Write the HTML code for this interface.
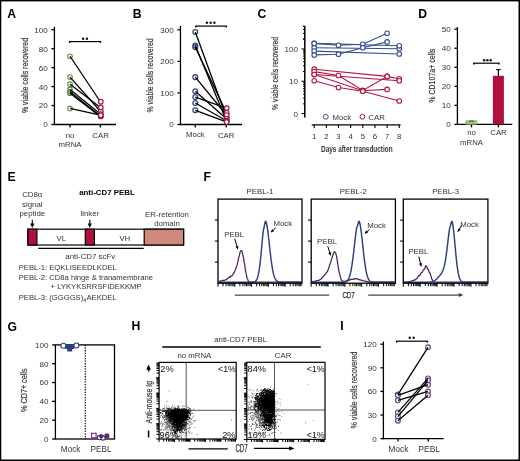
<!DOCTYPE html><html><head><meta charset="utf-8"><style>html,body{margin:0;padding:0;background:#fff}svg{display:block;will-change:transform}</style></head><body>
<svg width="520" height="461" viewBox="0 0 520 461" font-family='"Liberation Sans", sans-serif'>
<rect x="0" y="0" width="520" height="461" fill="#fff"/>
<text x="7.3" y="17.6" font-size="12.2" font-weight="bold" fill="#000">A</text>
<line x1="54.40" y1="26.70" x2="54.40" y2="125.15" stroke="#000" stroke-width="1.3" />
<line x1="51.40" y1="124.50" x2="54.40" y2="124.50" stroke="#000" stroke-width="1.3" />
<text x="47.8" y="127.42" font-size="8.1" text-anchor="end" fill="#333" font-weight="normal" >0</text>
<line x1="51.40" y1="105.54" x2="54.40" y2="105.54" stroke="#000" stroke-width="1.3" />
<text x="47.8" y="108.46" font-size="8.1" text-anchor="end" fill="#333" font-weight="normal" >20</text>
<line x1="51.40" y1="86.58" x2="54.40" y2="86.58" stroke="#000" stroke-width="1.3" />
<text x="47.8" y="89.5" font-size="8.1" text-anchor="end" fill="#333" font-weight="normal" >40</text>
<line x1="51.40" y1="67.62" x2="54.40" y2="67.62" stroke="#000" stroke-width="1.3" />
<text x="47.8" y="70.54" font-size="8.1" text-anchor="end" fill="#333" font-weight="normal" >60</text>
<line x1="51.40" y1="48.66" x2="54.40" y2="48.66" stroke="#000" stroke-width="1.3" />
<text x="47.8" y="51.58" font-size="8.1" text-anchor="end" fill="#333" font-weight="normal" >80</text>
<line x1="51.40" y1="29.70" x2="54.40" y2="29.70" stroke="#000" stroke-width="1.3" />
<text x="47.8" y="32.62" font-size="8.1" text-anchor="end" fill="#333" font-weight="normal" >100</text>
<line x1="53.75" y1="124.50" x2="116.00" y2="124.50" stroke="#000" stroke-width="1.3" />
<line x1="70.00" y1="124.50" x2="70.00" y2="127.50" stroke="#000" stroke-width="1.3" />
<line x1="100.40" y1="124.50" x2="100.40" y2="127.50" stroke="#000" stroke-width="1.3" />
<text x="70" y="137.71" font-size="7.8" text-anchor="middle" fill="#333" font-weight="normal" >no</text>
<text x="70" y="146.71" font-size="7.8" text-anchor="middle" fill="#333" font-weight="normal" >mRNA</text>
<text x="100.6" y="138.01" font-size="7.8" text-anchor="middle" fill="#333" font-weight="normal" >CAR</text>
<text transform="translate(27.6,75.5) rotate(-90)" x="0" y="0" font-size="9.4" text-anchor="middle" fill="#333" stroke="#333" stroke-width="0.2" textLength="75" lengthAdjust="spacingAndGlyphs">% viable cells recovered</text>
<line x1="69.20" y1="41.60" x2="100.80" y2="41.60" stroke="#000" stroke-width="1.2" />
<circle cx="69.60000000000001" cy="42.1" r="0.9" fill="#000"/><circle cx="100.39999999999999" cy="42.1" r="0.9" fill="#000"/>
<circle cx="83.1" cy="38.8" r="1.2" fill="#111"/>
<circle cx="86.9" cy="38.8" r="1.2" fill="#111"/>
<circle cx="70.00" cy="56.24" r="2.3" fill="none" stroke="#5f8f45" stroke-width="1.1"/>
<circle cx="70.00" cy="77.10" r="2.3" fill="none" stroke="#5f8f45" stroke-width="1.1"/>
<circle cx="70.00" cy="84.21" r="2.3" fill="none" stroke="#5f8f45" stroke-width="1.1"/>
<circle cx="70.00" cy="89.42" r="2.3" fill="none" stroke="#5f8f45" stroke-width="1.1"/>
<circle cx="70.00" cy="91.79" r="2.3" fill="none" stroke="#5f8f45" stroke-width="1.1"/>
<circle cx="70.00" cy="93.22" r="2.3" fill="none" stroke="#5f8f45" stroke-width="1.1"/>
<circle cx="70.00" cy="108.38" r="2.3" fill="none" stroke="#5f8f45" stroke-width="1.1"/>
<line x1="70.00" y1="56.24" x2="100.40" y2="101.75" stroke="#000" stroke-width="1.3" />
<line x1="70.00" y1="77.10" x2="100.40" y2="111.23" stroke="#000" stroke-width="1.3" />
<line x1="70.00" y1="84.21" x2="100.40" y2="107.44" stroke="#000" stroke-width="1.3" />
<line x1="70.00" y1="89.42" x2="100.40" y2="114.07" stroke="#000" stroke-width="1.3" />
<line x1="70.00" y1="91.79" x2="100.40" y2="115.97" stroke="#000" stroke-width="1.3" />
<line x1="70.00" y1="93.22" x2="100.40" y2="116.44" stroke="#000" stroke-width="1.3" />
<line x1="70.00" y1="108.38" x2="100.40" y2="115.21" stroke="#000" stroke-width="1.3" />
<circle cx="100.80" cy="101.75" r="2.3" fill="#fff" stroke="#9c1840" stroke-width="1.2"/>
<circle cx="100.80" cy="111.23" r="2.3" fill="#fff" stroke="#9c1840" stroke-width="1.2"/>
<circle cx="100.80" cy="107.44" r="2.3" fill="#fff" stroke="#9c1840" stroke-width="1.2"/>
<circle cx="100.80" cy="114.07" r="2.3" fill="#fff" stroke="#9c1840" stroke-width="1.2"/>
<circle cx="100.80" cy="115.97" r="2.3" fill="#fff" stroke="#9c1840" stroke-width="1.2"/>
<circle cx="100.80" cy="116.44" r="2.3" fill="#fff" stroke="#9c1840" stroke-width="1.2"/>
<circle cx="100.80" cy="115.21" r="2.3" fill="#fff" stroke="#9c1840" stroke-width="1.2"/>
<text x="132.7" y="17.6" font-size="12.2" font-weight="bold" fill="#000">B</text>
<line x1="180.45" y1="26.00" x2="180.45" y2="125.15" stroke="#000" stroke-width="1.3" />
<line x1="177.45" y1="124.50" x2="180.45" y2="124.50" stroke="#000" stroke-width="1.3" />
<text x="173.85" y="127.42" font-size="8.1" text-anchor="end" fill="#333" font-weight="normal" >0</text>
<line x1="177.45" y1="92.93" x2="180.45" y2="92.93" stroke="#000" stroke-width="1.3" />
<text x="173.85" y="95.85" font-size="8.1" text-anchor="end" fill="#333" font-weight="normal" >100</text>
<line x1="177.45" y1="61.37" x2="180.45" y2="61.37" stroke="#000" stroke-width="1.3" />
<text x="173.85" y="64.28" font-size="8.1" text-anchor="end" fill="#333" font-weight="normal" >200</text>
<line x1="177.45" y1="29.80" x2="180.45" y2="29.80" stroke="#000" stroke-width="1.3" />
<text x="173.85" y="32.72" font-size="8.1" text-anchor="end" fill="#333" font-weight="normal" >300</text>
<line x1="179.80" y1="124.50" x2="242.00" y2="124.50" stroke="#000" stroke-width="1.3" />
<line x1="195.30" y1="124.50" x2="195.30" y2="127.50" stroke="#000" stroke-width="1.3" />
<line x1="226.20" y1="124.50" x2="226.20" y2="127.50" stroke="#000" stroke-width="1.3" />
<text x="195.4" y="136.61" font-size="7.8" text-anchor="middle" fill="#333" font-weight="normal" >Mock</text>
<text x="226.2" y="137.81" font-size="7.8" text-anchor="middle" fill="#333" font-weight="normal" >CAR</text>
<text transform="translate(153.2,75.4) rotate(-90)" x="0" y="0" font-size="9.4" text-anchor="middle" fill="#333" stroke="#333" stroke-width="0.2" textLength="74" lengthAdjust="spacingAndGlyphs">% viable cells recovered</text>
<line x1="195.40" y1="26.10" x2="226.70" y2="26.10" stroke="#000" stroke-width="1.2" />
<circle cx="195.8" cy="26.6" r="0.9" fill="#000"/><circle cx="226.29999999999998" cy="26.6" r="0.9" fill="#000"/>
<circle cx="206.9" cy="22.7" r="1.2" fill="#111"/>
<circle cx="210.65" cy="22.7" r="1.2" fill="#111"/>
<circle cx="214.4" cy="22.7" r="1.2" fill="#111"/>
<circle cx="195.30" cy="32.01" r="2.4" fill="none" stroke="#3a4a72" stroke-width="1.3"/>
<circle cx="195.30" cy="45.58" r="2.4" fill="none" stroke="#3a4a72" stroke-width="1.3"/>
<circle cx="195.30" cy="47.16" r="2.4" fill="none" stroke="#3a4a72" stroke-width="1.3"/>
<circle cx="195.30" cy="77.15" r="2.4" fill="none" stroke="#3a4a72" stroke-width="1.3"/>
<circle cx="195.30" cy="91.36" r="2.4" fill="none" stroke="#3a4a72" stroke-width="1.3"/>
<circle cx="195.30" cy="97.04" r="2.4" fill="none" stroke="#3a4a72" stroke-width="1.3"/>
<circle cx="195.30" cy="103.03" r="2.4" fill="none" stroke="#3a4a72" stroke-width="1.3"/>
<circle cx="195.30" cy="110.30" r="2.4" fill="none" stroke="#3a4a72" stroke-width="1.3"/>
<line x1="195.30" y1="32.01" x2="226.40" y2="117.24" stroke="#000" stroke-width="1.3" />
<line x1="195.30" y1="45.58" x2="226.40" y2="120.71" stroke="#000" stroke-width="1.3" />
<line x1="195.30" y1="47.16" x2="226.40" y2="112.82" stroke="#000" stroke-width="1.3" />
<line x1="195.30" y1="77.15" x2="226.40" y2="115.03" stroke="#000" stroke-width="1.3" />
<line x1="195.30" y1="91.36" x2="226.40" y2="118.82" stroke="#000" stroke-width="1.3" />
<line x1="195.30" y1="97.04" x2="226.40" y2="108.09" stroke="#000" stroke-width="1.3" />
<line x1="195.30" y1="103.03" x2="226.40" y2="120.71" stroke="#000" stroke-width="1.3" />
<line x1="195.30" y1="110.30" x2="226.40" y2="121.97" stroke="#000" stroke-width="1.3" />
<circle cx="226.70" cy="117.24" r="2.3" fill="#fff" stroke="#9c1840" stroke-width="1.2"/>
<circle cx="226.70" cy="120.71" r="2.3" fill="#fff" stroke="#9c1840" stroke-width="1.2"/>
<circle cx="226.70" cy="112.82" r="2.3" fill="#fff" stroke="#9c1840" stroke-width="1.2"/>
<circle cx="226.70" cy="115.03" r="2.3" fill="#fff" stroke="#9c1840" stroke-width="1.2"/>
<circle cx="226.70" cy="118.82" r="2.3" fill="#fff" stroke="#9c1840" stroke-width="1.2"/>
<circle cx="226.70" cy="108.09" r="2.3" fill="#fff" stroke="#9c1840" stroke-width="1.2"/>
<circle cx="226.70" cy="120.71" r="2.3" fill="#fff" stroke="#9c1840" stroke-width="1.2"/>
<circle cx="226.70" cy="121.97" r="2.3" fill="#fff" stroke="#9c1840" stroke-width="1.2"/>
<text x="257.6" y="17.6" font-size="12.2" font-weight="bold" fill="#000">C</text>
<line x1="304.80" y1="25.90" x2="304.80" y2="117.40" stroke="#000" stroke-width="1.5" />
<line x1="301.40" y1="113.60" x2="304.80" y2="113.60" stroke="#000" stroke-width="1" />
<line x1="303.00" y1="103.86" x2="304.80" y2="103.86" stroke="#000" stroke-width="1" />
<line x1="303.00" y1="98.17" x2="304.80" y2="98.17" stroke="#000" stroke-width="1" />
<line x1="303.00" y1="94.12" x2="304.80" y2="94.12" stroke="#000" stroke-width="1" />
<line x1="303.00" y1="90.99" x2="304.80" y2="90.99" stroke="#000" stroke-width="1" />
<line x1="303.00" y1="88.43" x2="304.80" y2="88.43" stroke="#000" stroke-width="1" />
<line x1="303.00" y1="86.26" x2="304.80" y2="86.26" stroke="#000" stroke-width="1" />
<line x1="303.00" y1="84.39" x2="304.80" y2="84.39" stroke="#000" stroke-width="1" />
<line x1="303.00" y1="82.73" x2="304.80" y2="82.73" stroke="#000" stroke-width="1" />
<line x1="301.40" y1="81.25" x2="304.80" y2="81.25" stroke="#000" stroke-width="1" />
<line x1="303.00" y1="71.51" x2="304.80" y2="71.51" stroke="#000" stroke-width="1" />
<line x1="303.00" y1="65.82" x2="304.80" y2="65.82" stroke="#000" stroke-width="1" />
<line x1="303.00" y1="61.77" x2="304.80" y2="61.77" stroke="#000" stroke-width="1" />
<line x1="303.00" y1="58.64" x2="304.80" y2="58.64" stroke="#000" stroke-width="1" />
<line x1="303.00" y1="56.08" x2="304.80" y2="56.08" stroke="#000" stroke-width="1" />
<line x1="303.00" y1="53.91" x2="304.80" y2="53.91" stroke="#000" stroke-width="1" />
<line x1="303.00" y1="52.04" x2="304.80" y2="52.04" stroke="#000" stroke-width="1" />
<line x1="303.00" y1="50.38" x2="304.80" y2="50.38" stroke="#000" stroke-width="1" />
<line x1="301.40" y1="48.90" x2="304.80" y2="48.90" stroke="#000" stroke-width="1" />
<line x1="303.00" y1="39.16" x2="304.80" y2="39.16" stroke="#000" stroke-width="1" />
<line x1="303.00" y1="33.47" x2="304.80" y2="33.47" stroke="#000" stroke-width="1" />
<line x1="303.00" y1="29.42" x2="304.80" y2="29.42" stroke="#000" stroke-width="1" />
<line x1="303.00" y1="26.29" x2="304.80" y2="26.29" stroke="#000" stroke-width="1" />
<line x1="303.00" y1="39.16" x2="304.80" y2="39.16" stroke="#000" stroke-width="1" />
<line x1="303.00" y1="33.47" x2="304.80" y2="33.47" stroke="#000" stroke-width="1" />
<line x1="303.00" y1="29.42" x2="304.80" y2="29.42" stroke="#000" stroke-width="1" />
<line x1="303.00" y1="26.29" x2="304.80" y2="26.29" stroke="#000" stroke-width="1" />
<text x="297.90000000000003" y="51.82" font-size="8.1" text-anchor="end" fill="#333" font-weight="normal" >100</text>
<text x="297.90000000000003" y="84.17" font-size="8.1" text-anchor="end" fill="#333" font-weight="normal" >10</text>
<text x="297.90000000000003" y="117.32" font-size="8.1" text-anchor="end" fill="#333" font-weight="normal" >0</text>
<text transform="translate(277.9,73.4) rotate(-90)" x="0" y="0" font-size="9.4" text-anchor="middle" fill="#333" stroke="#333" stroke-width="0.2" textLength="73" lengthAdjust="spacingAndGlyphs">% viable cells recovered</text>
<line x1="311.70" y1="124.90" x2="400.60" y2="124.90" stroke="#000" stroke-width="1.4" />
<line x1="314.20" y1="124.90" x2="314.20" y2="128.00" stroke="#000" stroke-width="1.1" />
<text x="314.2" y="138.71" font-size="7.8" text-anchor="middle" fill="#333" font-weight="normal" >1</text>
<line x1="326.35" y1="124.90" x2="326.35" y2="128.00" stroke="#000" stroke-width="1.1" />
<text x="326.34999999999997" y="138.71" font-size="7.8" text-anchor="middle" fill="#333" font-weight="normal" >2</text>
<line x1="338.50" y1="124.90" x2="338.50" y2="128.00" stroke="#000" stroke-width="1.1" />
<text x="338.5" y="138.71" font-size="7.8" text-anchor="middle" fill="#333" font-weight="normal" >3</text>
<line x1="350.65" y1="124.90" x2="350.65" y2="128.00" stroke="#000" stroke-width="1.1" />
<text x="350.65" y="138.71" font-size="7.8" text-anchor="middle" fill="#333" font-weight="normal" >4</text>
<line x1="362.80" y1="124.90" x2="362.80" y2="128.00" stroke="#000" stroke-width="1.1" />
<text x="362.8" y="138.71" font-size="7.8" text-anchor="middle" fill="#333" font-weight="normal" >5</text>
<line x1="374.95" y1="124.90" x2="374.95" y2="128.00" stroke="#000" stroke-width="1.1" />
<text x="374.95" y="138.71" font-size="7.8" text-anchor="middle" fill="#333" font-weight="normal" >6</text>
<line x1="387.10" y1="124.90" x2="387.10" y2="128.00" stroke="#000" stroke-width="1.1" />
<text x="387.1" y="138.71" font-size="7.8" text-anchor="middle" fill="#333" font-weight="normal" >7</text>
<line x1="399.25" y1="124.90" x2="399.25" y2="128.00" stroke="#000" stroke-width="1.1" />
<text x="399.25" y="138.71" font-size="7.8" text-anchor="middle" fill="#333" font-weight="normal" >8</text>
<text x="356.8" y="152.2" font-size="9.4" text-anchor="middle" fill="#333" font-weight="bold" textLength="71.5" lengthAdjust="spacingAndGlyphs" style="font-weight:600">Days after transduction</text>
<circle cx="325.80" cy="116.80" r="2.4" fill="#fff" stroke="#34508e" stroke-width="1"/>
<text x="332.5" y="119.61" font-size="7.8" text-anchor="start" fill="#333" font-weight="normal" >Mock</text>
<circle cx="362.40" cy="116.80" r="2.4" fill="#fff" stroke="#b0103a" stroke-width="1"/>
<text x="368.3" y="119.61" font-size="7.8" text-anchor="start" fill="#333" font-weight="normal" >CAR</text>
<polyline points="314.20,43.40 338.50,45.30 362.80,44.30 387.10,33.30" fill="none" stroke="#33508c" stroke-width="1.1"/>
<polyline points="314.20,47.70 399.25,48.70" fill="none" stroke="#33508c" stroke-width="1.1"/>
<polyline points="314.20,51.10 399.25,54.00" fill="none" stroke="#33508c" stroke-width="1.1"/>
<polyline points="314.20,54.90 338.50,54.20 362.80,47.70 387.10,41.90" fill="none" stroke="#33508c" stroke-width="1.1"/>
<polyline points="314.20,43.40 399.25,45.80" fill="none" stroke="#33508c" stroke-width="1.1"/>
<circle cx="314.20" cy="43.40" r="2.3" fill="#fff" stroke="#33508c" stroke-width="1.1"/>
<circle cx="338.50" cy="45.30" r="2.3" fill="#fff" stroke="#33508c" stroke-width="1.1"/>
<circle cx="362.80" cy="44.30" r="2.3" fill="#fff" stroke="#33508c" stroke-width="1.1"/>
<circle cx="387.10" cy="33.30" r="2.3" fill="#fff" stroke="#33508c" stroke-width="1.1"/>
<circle cx="314.20" cy="47.70" r="2.3" fill="#fff" stroke="#33508c" stroke-width="1.1"/>
<circle cx="399.25" cy="48.70" r="2.3" fill="#fff" stroke="#33508c" stroke-width="1.1"/>
<circle cx="314.20" cy="51.10" r="2.3" fill="#fff" stroke="#33508c" stroke-width="1.1"/>
<circle cx="399.25" cy="54.00" r="2.3" fill="#fff" stroke="#33508c" stroke-width="1.1"/>
<circle cx="314.20" cy="54.90" r="2.3" fill="#fff" stroke="#33508c" stroke-width="1.1"/>
<circle cx="338.50" cy="54.20" r="2.3" fill="#fff" stroke="#33508c" stroke-width="1.1"/>
<circle cx="362.80" cy="47.70" r="2.3" fill="#fff" stroke="#33508c" stroke-width="1.1"/>
<circle cx="387.10" cy="41.90" r="2.3" fill="#fff" stroke="#33508c" stroke-width="1.1"/>
<circle cx="314.20" cy="43.40" r="2.3" fill="#fff" stroke="#33508c" stroke-width="1.1"/>
<circle cx="399.25" cy="45.80" r="2.3" fill="#fff" stroke="#33508c" stroke-width="1.1"/>
<polyline points="314.20,69.20 387.10,76.40 399.25,78.80" fill="none" stroke="#b01840" stroke-width="1.1"/>
<polyline points="314.20,71.60 338.50,75.50 362.80,90.40 387.10,76.40" fill="none" stroke="#b01840" stroke-width="1.1"/>
<polyline points="314.20,74.50 399.25,80.75" fill="none" stroke="#b01840" stroke-width="1.1"/>
<polyline points="314.20,74.50 362.80,90.80 387.10,89.40" fill="none" stroke="#b01840" stroke-width="1.1"/>
<polyline points="314.20,80.75 338.50,87.50 362.80,91.20 399.25,101.00" fill="none" stroke="#b01840" stroke-width="1.1"/>
<circle cx="314.20" cy="69.20" r="2.3" fill="#fff" stroke="#b01840" stroke-width="1.1"/>
<circle cx="387.10" cy="76.40" r="2.3" fill="#fff" stroke="#b01840" stroke-width="1.1"/>
<circle cx="399.25" cy="78.80" r="2.3" fill="#fff" stroke="#b01840" stroke-width="1.1"/>
<circle cx="314.20" cy="71.60" r="2.3" fill="#fff" stroke="#b01840" stroke-width="1.1"/>
<circle cx="338.50" cy="75.50" r="2.3" fill="#fff" stroke="#b01840" stroke-width="1.1"/>
<circle cx="362.80" cy="90.40" r="2.3" fill="#fff" stroke="#b01840" stroke-width="1.1"/>
<circle cx="387.10" cy="76.40" r="2.3" fill="#fff" stroke="#b01840" stroke-width="1.1"/>
<circle cx="314.20" cy="74.50" r="2.3" fill="#fff" stroke="#b01840" stroke-width="1.1"/>
<circle cx="399.25" cy="80.75" r="2.3" fill="#fff" stroke="#b01840" stroke-width="1.1"/>
<circle cx="314.20" cy="74.50" r="2.3" fill="#fff" stroke="#b01840" stroke-width="1.1"/>
<circle cx="362.80" cy="90.80" r="2.3" fill="#fff" stroke="#b01840" stroke-width="1.1"/>
<circle cx="387.10" cy="89.40" r="2.3" fill="#fff" stroke="#b01840" stroke-width="1.1"/>
<circle cx="314.20" cy="80.75" r="2.3" fill="#fff" stroke="#b01840" stroke-width="1.1"/>
<circle cx="338.50" cy="87.50" r="2.3" fill="#fff" stroke="#b01840" stroke-width="1.1"/>
<circle cx="362.80" cy="91.20" r="2.3" fill="#fff" stroke="#b01840" stroke-width="1.1"/>
<circle cx="399.25" cy="101.00" r="2.3" fill="#fff" stroke="#b01840" stroke-width="1.1"/>
<text x="418.3" y="17.6" font-size="12.2" font-weight="bold" fill="#000">D</text>
<line x1="457.40" y1="27.00" x2="457.40" y2="125.05" stroke="#000" stroke-width="1.3" />
<line x1="454.40" y1="124.40" x2="457.40" y2="124.40" stroke="#000" stroke-width="1.3" />
<text x="450.79999999999995" y="127.32" font-size="8.1" text-anchor="end" fill="#333" font-weight="normal" >0</text>
<line x1="454.40" y1="105.36" x2="457.40" y2="105.36" stroke="#000" stroke-width="1.3" />
<text x="450.79999999999995" y="108.28" font-size="8.1" text-anchor="end" fill="#333" font-weight="normal" >10</text>
<line x1="454.40" y1="86.32" x2="457.40" y2="86.32" stroke="#000" stroke-width="1.3" />
<text x="450.79999999999995" y="89.24" font-size="8.1" text-anchor="end" fill="#333" font-weight="normal" >20</text>
<line x1="454.40" y1="67.28" x2="457.40" y2="67.28" stroke="#000" stroke-width="1.3" />
<text x="450.79999999999995" y="70.2" font-size="8.1" text-anchor="end" fill="#333" font-weight="normal" >30</text>
<line x1="454.40" y1="48.24" x2="457.40" y2="48.24" stroke="#000" stroke-width="1.3" />
<text x="450.79999999999995" y="51.16" font-size="8.1" text-anchor="end" fill="#333" font-weight="normal" >40</text>
<line x1="454.40" y1="29.20" x2="457.40" y2="29.20" stroke="#000" stroke-width="1.3" />
<text x="450.79999999999995" y="32.12" font-size="8.1" text-anchor="end" fill="#333" font-weight="normal" >50</text>
<line x1="456.75" y1="124.40" x2="512.30" y2="124.40" stroke="#000" stroke-width="1.3" />
<line x1="471.50" y1="124.40" x2="471.50" y2="127.40" stroke="#000" stroke-width="1.3" />
<line x1="498.40" y1="124.40" x2="498.40" y2="127.40" stroke="#000" stroke-width="1.3" />
<rect x="465.8" y="120.8" width="11.1" height="3.6000000000000085" fill="#9cc47a" stroke="#6a9a4a" stroke-width="0.5"/>
<line x1="469.00" y1="121.10" x2="474.00" y2="121.10" stroke="#2a4a1a" stroke-width="0.9" />
<line x1="498.40" y1="69.40" x2="498.40" y2="76.00" stroke="#000" stroke-width="1.2" />
<line x1="496.20" y1="69.60" x2="500.60" y2="69.60" stroke="#000" stroke-width="1.2" />
<rect x="492.9" y="75.8" width="11.0" height="48.60000000000001" fill="#b0103a"/>
<text x="471.5" y="135.01" font-size="7.8" text-anchor="middle" fill="#333" font-weight="normal" >no</text>
<text x="471.5" y="144.91" font-size="7.8" text-anchor="middle" fill="#333" font-weight="normal" >mRNA</text>
<text x="498.5" y="135.21" font-size="7.8" text-anchor="middle" fill="#333" font-weight="normal" >CAR</text>
<text transform="translate(435.0,75.7) rotate(-90)" x="0" y="0" font-size="9.4" text-anchor="middle" fill="#333" stroke="#333" stroke-width="0.2" textLength="54" lengthAdjust="spacingAndGlyphs">% CD107a+ cells</text>
<line x1="473.50" y1="63.20" x2="499.30" y2="63.20" stroke="#000" stroke-width="1.2" />
<circle cx="473.9" cy="63.7" r="0.9" fill="#000"/><circle cx="498.90000000000003" cy="63.7" r="0.9" fill="#000"/>
<circle cx="484.1" cy="60.2" r="1.2" fill="#111"/>
<circle cx="487.4" cy="60.2" r="1.2" fill="#111"/>
<circle cx="490.7" cy="60.2" r="1.2" fill="#111"/>
<text x="7.6" y="180.8" font-size="12.2" font-weight="bold" fill="#000">E</text>
<text x="107" y="194.5" font-size="7.9" text-anchor="middle" fill="#000" font-weight="bold" >anti-CD7 PEBL</text>
<text x="32.3" y="197.3" font-size="7.8" text-anchor="middle" fill="#333" font-weight="normal" >CD8&#945;</text>
<text x="32.3" y="206.7" font-size="7.8" text-anchor="middle" fill="#333" font-weight="normal" >signal</text>
<text x="32.3" y="216.2" font-size="7.8" text-anchor="middle" fill="#333" font-weight="normal" >peptide</text>
<text x="89.8" y="216.2" font-size="7.8" text-anchor="middle" fill="#333" font-weight="normal" >linker</text>
<text x="167" y="216.7" font-size="7.8" text-anchor="middle" fill="#333" font-weight="normal" >ER-retention</text>
<text x="167" y="226.1" font-size="7.8" text-anchor="middle" fill="#333" font-weight="normal" >domain</text>
<line x1="32.30" y1="219.80" x2="32.30" y2="224.90" stroke="#000" stroke-width="1.1" />
<path d="M30.199999999999996,223.5 L34.4,223.5 L32.3,227.9 Z" fill="#000"/>
<line x1="89.80" y1="219.80" x2="89.80" y2="224.90" stroke="#000" stroke-width="1.1" />
<path d="M87.7,223.5 L91.89999999999999,223.5 L89.8,227.9 Z" fill="#000"/>
<rect x="27.9" y="229.2" width="155.7" height="15.800000000000011" fill="#fff" stroke="#000" stroke-width="1.2"/>
<rect x="27.9" y="229.2" width="9.0" height="15.800000000000011" fill="#b0103a" stroke="#000" stroke-width="1.2"/>
<rect x="85.3" y="229.2" width="9.100000000000009" height="15.800000000000011" fill="#b0103a" stroke="#000" stroke-width="1.2"/>
<rect x="144.2" y="229.2" width="39.400000000000006" height="15.800000000000011" fill="#d08a7c" stroke="#000" stroke-width="1.2"/>
<text x="61.3" y="241.0" font-size="7.8" text-anchor="middle" fill="#333" font-weight="normal" >VL</text>
<text x="124.8" y="240.6" font-size="7.8" text-anchor="middle" fill="#333" font-weight="normal" >VH</text>
<line x1="38.30" y1="248.40" x2="143.80" y2="248.40" stroke="#000" stroke-width="1.2" />
<text x="90.3" y="258.7" font-size="7.9" text-anchor="middle" fill="#333" font-weight="normal" >anti-CD7 scFv</text>
<text x="18.7" y="270.1" font-size="7.65" text-anchor="start" fill="#333" font-weight="normal" >PEBL-1: EQKLISEEDLKDEL</text>
<text x="18.7" y="279.9" font-size="7.65" text-anchor="start" fill="#333" font-weight="normal" >PEBL-2: CD8a hinge &amp; tranamembrane</text>
<text x="50.6" y="289.2" font-size="7.65" text-anchor="start" fill="#333" font-weight="normal" >+ LYKYKSRRSFIDEKKMP</text>
<text x="18.7" y="299.6" font-size="7.65" fill="#333">PEBL-3: (GGGGS)<tspan font-size="5.2" dy="2">4</tspan><tspan dy="-2" dx="0.3">AEKDEL</tspan></text>
<text x="203.6" y="180.8" font-size="12.2" font-weight="bold" fill="#000">F</text>
<text x="260.0" y="193.81" font-size="7.8" text-anchor="middle" fill="#333" font-weight="normal" >PEBL-1</text>
<path d="M218.60,281.79 L219.15,281.62 L219.70,281.13 L220.26,281.18 L220.81,280.79 L221.36,280.77 L221.91,280.83 L222.46,280.47 L223.02,280.64 L223.57,280.29 L224.12,280.40 L224.67,280.27 L225.22,279.91 L225.78,279.49 L226.33,279.69 L226.88,279.31 L227.43,278.66 L227.98,278.03 L228.54,277.94 L229.09,277.70 L229.64,276.75 L230.19,277.28 L230.74,276.03 L231.30,276.19 L231.85,275.85 L232.40,275.28 L232.95,274.33 L233.50,272.85 L234.06,272.92 L234.61,271.36 L235.16,270.18 L235.71,269.27 L236.26,267.22 L236.82,265.90 L237.37,263.77 L237.92,261.42 L238.47,258.70 L239.02,256.77 L239.58,254.55 L240.13,252.03 L240.68,250.76 L241.23,250.56 L241.78,250.72 L242.34,252.67 L242.89,255.50 L243.44,257.44 L243.99,260.82 L244.54,263.85 L245.10,267.42 L245.65,271.46 L246.20,273.70 L246.75,277.08 L247.30,278.49 L247.86,279.70 L248.41,281.17 L248.96,281.77 L249.51,282.20 L250.06,282.08 L250.62,282.10 L251.17,282.17 L251.72,282.06 L252.27,282.20 L252.82,282.13 L253.38,282.17 L253.93,282.17 L254.48,282.20 L255.03,282.07 L255.58,282.04 L256.14,282.20 L256.69,282.14 L257.24,282.20 L257.79,282.13 L258.34,282.15 L258.90,282.02 L259.45,282.08 L260.00,282.20 L260.55,282.20 L261.10,282.14 L261.66,282.20 L262.21,282.20 L262.76,282.20 L263.31,282.20 L263.86,282.20 L264.42,282.10 L264.97,282.20 L265.52,282.20 L266.07,282.20 L266.62,282.06 L267.18,282.20 L267.73,282.20 L268.28,282.18 L268.83,282.06 L269.38,282.08 L269.94,282.07 L270.49,282.20 L271.04,282.20 L271.59,282.20 L272.14,282.06 L272.70,282.03 L273.25,282.20 L273.80,282.20 L274.35,282.20 L274.90,282.20 L275.46,282.20 L276.01,282.17 L276.56,282.20 L277.11,282.20 L277.66,282.20 L278.22,282.20 L278.77,282.18 L279.32,282.03 L279.87,282.13 L280.42,282.19 L280.98,282.16 L281.53,282.13 L282.08,282.20 L282.63,282.05 L283.18,282.10 L283.74,282.06 L284.29,282.09 L284.84,282.20 L285.39,282.20 L285.94,282.20 L286.50,282.15 L287.05,282.20 L287.60,282.20 L288.15,282.20 L288.70,282.20 L289.26,282.20 L289.81,282.20 L290.36,282.20 L290.91,282.20 L291.46,282.20 L292.02,282.20 L292.57,282.20 L293.12,282.06 L293.67,282.16 L294.22,282.20 L294.78,282.20 L295.33,282.20 L295.88,282.20 L296.43,282.20 L296.98,282.07 L297.54,282.02 L298.09,282.20 L298.64,282.20 L299.19,282.20 L299.74,282.20 L300.30,282.20 L300.85,282.20 L301.40,282.08" fill="none" stroke="#4e2060" stroke-width="1.25" stroke-linejoin="round"/>
<path d="M218.60,282.20 L219.12,282.20 L219.63,282.20 L220.15,282.20 L220.67,282.20 L221.19,282.20 L221.70,282.20 L222.22,282.20 L222.74,282.20 L223.26,282.20 L223.78,282.20 L224.29,282.20 L224.81,282.20 L225.33,282.20 L225.84,282.20 L226.36,282.20 L226.88,282.20 L227.40,282.20 L227.91,282.20 L228.43,282.20 L228.95,282.20 L229.47,282.20 L229.98,282.20 L230.50,282.20 L231.02,282.20 L231.54,282.20 L232.06,282.20 L232.57,282.20 L233.09,282.20 L233.61,282.20 L234.12,282.20 L234.64,282.20 L235.16,282.20 L235.68,282.20 L236.19,282.20 L236.71,282.20 L237.23,282.20 L237.75,282.20 L238.26,282.20 L238.78,282.20 L239.30,282.20 L239.82,282.20 L240.33,282.20 L240.85,282.20 L241.37,282.20 L241.89,282.20 L242.40,282.20 L242.92,282.20 L243.44,282.20 L243.96,282.20 L244.47,282.20 L244.99,282.20 L245.51,282.20 L246.03,282.20 L246.54,282.20 L247.06,282.20 L247.58,282.20 L248.10,282.20 L248.61,282.20 L249.13,282.20 L249.65,282.20 L250.17,282.20 L250.69,282.19 L251.20,282.19 L251.72,282.18 L252.24,282.16 L252.75,282.13 L253.27,282.08 L253.79,282.00 L254.31,281.87 L254.82,281.67 L255.34,281.36 L255.86,280.90 L256.38,280.23 L256.89,279.30 L257.41,278.03 L257.93,276.33 L258.45,274.13 L258.96,271.36 L259.48,267.97 L260.00,263.95 L260.52,259.33 L261.03,254.20 L261.55,248.70 L262.07,243.04 L262.59,237.50 L263.10,232.61 L263.62,229.19 L264.14,226.98 L264.66,224.32 L265.17,221.80 L265.69,221.19 L266.21,222.22 L266.73,224.32 L267.25,227.25 L267.76,230.85 L268.28,234.98 L268.80,239.46 L269.31,244.13 L269.83,248.82 L270.35,253.40 L270.87,257.74 L271.38,261.76 L271.90,265.38 L272.42,268.58 L272.94,271.35 L273.45,273.69 L273.97,275.63 L274.49,277.21 L275.01,278.47 L275.52,279.46 L276.04,280.21 L276.56,280.78 L277.08,281.21 L277.59,281.51 L278.11,281.73 L278.63,281.89 L279.15,281.99 L279.66,282.07 L280.18,282.12 L280.70,282.15 L281.22,282.17 L281.73,282.18 L282.25,282.19 L282.77,282.19 L283.29,282.20 L283.80,282.20 L284.32,282.20 L284.84,282.20 L285.36,282.20 L285.88,282.20 L286.39,282.20 L286.91,282.20 L287.43,282.20 L287.94,282.20 L288.46,282.20 L288.98,282.20 L289.50,282.20 L290.01,282.20 L290.53,282.20 L291.05,282.20 L291.57,282.20 L292.08,282.20 L292.60,282.20 L293.12,282.20 L293.64,282.20 L294.15,282.20 L294.67,282.20 L295.19,282.20 L295.71,282.20 L296.22,282.20 L296.74,282.20 L297.26,282.20 L297.78,282.20 L298.29,282.20 L298.81,282.20 L299.33,282.20 L299.85,282.20 L300.37,282.20 L300.88,282.20 L301.40,282.20" fill="none" stroke="#2d3f80" stroke-width="1.45" stroke-linejoin="round"/>
<rect x="218.0" y="199.1" width="84.0" height="84.1" fill="none" stroke="#000" stroke-width="1.3"/>
<line x1="214.80" y1="220.10" x2="218.00" y2="220.10" stroke="#000" stroke-width="1.1" />
<line x1="214.80" y1="241.10" x2="218.00" y2="241.10" stroke="#000" stroke-width="1.1" />
<line x1="214.80" y1="262.10" x2="218.00" y2="262.10" stroke="#000" stroke-width="1.1" />
<line x1="218.00" y1="283.20" x2="218.00" y2="286.80" stroke="#000" stroke-width="1.0" />
<line x1="223.06" y1="283.20" x2="223.06" y2="286.20" stroke="#000" stroke-width="1.0" />
<line x1="226.02" y1="283.20" x2="226.02" y2="286.20" stroke="#000" stroke-width="1.0" />
<line x1="228.11" y1="283.20" x2="228.11" y2="286.20" stroke="#000" stroke-width="1.0" />
<line x1="229.74" y1="283.20" x2="229.74" y2="286.20" stroke="#000" stroke-width="1.0" />
<line x1="231.07" y1="283.20" x2="231.07" y2="286.20" stroke="#000" stroke-width="0.8" />
<line x1="232.20" y1="283.20" x2="232.20" y2="286.20" stroke="#000" stroke-width="0.8" />
<line x1="233.17" y1="283.20" x2="233.17" y2="286.20" stroke="#000" stroke-width="0.8" />
<line x1="234.03" y1="283.20" x2="234.03" y2="286.20" stroke="#000" stroke-width="0.8" />
<line x1="234.80" y1="283.20" x2="234.80" y2="286.80" stroke="#000" stroke-width="1.0" />
<line x1="239.86" y1="283.20" x2="239.86" y2="286.20" stroke="#000" stroke-width="1.0" />
<line x1="242.82" y1="283.20" x2="242.82" y2="286.20" stroke="#000" stroke-width="1.0" />
<line x1="244.91" y1="283.20" x2="244.91" y2="286.20" stroke="#000" stroke-width="1.0" />
<line x1="246.54" y1="283.20" x2="246.54" y2="286.20" stroke="#000" stroke-width="1.0" />
<line x1="247.87" y1="283.20" x2="247.87" y2="286.20" stroke="#000" stroke-width="0.8" />
<line x1="249.00" y1="283.20" x2="249.00" y2="286.20" stroke="#000" stroke-width="0.8" />
<line x1="249.97" y1="283.20" x2="249.97" y2="286.20" stroke="#000" stroke-width="0.8" />
<line x1="250.83" y1="283.20" x2="250.83" y2="286.20" stroke="#000" stroke-width="0.8" />
<line x1="251.60" y1="283.20" x2="251.60" y2="286.80" stroke="#000" stroke-width="1.0" />
<line x1="256.66" y1="283.20" x2="256.66" y2="286.20" stroke="#000" stroke-width="1.0" />
<line x1="259.62" y1="283.20" x2="259.62" y2="286.20" stroke="#000" stroke-width="1.0" />
<line x1="261.71" y1="283.20" x2="261.71" y2="286.20" stroke="#000" stroke-width="1.0" />
<line x1="263.34" y1="283.20" x2="263.34" y2="286.20" stroke="#000" stroke-width="1.0" />
<line x1="264.67" y1="283.20" x2="264.67" y2="286.20" stroke="#000" stroke-width="0.8" />
<line x1="265.80" y1="283.20" x2="265.80" y2="286.20" stroke="#000" stroke-width="0.8" />
<line x1="266.77" y1="283.20" x2="266.77" y2="286.20" stroke="#000" stroke-width="0.8" />
<line x1="267.63" y1="283.20" x2="267.63" y2="286.20" stroke="#000" stroke-width="0.8" />
<line x1="268.40" y1="283.20" x2="268.40" y2="286.80" stroke="#000" stroke-width="1.0" />
<line x1="273.46" y1="283.20" x2="273.46" y2="286.20" stroke="#000" stroke-width="1.0" />
<line x1="276.42" y1="283.20" x2="276.42" y2="286.20" stroke="#000" stroke-width="1.0" />
<line x1="278.51" y1="283.20" x2="278.51" y2="286.20" stroke="#000" stroke-width="1.0" />
<line x1="280.14" y1="283.20" x2="280.14" y2="286.20" stroke="#000" stroke-width="1.0" />
<line x1="281.47" y1="283.20" x2="281.47" y2="286.20" stroke="#000" stroke-width="0.8" />
<line x1="282.60" y1="283.20" x2="282.60" y2="286.20" stroke="#000" stroke-width="0.8" />
<line x1="283.57" y1="283.20" x2="283.57" y2="286.20" stroke="#000" stroke-width="0.8" />
<line x1="284.43" y1="283.20" x2="284.43" y2="286.20" stroke="#000" stroke-width="0.8" />
<line x1="285.20" y1="283.20" x2="285.20" y2="286.80" stroke="#000" stroke-width="1.0" />
<line x1="290.26" y1="283.20" x2="290.26" y2="286.20" stroke="#000" stroke-width="1.0" />
<line x1="293.22" y1="283.20" x2="293.22" y2="286.20" stroke="#000" stroke-width="1.0" />
<line x1="295.31" y1="283.20" x2="295.31" y2="286.20" stroke="#000" stroke-width="1.0" />
<line x1="296.94" y1="283.20" x2="296.94" y2="286.20" stroke="#000" stroke-width="1.0" />
<line x1="298.27" y1="283.20" x2="298.27" y2="286.20" stroke="#000" stroke-width="0.8" />
<line x1="299.40" y1="283.20" x2="299.40" y2="286.20" stroke="#000" stroke-width="0.8" />
<line x1="300.37" y1="283.20" x2="300.37" y2="286.20" stroke="#000" stroke-width="0.8" />
<line x1="301.23" y1="283.20" x2="301.23" y2="286.20" stroke="#000" stroke-width="0.8" />
<text x="353.29999999999995" y="193.81" font-size="7.8" text-anchor="middle" fill="#333" font-weight="normal" >PEBL-2</text>
<path d="M311.80,282.10 L312.35,281.93 L312.91,281.42 L313.46,281.52 L314.01,281.61 L314.57,281.33 L315.12,281.48 L315.67,281.13 L316.23,280.78 L316.78,280.70 L317.33,280.64 L317.89,280.71 L318.44,280.48 L318.99,280.40 L319.55,279.80 L320.10,279.58 L320.65,279.00 L321.21,278.90 L321.76,278.52 L322.31,277.51 L322.87,276.80 L323.42,276.35 L323.97,275.81 L324.53,275.10 L325.08,274.38 L325.63,274.24 L326.19,272.97 L326.74,272.27 L327.29,271.73 L327.85,270.61 L328.40,268.98 L328.95,267.62 L329.51,265.49 L330.06,263.56 L330.61,262.76 L331.17,260.53 L331.72,258.84 L332.27,256.78 L332.83,255.46 L333.38,253.70 L333.93,252.26 L334.49,251.71 L335.04,252.23 L335.59,253.07 L336.15,254.69 L336.70,256.98 L337.25,260.57 L337.81,264.16 L338.36,267.79 L338.91,271.74 L339.47,273.38 L340.02,275.46 L340.57,277.66 L341.13,279.30 L341.68,280.53 L342.23,281.10 L342.79,281.06 L343.34,281.49 L343.89,281.35 L344.45,281.26 L345.00,281.47 L345.55,281.34 L346.11,280.93 L346.66,280.89 L347.21,281.01 L347.77,280.87 L348.32,280.68 L348.87,280.05 L349.43,279.91 L349.98,280.14 L350.53,279.52 L351.09,279.23 L351.64,279.28 L352.19,279.35 L352.75,279.07 L353.30,279.28 L353.85,279.29 L354.41,278.49 L354.96,278.71 L355.51,278.80 L356.07,278.51 L356.62,278.95 L357.17,278.70 L357.73,278.84 L358.28,279.42 L358.83,279.53 L359.39,279.66 L359.94,279.87 L360.49,279.82 L361.05,280.21 L361.60,280.30 L362.15,280.65 L362.71,280.39 L363.26,280.88 L363.81,280.99 L364.37,281.08 L364.92,281.07 L365.47,281.43 L366.03,281.33 L366.58,281.62 L367.13,281.70 L367.69,281.79 L368.24,282.07 L368.79,281.95 L369.35,282.11 L369.90,282.20 L370.45,281.95 L371.01,282.20 L371.56,282.12 L372.11,282.05 L372.67,282.13 L373.22,282.20 L373.77,282.16 L374.33,282.16 L374.88,282.08 L375.43,282.20 L375.99,282.17 L376.54,282.20 L377.09,282.20 L377.65,282.10 L378.20,282.19 L378.75,282.18 L379.31,282.10 L379.86,282.05 L380.41,282.20 L380.97,282.16 L381.52,282.20 L382.07,282.20 L382.63,282.13 L383.18,282.20 L383.73,282.19 L384.29,282.20 L384.84,282.04 L385.39,282.13 L385.95,282.06 L386.50,282.04 L387.05,282.20 L387.61,282.18 L388.16,282.04 L388.71,282.07 L389.27,282.20 L389.82,282.20 L390.37,282.20 L390.93,282.20 L391.48,282.20 L392.03,282.20 L392.59,282.14 L393.14,282.10 L393.69,282.05 L394.25,282.20 L394.80,282.12" fill="none" stroke="#4e2060" stroke-width="1.25" stroke-linejoin="round"/>
<path d="M311.80,282.20 L312.32,282.20 L312.84,282.20 L313.36,282.20 L313.88,282.20 L314.39,282.20 L314.91,282.20 L315.43,282.20 L315.95,282.20 L316.47,282.20 L316.99,282.20 L317.51,282.20 L318.03,282.20 L318.54,282.20 L319.06,282.20 L319.58,282.20 L320.10,282.20 L320.62,282.20 L321.14,282.20 L321.66,282.20 L322.18,282.20 L322.69,282.20 L323.21,282.20 L323.73,282.20 L324.25,282.20 L324.77,282.20 L325.29,282.20 L325.81,282.20 L326.32,282.20 L326.84,282.20 L327.36,282.20 L327.88,282.20 L328.40,282.20 L328.92,282.20 L329.44,282.20 L329.96,282.20 L330.48,282.20 L330.99,282.20 L331.51,282.20 L332.03,282.20 L332.55,282.20 L333.07,282.20 L333.59,282.20 L334.11,282.20 L334.62,282.20 L335.14,282.20 L335.66,282.20 L336.18,282.20 L336.70,282.20 L337.22,282.20 L337.74,282.20 L338.26,282.20 L338.77,282.20 L339.29,282.20 L339.81,282.20 L340.33,282.20 L340.85,282.19 L341.37,282.19 L341.89,282.18 L342.41,282.17 L342.93,282.15 L343.44,282.12 L343.96,282.07 L344.48,282.00 L345.00,281.90 L345.52,281.75 L346.04,281.55 L346.56,281.26 L347.07,280.87 L347.59,280.34 L348.11,279.64 L348.63,278.73 L349.15,277.56 L349.67,276.11 L350.19,274.31 L350.71,272.15 L351.22,269.58 L351.74,266.60 L352.26,263.20 L352.78,259.42 L353.30,255.29 L353.82,250.90 L354.34,246.34 L354.86,241.74 L355.38,237.25 L355.89,233.03 L356.41,229.44 L356.93,227.16 L357.45,226.06 L357.97,224.36 L358.49,222.08 L359.01,221.17 L359.52,222.02 L360.04,224.08 L360.56,227.02 L361.08,230.69 L361.60,234.91 L362.12,239.52 L362.64,244.32 L363.16,249.14 L363.67,253.82 L364.19,258.25 L364.71,262.33 L365.23,265.98 L365.75,269.19 L366.27,271.93 L366.79,274.24 L367.31,276.12 L367.82,277.64 L368.34,278.84 L368.86,279.76 L369.38,280.46 L369.90,280.98 L370.42,281.36 L370.94,281.63 L371.46,281.82 L371.97,281.95 L372.49,282.04 L373.01,282.10 L373.53,282.14 L374.05,282.16 L374.57,282.18 L375.09,282.19 L375.61,282.19 L376.12,282.20 L376.64,282.20 L377.16,282.20 L377.68,282.20 L378.20,282.20 L378.72,282.20 L379.24,282.20 L379.76,282.20 L380.27,282.20 L380.79,282.20 L381.31,282.20 L381.83,282.20 L382.35,282.20 L382.87,282.20 L383.39,282.20 L383.91,282.20 L384.42,282.20 L384.94,282.20 L385.46,282.20 L385.98,282.20 L386.50,282.20 L387.02,282.20 L387.54,282.20 L388.06,282.20 L388.57,282.20 L389.09,282.20 L389.61,282.20 L390.13,282.20 L390.65,282.20 L391.17,282.20 L391.69,282.20 L392.21,282.20 L392.72,282.20 L393.24,282.20 L393.76,282.20 L394.28,282.20 L394.80,282.20" fill="none" stroke="#2d3f80" stroke-width="1.45" stroke-linejoin="round"/>
<rect x="311.2" y="199.1" width="84.19999999999999" height="84.1" fill="none" stroke="#000" stroke-width="1.3"/>
<line x1="308.00" y1="220.10" x2="311.20" y2="220.10" stroke="#000" stroke-width="1.1" />
<line x1="308.00" y1="241.10" x2="311.20" y2="241.10" stroke="#000" stroke-width="1.1" />
<line x1="308.00" y1="262.10" x2="311.20" y2="262.10" stroke="#000" stroke-width="1.1" />
<line x1="311.20" y1="283.20" x2="311.20" y2="286.80" stroke="#000" stroke-width="1.0" />
<line x1="316.27" y1="283.20" x2="316.27" y2="286.20" stroke="#000" stroke-width="1.0" />
<line x1="319.23" y1="283.20" x2="319.23" y2="286.20" stroke="#000" stroke-width="1.0" />
<line x1="321.34" y1="283.20" x2="321.34" y2="286.20" stroke="#000" stroke-width="1.0" />
<line x1="322.97" y1="283.20" x2="322.97" y2="286.20" stroke="#000" stroke-width="1.0" />
<line x1="324.30" y1="283.20" x2="324.30" y2="286.20" stroke="#000" stroke-width="0.8" />
<line x1="325.43" y1="283.20" x2="325.43" y2="286.20" stroke="#000" stroke-width="0.8" />
<line x1="326.41" y1="283.20" x2="326.41" y2="286.20" stroke="#000" stroke-width="0.8" />
<line x1="327.27" y1="283.20" x2="327.27" y2="286.20" stroke="#000" stroke-width="0.8" />
<line x1="328.04" y1="283.20" x2="328.04" y2="286.80" stroke="#000" stroke-width="1.0" />
<line x1="333.11" y1="283.20" x2="333.11" y2="286.20" stroke="#000" stroke-width="1.0" />
<line x1="336.07" y1="283.20" x2="336.07" y2="286.20" stroke="#000" stroke-width="1.0" />
<line x1="338.18" y1="283.20" x2="338.18" y2="286.20" stroke="#000" stroke-width="1.0" />
<line x1="339.81" y1="283.20" x2="339.81" y2="286.20" stroke="#000" stroke-width="1.0" />
<line x1="341.14" y1="283.20" x2="341.14" y2="286.20" stroke="#000" stroke-width="0.8" />
<line x1="342.27" y1="283.20" x2="342.27" y2="286.20" stroke="#000" stroke-width="0.8" />
<line x1="343.25" y1="283.20" x2="343.25" y2="286.20" stroke="#000" stroke-width="0.8" />
<line x1="344.11" y1="283.20" x2="344.11" y2="286.20" stroke="#000" stroke-width="0.8" />
<line x1="344.88" y1="283.20" x2="344.88" y2="286.80" stroke="#000" stroke-width="1.0" />
<line x1="349.95" y1="283.20" x2="349.95" y2="286.20" stroke="#000" stroke-width="1.0" />
<line x1="352.91" y1="283.20" x2="352.91" y2="286.20" stroke="#000" stroke-width="1.0" />
<line x1="355.02" y1="283.20" x2="355.02" y2="286.20" stroke="#000" stroke-width="1.0" />
<line x1="356.65" y1="283.20" x2="356.65" y2="286.20" stroke="#000" stroke-width="1.0" />
<line x1="357.98" y1="283.20" x2="357.98" y2="286.20" stroke="#000" stroke-width="0.8" />
<line x1="359.11" y1="283.20" x2="359.11" y2="286.20" stroke="#000" stroke-width="0.8" />
<line x1="360.09" y1="283.20" x2="360.09" y2="286.20" stroke="#000" stroke-width="0.8" />
<line x1="360.95" y1="283.20" x2="360.95" y2="286.20" stroke="#000" stroke-width="0.8" />
<line x1="361.72" y1="283.20" x2="361.72" y2="286.80" stroke="#000" stroke-width="1.0" />
<line x1="366.79" y1="283.20" x2="366.79" y2="286.20" stroke="#000" stroke-width="1.0" />
<line x1="369.75" y1="283.20" x2="369.75" y2="286.20" stroke="#000" stroke-width="1.0" />
<line x1="371.86" y1="283.20" x2="371.86" y2="286.20" stroke="#000" stroke-width="1.0" />
<line x1="373.49" y1="283.20" x2="373.49" y2="286.20" stroke="#000" stroke-width="1.0" />
<line x1="374.82" y1="283.20" x2="374.82" y2="286.20" stroke="#000" stroke-width="0.8" />
<line x1="375.95" y1="283.20" x2="375.95" y2="286.20" stroke="#000" stroke-width="0.8" />
<line x1="376.93" y1="283.20" x2="376.93" y2="286.20" stroke="#000" stroke-width="0.8" />
<line x1="377.79" y1="283.20" x2="377.79" y2="286.20" stroke="#000" stroke-width="0.8" />
<line x1="378.56" y1="283.20" x2="378.56" y2="286.80" stroke="#000" stroke-width="1.0" />
<line x1="383.63" y1="283.20" x2="383.63" y2="286.20" stroke="#000" stroke-width="1.0" />
<line x1="386.59" y1="283.20" x2="386.59" y2="286.20" stroke="#000" stroke-width="1.0" />
<line x1="388.70" y1="283.20" x2="388.70" y2="286.20" stroke="#000" stroke-width="1.0" />
<line x1="390.33" y1="283.20" x2="390.33" y2="286.20" stroke="#000" stroke-width="1.0" />
<line x1="391.66" y1="283.20" x2="391.66" y2="286.20" stroke="#000" stroke-width="0.8" />
<line x1="392.79" y1="283.20" x2="392.79" y2="286.20" stroke="#000" stroke-width="0.8" />
<line x1="393.77" y1="283.20" x2="393.77" y2="286.20" stroke="#000" stroke-width="0.8" />
<line x1="394.63" y1="283.20" x2="394.63" y2="286.20" stroke="#000" stroke-width="0.8" />
<text x="445.6" y="193.81" font-size="7.8" text-anchor="middle" fill="#333" font-weight="normal" >PEBL-3</text>
<path d="M403.90,282.14 L404.46,282.20 L405.01,282.06 L405.57,282.03 L406.12,282.20 L406.68,282.03 L407.24,282.20 L407.79,282.05 L408.35,281.72 L408.90,281.64 L409.46,281.78 L410.02,281.51 L410.57,281.31 L411.13,281.23 L411.68,281.13 L412.24,280.88 L412.80,280.46 L413.35,280.66 L413.91,280.13 L414.46,279.99 L415.02,280.04 L415.58,279.60 L416.13,279.08 L416.69,278.58 L417.24,278.36 L417.80,276.86 L418.36,276.30 L418.91,275.41 L419.47,275.72 L420.02,274.82 L420.58,274.41 L421.14,272.66 L421.69,272.76 L422.25,272.26 L422.80,271.18 L423.36,269.86 L423.92,269.38 L424.47,269.38 L425.03,268.05 L425.58,265.69 L426.14,266.07 L426.70,266.42 L427.25,268.22 L427.81,269.34 L428.36,269.46 L428.92,271.04 L429.48,272.87 L430.03,273.00 L430.59,274.88 L431.14,276.41 L431.70,278.80 L432.26,279.75 L432.81,281.32 L433.37,281.66 L433.92,282.20 L434.48,282.20 L435.04,282.18 L435.59,282.04 L436.15,282.20 L436.70,282.20 L437.26,282.19 L437.82,282.20 L438.37,282.20 L438.93,282.20 L439.48,282.20 L440.04,282.20 L440.60,282.20 L441.15,282.20 L441.71,282.10 L442.26,282.20 L442.82,282.20 L443.38,282.20 L443.93,282.20 L444.49,282.20 L445.04,282.20 L445.60,282.20 L446.16,282.11 L446.71,282.18 L447.27,282.20 L447.82,282.20 L448.38,282.04 L448.94,282.20 L449.49,282.08 L450.05,282.20 L450.60,282.20 L451.16,282.08 L451.72,282.20 L452.27,282.20 L452.83,282.13 L453.38,282.02 L453.94,282.20 L454.50,282.08 L455.05,282.12 L455.61,282.15 L456.16,282.20 L456.72,282.20 L457.28,282.20 L457.83,282.20 L458.39,282.20 L458.94,282.11 L459.50,282.20 L460.06,282.20 L460.61,282.20 L461.17,282.07 L461.72,282.06 L462.28,282.14 L462.84,282.20 L463.39,282.20 L463.95,282.20 L464.50,282.20 L465.06,282.20 L465.62,282.20 L466.17,282.20 L466.73,282.03 L467.28,282.03 L467.84,282.18 L468.40,282.20 L468.95,282.03 L469.51,282.20 L470.06,282.20 L470.62,282.20 L471.18,282.20 L471.73,282.20 L472.29,282.20 L472.84,282.20 L473.40,282.20 L473.96,282.20 L474.51,282.20 L475.07,282.20 L475.62,282.20 L476.18,282.20 L476.74,282.20 L477.29,282.20 L477.85,282.20 L478.40,282.17 L478.96,282.19 L479.52,282.11 L480.07,282.14 L480.63,282.12 L481.18,282.06 L481.74,282.20 L482.30,282.20 L482.85,282.02 L483.41,282.20 L483.96,282.12 L484.52,282.15 L485.08,282.20 L485.63,282.08 L486.19,282.06 L486.74,282.15 L487.30,282.11" fill="none" stroke="#4e2060" stroke-width="1.25" stroke-linejoin="round"/>
<path d="M403.90,282.20 L404.42,282.20 L404.94,282.20 L405.46,282.20 L405.99,282.20 L406.51,282.20 L407.03,282.20 L407.55,282.20 L408.07,282.20 L408.59,282.20 L409.11,282.20 L409.63,282.20 L410.16,282.20 L410.68,282.20 L411.20,282.20 L411.72,282.20 L412.24,282.20 L412.76,282.20 L413.28,282.20 L413.80,282.20 L414.33,282.20 L414.85,282.20 L415.37,282.20 L415.89,282.20 L416.41,282.20 L416.93,282.20 L417.45,282.20 L417.97,282.20 L418.50,282.20 L419.02,282.20 L419.54,282.20 L420.06,282.20 L420.58,282.20 L421.10,282.20 L421.62,282.20 L422.14,282.20 L422.67,282.20 L423.19,282.20 L423.71,282.20 L424.23,282.20 L424.75,282.20 L425.27,282.20 L425.79,282.19 L426.31,282.19 L426.84,282.18 L427.36,282.17 L427.88,282.16 L428.40,282.15 L428.92,282.12 L429.44,282.09 L429.96,282.05 L430.48,281.99 L431.00,281.92 L431.53,281.82 L432.05,281.70 L432.57,281.55 L433.09,281.37 L433.61,281.15 L434.13,280.89 L434.65,280.58 L435.18,280.23 L435.70,279.83 L436.22,279.39 L436.74,278.91 L437.26,278.39 L437.78,277.83 L438.30,277.25 L438.82,276.65 L439.35,276.03 L439.87,275.38 L440.39,274.71 L440.91,273.99 L441.43,273.21 L441.95,272.34 L442.47,271.32 L442.99,270.12 L443.51,268.67 L444.04,266.92 L444.56,264.81 L445.08,262.29 L445.60,259.33 L446.12,255.92 L446.64,252.11 L447.16,247.94 L447.69,243.54 L448.21,239.04 L448.73,234.66 L449.25,230.73 L449.77,227.96 L450.29,226.53 L450.81,224.75 L451.33,222.29 L451.85,221.22 L452.38,222.32 L452.90,225.02 L453.42,228.90 L453.94,233.67 L454.46,239.04 L454.98,244.71 L455.50,250.39 L456.02,255.83 L456.55,260.85 L457.07,265.32 L457.59,269.16 L458.11,272.36 L458.63,274.95 L459.15,276.98 L459.67,278.53 L460.19,279.68 L460.72,280.51 L461.24,281.09 L461.76,281.49 L462.28,281.76 L462.80,281.93 L463.32,282.04 L463.84,282.11 L464.36,282.15 L464.89,282.17 L465.41,282.18 L465.93,282.19 L466.45,282.20 L466.97,282.20 L467.49,282.20 L468.01,282.20 L468.53,282.20 L469.06,282.20 L469.58,282.20 L470.10,282.20 L470.62,282.20 L471.14,282.20 L471.66,282.20 L472.18,282.20 L472.70,282.20 L473.23,282.20 L473.75,282.20 L474.27,282.20 L474.79,282.20 L475.31,282.20 L475.83,282.20 L476.35,282.20 L476.88,282.20 L477.40,282.20 L477.92,282.20 L478.44,282.20 L478.96,282.20 L479.48,282.20 L480.00,282.20 L480.52,282.20 L481.04,282.20 L481.57,282.20 L482.09,282.20 L482.61,282.20 L483.13,282.20 L483.65,282.20 L484.17,282.20 L484.69,282.20 L485.21,282.20 L485.74,282.20 L486.26,282.20 L486.78,282.20 L487.30,282.20" fill="none" stroke="#2d3f80" stroke-width="1.45" stroke-linejoin="round"/>
<rect x="403.3" y="199.1" width="84.59999999999997" height="84.1" fill="none" stroke="#000" stroke-width="1.3"/>
<line x1="400.10" y1="220.10" x2="403.30" y2="220.10" stroke="#000" stroke-width="1.1" />
<line x1="400.10" y1="241.10" x2="403.30" y2="241.10" stroke="#000" stroke-width="1.1" />
<line x1="400.10" y1="262.10" x2="403.30" y2="262.10" stroke="#000" stroke-width="1.1" />
<line x1="403.30" y1="283.20" x2="403.30" y2="286.80" stroke="#000" stroke-width="1.0" />
<line x1="408.39" y1="283.20" x2="408.39" y2="286.20" stroke="#000" stroke-width="1.0" />
<line x1="411.37" y1="283.20" x2="411.37" y2="286.20" stroke="#000" stroke-width="1.0" />
<line x1="413.49" y1="283.20" x2="413.49" y2="286.20" stroke="#000" stroke-width="1.0" />
<line x1="415.13" y1="283.20" x2="415.13" y2="286.20" stroke="#000" stroke-width="1.0" />
<line x1="416.47" y1="283.20" x2="416.47" y2="286.20" stroke="#000" stroke-width="0.8" />
<line x1="417.60" y1="283.20" x2="417.60" y2="286.20" stroke="#000" stroke-width="0.8" />
<line x1="418.58" y1="283.20" x2="418.58" y2="286.20" stroke="#000" stroke-width="0.8" />
<line x1="419.45" y1="283.20" x2="419.45" y2="286.20" stroke="#000" stroke-width="0.8" />
<line x1="420.22" y1="283.20" x2="420.22" y2="286.80" stroke="#000" stroke-width="1.0" />
<line x1="425.31" y1="283.20" x2="425.31" y2="286.20" stroke="#000" stroke-width="1.0" />
<line x1="428.29" y1="283.20" x2="428.29" y2="286.20" stroke="#000" stroke-width="1.0" />
<line x1="430.41" y1="283.20" x2="430.41" y2="286.20" stroke="#000" stroke-width="1.0" />
<line x1="432.05" y1="283.20" x2="432.05" y2="286.20" stroke="#000" stroke-width="1.0" />
<line x1="433.39" y1="283.20" x2="433.39" y2="286.20" stroke="#000" stroke-width="0.8" />
<line x1="434.52" y1="283.20" x2="434.52" y2="286.20" stroke="#000" stroke-width="0.8" />
<line x1="435.50" y1="283.20" x2="435.50" y2="286.20" stroke="#000" stroke-width="0.8" />
<line x1="436.37" y1="283.20" x2="436.37" y2="286.20" stroke="#000" stroke-width="0.8" />
<line x1="437.14" y1="283.20" x2="437.14" y2="286.80" stroke="#000" stroke-width="1.0" />
<line x1="442.23" y1="283.20" x2="442.23" y2="286.20" stroke="#000" stroke-width="1.0" />
<line x1="445.21" y1="283.20" x2="445.21" y2="286.20" stroke="#000" stroke-width="1.0" />
<line x1="447.33" y1="283.20" x2="447.33" y2="286.20" stroke="#000" stroke-width="1.0" />
<line x1="448.97" y1="283.20" x2="448.97" y2="286.20" stroke="#000" stroke-width="1.0" />
<line x1="450.31" y1="283.20" x2="450.31" y2="286.20" stroke="#000" stroke-width="0.8" />
<line x1="451.44" y1="283.20" x2="451.44" y2="286.20" stroke="#000" stroke-width="0.8" />
<line x1="452.42" y1="283.20" x2="452.42" y2="286.20" stroke="#000" stroke-width="0.8" />
<line x1="453.29" y1="283.20" x2="453.29" y2="286.20" stroke="#000" stroke-width="0.8" />
<line x1="454.06" y1="283.20" x2="454.06" y2="286.80" stroke="#000" stroke-width="1.0" />
<line x1="459.15" y1="283.20" x2="459.15" y2="286.20" stroke="#000" stroke-width="1.0" />
<line x1="462.13" y1="283.20" x2="462.13" y2="286.20" stroke="#000" stroke-width="1.0" />
<line x1="464.25" y1="283.20" x2="464.25" y2="286.20" stroke="#000" stroke-width="1.0" />
<line x1="465.89" y1="283.20" x2="465.89" y2="286.20" stroke="#000" stroke-width="1.0" />
<line x1="467.23" y1="283.20" x2="467.23" y2="286.20" stroke="#000" stroke-width="0.8" />
<line x1="468.36" y1="283.20" x2="468.36" y2="286.20" stroke="#000" stroke-width="0.8" />
<line x1="469.34" y1="283.20" x2="469.34" y2="286.20" stroke="#000" stroke-width="0.8" />
<line x1="470.21" y1="283.20" x2="470.21" y2="286.20" stroke="#000" stroke-width="0.8" />
<line x1="470.98" y1="283.20" x2="470.98" y2="286.80" stroke="#000" stroke-width="1.0" />
<line x1="476.07" y1="283.20" x2="476.07" y2="286.20" stroke="#000" stroke-width="1.0" />
<line x1="479.05" y1="283.20" x2="479.05" y2="286.20" stroke="#000" stroke-width="1.0" />
<line x1="481.17" y1="283.20" x2="481.17" y2="286.20" stroke="#000" stroke-width="1.0" />
<line x1="482.81" y1="283.20" x2="482.81" y2="286.20" stroke="#000" stroke-width="1.0" />
<line x1="484.15" y1="283.20" x2="484.15" y2="286.20" stroke="#000" stroke-width="0.8" />
<line x1="485.28" y1="283.20" x2="485.28" y2="286.20" stroke="#000" stroke-width="0.8" />
<line x1="486.26" y1="283.20" x2="486.26" y2="286.20" stroke="#000" stroke-width="0.8" />
<line x1="487.13" y1="283.20" x2="487.13" y2="286.20" stroke="#000" stroke-width="0.8" />
<text x="234.2" y="236.61" font-size="7.8" text-anchor="middle" fill="#333" font-weight="normal" >PEBL</text>
<line x1="234.80" y1="238.80" x2="237.80" y2="249.30" stroke="#000" stroke-width="1.0" />
<path d="M237.80,249.30 L235.44,246.85 L238.51,245.98 Z" fill="#000"/>
<text x="282.8" y="225.71" font-size="7.8" text-anchor="middle" fill="#333" font-weight="normal" >Mock</text>
<line x1="275.80" y1="227.60" x2="271.00" y2="232.20" stroke="#000" stroke-width="1.0" />
<path d="M271.00,232.20 L272.06,228.97 L274.27,231.28 Z" fill="#000"/>
<text x="327.1" y="244.11" font-size="7.8" text-anchor="middle" fill="#333" font-weight="normal" >PEBL</text>
<line x1="327.80" y1="246.40" x2="330.60" y2="255.40" stroke="#000" stroke-width="1.0" />
<path d="M330.60,255.40 L328.18,253.01 L331.24,252.06 Z" fill="#000"/>
<text x="376.6" y="227.61" font-size="7.8" text-anchor="middle" fill="#333" font-weight="normal" >Mock</text>
<line x1="369.60" y1="229.50" x2="364.80" y2="233.60" stroke="#000" stroke-width="1.0" />
<path d="M364.80,233.60 L366.04,230.43 L368.12,232.87 Z" fill="#000"/>
<text x="418.4" y="254.41" font-size="7.8" text-anchor="middle" fill="#333" font-weight="normal" >PEBL</text>
<line x1="418.80" y1="256.60" x2="421.20" y2="266.30" stroke="#000" stroke-width="1.0" />
<path d="M421.20,266.30 L418.93,263.77 L422.03,263.00 Z" fill="#000"/>
<text x="469.6" y="227.41" font-size="7.8" text-anchor="middle" fill="#333" font-weight="normal" >Mock</text>
<line x1="461.50" y1="225.50" x2="457.80" y2="231.80" stroke="#000" stroke-width="1.0" />
<path d="M457.80,231.80 L457.94,228.40 L460.70,230.02 Z" fill="#000"/>
<line x1="234.80" y1="295.10" x2="329.20" y2="295.10" stroke="#444" stroke-width="1.2" />
<text x="348.6" y="297.9" font-size="9.2" text-anchor="middle" fill="#333" stroke="#333" stroke-width="0.25" textLength="12.4" lengthAdjust="spacingAndGlyphs">CD7</text>
<line x1="368.20" y1="295.10" x2="460.00" y2="295.10" stroke="#444" stroke-width="1.2" />
<path d="M463.4,295.1 L458.8,293.1 L458.8,297.1 Z" fill="#444"/>
<text x="7.6" y="331.2" font-size="12.2" font-weight="bold" fill="#000">G</text>
<rect x="55.4" y="344.9" width="59.1" height="94.10000000000002" fill="none" stroke="#000" stroke-width="1.3"/>
<line x1="52.10" y1="439.00" x2="55.40" y2="439.00" stroke="#000" stroke-width="1.3" />
<text x="48.6" y="441.92" font-size="8.1" text-anchor="end" fill="#333" font-weight="normal" >0</text>
<line x1="52.10" y1="420.18" x2="55.40" y2="420.18" stroke="#000" stroke-width="1.3" />
<text x="48.6" y="423.1" font-size="8.1" text-anchor="end" fill="#333" font-weight="normal" >20</text>
<line x1="52.10" y1="401.36" x2="55.40" y2="401.36" stroke="#000" stroke-width="1.3" />
<text x="48.6" y="404.28" font-size="8.1" text-anchor="end" fill="#333" font-weight="normal" >40</text>
<line x1="52.10" y1="382.54" x2="55.40" y2="382.54" stroke="#000" stroke-width="1.3" />
<text x="48.6" y="385.46" font-size="8.1" text-anchor="end" fill="#333" font-weight="normal" >60</text>
<line x1="52.10" y1="363.72" x2="55.40" y2="363.72" stroke="#000" stroke-width="1.3" />
<text x="48.6" y="366.64" font-size="8.1" text-anchor="end" fill="#333" font-weight="normal" >80</text>
<line x1="52.10" y1="344.90" x2="55.40" y2="344.90" stroke="#000" stroke-width="1.3" />
<text x="48.6" y="347.82" font-size="8.1" text-anchor="end" fill="#333" font-weight="normal" >100</text>
<line x1="85.30" y1="344.90" x2="85.30" y2="439.00" stroke="#000" stroke-width="1.2" stroke-dasharray="1.3,1.3"/>
<text x="70.6" y="451.65" font-size="8.2" text-anchor="middle" fill="#333" font-weight="normal" >Mock</text>
<text x="101.0" y="452.35" font-size="8.2" text-anchor="middle" fill="#333" font-weight="normal" >PEBL</text>
<text transform="translate(27.4,390.2) rotate(-90)" x="0" y="0" font-size="9.4" text-anchor="middle" fill="#333" stroke="#333" stroke-width="0.2" textLength="43.5" lengthAdjust="spacingAndGlyphs">% CD7+ cells</text>
<path d="M64.4,344.6 L74.2,344.6 L74.2,349 L72.2,349 L72.2,351.4 L67.2,351.4 L67.2,349 L64.4,348.5 Z" fill="#26417e"/>
<circle cx="63.40" cy="345.70" r="2.5" fill="#fff" stroke="#26417e" stroke-width="1.1"/>
<circle cx="76.40" cy="345.50" r="2.5" fill="#fff" stroke="#26417e" stroke-width="1.1"/>
<rect x="91.6" y="433.3" width="4.5" height="4.5" fill="#fff" stroke="#5e2a6e" stroke-width="1.1"/>
<circle cx="99.50" cy="437.60" r="2.2" fill="#fff" stroke="#5e2a6e" stroke-width="1.1"/>
<circle cx="103.00" cy="437.90" r="2.2" fill="#fff" stroke="#5e2a6e" stroke-width="1.1"/>
<rect x="104.6" y="433.6" width="4.6" height="4.6" fill="#5e2a6e"/>
<circle cx="101.30" cy="436.30" r="1.8" fill="#5e2a6e" stroke="#5e2a6e" stroke-width="1"/>
<text x="131.6" y="330.2" font-size="12.2" font-weight="bold" fill="#000">H</text>
<text x="240.7" y="342.31" font-size="7.8" text-anchor="middle" fill="#333" font-weight="normal" >anti-CD7 PEBL</text>
<line x1="162.30" y1="347.00" x2="320.80" y2="347.00" stroke="#000" stroke-width="1.3" />
<text x="194.4" y="358.31" font-size="7.8" text-anchor="middle" fill="#333" font-weight="normal" >no mRNA</text>
<text x="283.1" y="357.81" font-size="7.8" text-anchor="middle" fill="#333" font-weight="normal" >CAR</text>
<line x1="159.10" y1="439.00" x2="159.10" y2="442.00" stroke="#000" stroke-width="1.0" />
<line x1="156.10" y1="439.00" x2="159.10" y2="439.00" stroke="#000" stroke-width="1.0" />
<line x1="163.74" y1="439.00" x2="163.74" y2="441.60" stroke="#000" stroke-width="1.0" />
<line x1="156.50" y1="434.39" x2="159.10" y2="434.39" stroke="#000" stroke-width="1.0" />
<line x1="166.46" y1="439.00" x2="166.46" y2="441.60" stroke="#000" stroke-width="1.0" />
<line x1="156.50" y1="431.69" x2="159.10" y2="431.69" stroke="#000" stroke-width="1.0" />
<line x1="168.38" y1="439.00" x2="168.38" y2="441.60" stroke="#000" stroke-width="1.0" />
<line x1="156.50" y1="429.78" x2="159.10" y2="429.78" stroke="#000" stroke-width="1.0" />
<line x1="169.88" y1="439.00" x2="169.88" y2="441.60" stroke="#000" stroke-width="1.0" />
<line x1="156.50" y1="428.29" x2="159.10" y2="428.29" stroke="#000" stroke-width="1.0" />
<line x1="171.10" y1="439.00" x2="171.10" y2="441.60" stroke="#000" stroke-width="1.0" />
<line x1="156.50" y1="427.08" x2="159.10" y2="427.08" stroke="#000" stroke-width="1.0" />
<line x1="172.13" y1="439.00" x2="172.13" y2="441.60" stroke="#000" stroke-width="1.0" />
<line x1="156.50" y1="426.05" x2="159.10" y2="426.05" stroke="#000" stroke-width="1.0" />
<line x1="173.03" y1="439.00" x2="173.03" y2="441.60" stroke="#000" stroke-width="1.0" />
<line x1="156.50" y1="425.16" x2="159.10" y2="425.16" stroke="#000" stroke-width="1.0" />
<line x1="173.81" y1="439.00" x2="173.81" y2="441.60" stroke="#000" stroke-width="1.0" />
<line x1="156.50" y1="424.38" x2="159.10" y2="424.38" stroke="#000" stroke-width="1.0" />
<line x1="174.52" y1="439.00" x2="174.52" y2="442.00" stroke="#000" stroke-width="1.0" />
<line x1="156.10" y1="423.68" x2="159.10" y2="423.68" stroke="#000" stroke-width="1.0" />
<line x1="179.16" y1="439.00" x2="179.16" y2="441.60" stroke="#000" stroke-width="1.0" />
<line x1="156.50" y1="419.07" x2="159.10" y2="419.07" stroke="#000" stroke-width="1.0" />
<line x1="181.88" y1="439.00" x2="181.88" y2="441.60" stroke="#000" stroke-width="1.0" />
<line x1="156.50" y1="416.37" x2="159.10" y2="416.37" stroke="#000" stroke-width="1.0" />
<line x1="183.80" y1="439.00" x2="183.80" y2="441.60" stroke="#000" stroke-width="1.0" />
<line x1="156.50" y1="414.46" x2="159.10" y2="414.46" stroke="#000" stroke-width="1.0" />
<line x1="185.30" y1="439.00" x2="185.30" y2="441.60" stroke="#000" stroke-width="1.0" />
<line x1="156.50" y1="412.97" x2="159.10" y2="412.97" stroke="#000" stroke-width="1.0" />
<line x1="186.52" y1="439.00" x2="186.52" y2="441.60" stroke="#000" stroke-width="1.0" />
<line x1="156.50" y1="411.76" x2="159.10" y2="411.76" stroke="#000" stroke-width="1.0" />
<line x1="187.55" y1="439.00" x2="187.55" y2="441.60" stroke="#000" stroke-width="1.0" />
<line x1="156.50" y1="410.73" x2="159.10" y2="410.73" stroke="#000" stroke-width="1.0" />
<line x1="188.45" y1="439.00" x2="188.45" y2="441.60" stroke="#000" stroke-width="1.0" />
<line x1="156.50" y1="409.84" x2="159.10" y2="409.84" stroke="#000" stroke-width="1.0" />
<line x1="189.23" y1="439.00" x2="189.23" y2="441.60" stroke="#000" stroke-width="1.0" />
<line x1="156.50" y1="409.06" x2="159.10" y2="409.06" stroke="#000" stroke-width="1.0" />
<line x1="189.94" y1="439.00" x2="189.94" y2="442.00" stroke="#000" stroke-width="1.0" />
<line x1="156.10" y1="408.36" x2="159.10" y2="408.36" stroke="#000" stroke-width="1.0" />
<line x1="194.58" y1="439.00" x2="194.58" y2="441.60" stroke="#000" stroke-width="1.0" />
<line x1="156.50" y1="403.75" x2="159.10" y2="403.75" stroke="#000" stroke-width="1.0" />
<line x1="197.30" y1="439.00" x2="197.30" y2="441.60" stroke="#000" stroke-width="1.0" />
<line x1="156.50" y1="401.05" x2="159.10" y2="401.05" stroke="#000" stroke-width="1.0" />
<line x1="199.22" y1="439.00" x2="199.22" y2="441.60" stroke="#000" stroke-width="1.0" />
<line x1="156.50" y1="399.14" x2="159.10" y2="399.14" stroke="#000" stroke-width="1.0" />
<line x1="200.72" y1="439.00" x2="200.72" y2="441.60" stroke="#000" stroke-width="1.0" />
<line x1="156.50" y1="397.65" x2="159.10" y2="397.65" stroke="#000" stroke-width="1.0" />
<line x1="201.94" y1="439.00" x2="201.94" y2="441.60" stroke="#000" stroke-width="1.0" />
<line x1="156.50" y1="396.44" x2="159.10" y2="396.44" stroke="#000" stroke-width="1.0" />
<line x1="202.97" y1="439.00" x2="202.97" y2="441.60" stroke="#000" stroke-width="1.0" />
<line x1="156.50" y1="395.41" x2="159.10" y2="395.41" stroke="#000" stroke-width="1.0" />
<line x1="203.87" y1="439.00" x2="203.87" y2="441.60" stroke="#000" stroke-width="1.0" />
<line x1="156.50" y1="394.52" x2="159.10" y2="394.52" stroke="#000" stroke-width="1.0" />
<line x1="204.65" y1="439.00" x2="204.65" y2="441.60" stroke="#000" stroke-width="1.0" />
<line x1="156.50" y1="393.74" x2="159.10" y2="393.74" stroke="#000" stroke-width="1.0" />
<line x1="205.36" y1="439.00" x2="205.36" y2="442.00" stroke="#000" stroke-width="1.0" />
<line x1="156.10" y1="393.04" x2="159.10" y2="393.04" stroke="#000" stroke-width="1.0" />
<line x1="210.00" y1="439.00" x2="210.00" y2="441.60" stroke="#000" stroke-width="1.0" />
<line x1="156.50" y1="388.43" x2="159.10" y2="388.43" stroke="#000" stroke-width="1.0" />
<line x1="212.72" y1="439.00" x2="212.72" y2="441.60" stroke="#000" stroke-width="1.0" />
<line x1="156.50" y1="385.73" x2="159.10" y2="385.73" stroke="#000" stroke-width="1.0" />
<line x1="214.64" y1="439.00" x2="214.64" y2="441.60" stroke="#000" stroke-width="1.0" />
<line x1="156.50" y1="383.82" x2="159.10" y2="383.82" stroke="#000" stroke-width="1.0" />
<line x1="216.14" y1="439.00" x2="216.14" y2="441.60" stroke="#000" stroke-width="1.0" />
<line x1="156.50" y1="382.33" x2="159.10" y2="382.33" stroke="#000" stroke-width="1.0" />
<line x1="217.36" y1="439.00" x2="217.36" y2="441.60" stroke="#000" stroke-width="1.0" />
<line x1="156.50" y1="381.12" x2="159.10" y2="381.12" stroke="#000" stroke-width="1.0" />
<line x1="218.39" y1="439.00" x2="218.39" y2="441.60" stroke="#000" stroke-width="1.0" />
<line x1="156.50" y1="380.09" x2="159.10" y2="380.09" stroke="#000" stroke-width="1.0" />
<line x1="219.29" y1="439.00" x2="219.29" y2="441.60" stroke="#000" stroke-width="1.0" />
<line x1="156.50" y1="379.20" x2="159.10" y2="379.20" stroke="#000" stroke-width="1.0" />
<line x1="220.07" y1="439.00" x2="220.07" y2="441.60" stroke="#000" stroke-width="1.0" />
<line x1="156.50" y1="378.42" x2="159.10" y2="378.42" stroke="#000" stroke-width="1.0" />
<line x1="220.78" y1="439.00" x2="220.78" y2="442.00" stroke="#000" stroke-width="1.0" />
<line x1="156.10" y1="377.72" x2="159.10" y2="377.72" stroke="#000" stroke-width="1.0" />
<line x1="225.42" y1="439.00" x2="225.42" y2="441.60" stroke="#000" stroke-width="1.0" />
<line x1="156.50" y1="373.11" x2="159.10" y2="373.11" stroke="#000" stroke-width="1.0" />
<line x1="228.14" y1="439.00" x2="228.14" y2="441.60" stroke="#000" stroke-width="1.0" />
<line x1="156.50" y1="370.41" x2="159.10" y2="370.41" stroke="#000" stroke-width="1.0" />
<line x1="230.06" y1="439.00" x2="230.06" y2="441.60" stroke="#000" stroke-width="1.0" />
<line x1="156.50" y1="368.50" x2="159.10" y2="368.50" stroke="#000" stroke-width="1.0" />
<line x1="231.56" y1="439.00" x2="231.56" y2="441.60" stroke="#000" stroke-width="1.0" />
<line x1="156.50" y1="367.01" x2="159.10" y2="367.01" stroke="#000" stroke-width="1.0" />
<line x1="232.78" y1="439.00" x2="232.78" y2="441.60" stroke="#000" stroke-width="1.0" />
<line x1="156.50" y1="365.80" x2="159.10" y2="365.80" stroke="#000" stroke-width="1.0" />
<line x1="233.81" y1="439.00" x2="233.81" y2="441.60" stroke="#000" stroke-width="1.0" />
<line x1="156.50" y1="364.77" x2="159.10" y2="364.77" stroke="#000" stroke-width="1.0" />
<line x1="234.71" y1="439.00" x2="234.71" y2="441.60" stroke="#000" stroke-width="1.0" />
<line x1="156.50" y1="363.88" x2="159.10" y2="363.88" stroke="#000" stroke-width="1.0" />
<line x1="235.49" y1="439.00" x2="235.49" y2="441.60" stroke="#000" stroke-width="1.0" />
<line x1="156.50" y1="363.10" x2="159.10" y2="363.10" stroke="#000" stroke-width="1.0" />
<line x1="186.20" y1="362.40" x2="186.20" y2="439.00" stroke="#555" stroke-width="1.0" />
<line x1="159.10" y1="410.30" x2="236.20" y2="410.30" stroke="#555" stroke-width="1.0" />
<path d="M173.4 431.9h.9v.9h-.9zM168.2 420.9h.9v.9h-.9zM170.7 417.2h.9v.9h-.9zM174.6 420.2h.9v.9h-.9zM176.6 413.8h.9v.9h-.9zM179.3 410.6h.9v.9h-.9zM167.1 412.9h.9v.9h-.9zM183.6 430.4h.9v.9h-.9zM177.4 407.5h.9v.9h-.9zM178.0 411.6h.9v.9h-.9zM176.2 423.6h.9v.9h-.9zM167.9 425.3h.9v.9h-.9zM177.9 424.8h.9v.9h-.9zM179.6 413.7h.9v.9h-.9zM177.6 424.3h.9v.9h-.9zM171.0 417.4h.9v.9h-.9zM166.4 421.6h.9v.9h-.9zM167.3 423.7h.9v.9h-.9zM175.7 418.7h.9v.9h-.9zM179.2 417.6h.9v.9h-.9zM186.6 423.5h.9v.9h-.9zM167.1 415.5h.9v.9h-.9zM177.5 434.5h.9v.9h-.9zM171.0 413.4h.9v.9h-.9zM172.4 420.4h.9v.9h-.9zM168.3 409.8h.9v.9h-.9zM180.1 428.8h.9v.9h-.9zM174.7 416.1h.9v.9h-.9zM182.5 405.4h.9v.9h-.9zM180.0 422.0h.9v.9h-.9zM179.6 423.3h.9v.9h-.9zM182.0 425.1h.9v.9h-.9zM175.0 427.2h.9v.9h-.9zM168.4 422.0h.9v.9h-.9zM177.7 406.8h.9v.9h-.9zM178.8 424.0h.9v.9h-.9zM181.2 420.4h.9v.9h-.9zM183.4 428.3h.9v.9h-.9zM175.5 422.2h.9v.9h-.9zM175.3 411.3h.9v.9h-.9zM181.3 416.4h.9v.9h-.9zM174.0 423.1h.9v.9h-.9zM182.9 416.7h.9v.9h-.9zM168.0 423.3h.9v.9h-.9zM170.7 420.8h.9v.9h-.9zM162.7 429.9h.9v.9h-.9zM166.4 426.8h.9v.9h-.9zM167.8 416.5h.9v.9h-.9zM170.3 417.1h.9v.9h-.9zM161.9 414.0h.9v.9h-.9zM180.9 423.9h.9v.9h-.9zM184.8 421.0h.9v.9h-.9zM165.9 407.9h.9v.9h-.9zM171.4 420.8h.9v.9h-.9zM171.6 432.8h.9v.9h-.9zM174.4 414.3h.9v.9h-.9zM168.6 410.3h.9v.9h-.9zM174.2 418.5h.9v.9h-.9zM169.2 422.7h.9v.9h-.9zM169.8 415.6h.9v.9h-.9zM182.2 429.1h.9v.9h-.9zM176.2 416.1h.9v.9h-.9zM174.7 416.8h.9v.9h-.9zM176.5 419.3h.9v.9h-.9zM173.9 412.0h.9v.9h-.9zM178.0 427.7h.9v.9h-.9zM167.8 419.9h.9v.9h-.9zM181.1 427.2h.9v.9h-.9zM169.4 426.1h.9v.9h-.9zM170.6 431.0h.9v.9h-.9zM178.5 412.6h.9v.9h-.9zM175.2 413.1h.9v.9h-.9zM176.6 421.6h.9v.9h-.9zM161.5 425.5h.9v.9h-.9zM177.2 428.8h.9v.9h-.9zM175.5 413.2h.9v.9h-.9zM179.9 428.4h.9v.9h-.9zM160.3 429.1h.9v.9h-.9zM179.1 416.2h.9v.9h-.9zM168.3 416.7h.9v.9h-.9zM182.4 421.9h.9v.9h-.9zM180.1 416.3h.9v.9h-.9zM165.6 413.1h.9v.9h-.9zM189.7 427.5h.9v.9h-.9zM179.6 424.6h.9v.9h-.9zM174.7 418.4h.9v.9h-.9zM172.4 423.1h.9v.9h-.9zM173.8 420.3h.9v.9h-.9zM177.9 424.9h.9v.9h-.9zM177.7 421.8h.9v.9h-.9zM177.9 429.6h.9v.9h-.9zM183.5 432.0h.9v.9h-.9zM170.4 423.2h.9v.9h-.9zM186.0 424.1h.9v.9h-.9zM188.8 431.8h.9v.9h-.9zM167.1 426.3h.9v.9h-.9zM177.1 417.0h.9v.9h-.9zM184.9 425.1h.9v.9h-.9zM165.5 412.9h.9v.9h-.9zM173.6 429.8h.9v.9h-.9zM177.9 428.4h.9v.9h-.9zM173.2 431.1h.9v.9h-.9zM173.3 426.5h.9v.9h-.9zM173.1 417.2h.9v.9h-.9zM177.6 410.6h.9v.9h-.9zM175.5 424.2h.9v.9h-.9zM166.7 419.4h.9v.9h-.9zM173.7 411.9h.9v.9h-.9zM162.4 429.4h.9v.9h-.9zM180.1 417.7h.9v.9h-.9zM178.8 409.2h.9v.9h-.9zM167.4 407.6h.9v.9h-.9zM172.3 418.8h.9v.9h-.9zM177.8 416.0h.9v.9h-.9zM177.7 428.9h.9v.9h-.9zM174.3 416.3h.9v.9h-.9zM173.2 416.6h.9v.9h-.9zM165.0 421.9h.9v.9h-.9zM174.2 417.7h.9v.9h-.9zM169.3 425.7h.9v.9h-.9zM167.4 429.3h.9v.9h-.9zM174.4 407.7h.9v.9h-.9zM167.6 426.4h.9v.9h-.9zM170.5 419.5h.9v.9h-.9zM192.2 413.1h.9v.9h-.9zM161.9 423.5h.9v.9h-.9zM173.6 434.9h.9v.9h-.9zM169.0 421.1h.9v.9h-.9zM166.5 431.2h.9v.9h-.9zM182.4 406.3h.9v.9h-.9zM172.9 415.5h.9v.9h-.9zM180.1 429.1h.9v.9h-.9zM176.5 427.5h.9v.9h-.9zM178.2 423.0h.9v.9h-.9zM174.0 414.1h.9v.9h-.9zM178.6 413.8h.9v.9h-.9zM178.5 414.1h.9v.9h-.9zM174.2 428.5h.9v.9h-.9zM182.5 420.7h.9v.9h-.9zM174.2 420.9h.9v.9h-.9zM179.4 413.7h.9v.9h-.9zM192.8 420.1h.9v.9h-.9zM175.7 426.4h.9v.9h-.9zM178.2 420.6h.9v.9h-.9zM172.7 409.1h.9v.9h-.9zM169.7 419.8h.9v.9h-.9zM177.7 417.1h.9v.9h-.9zM175.8 418.6h.9v.9h-.9zM172.0 409.9h.9v.9h-.9zM176.6 415.5h.9v.9h-.9zM169.7 418.3h.9v.9h-.9zM171.3 423.3h.9v.9h-.9zM172.6 409.3h.9v.9h-.9zM176.8 408.2h.9v.9h-.9zM162.2 408.8h.9v.9h-.9zM178.5 409.8h.9v.9h-.9zM172.8 422.9h.9v.9h-.9zM184.2 414.9h.9v.9h-.9zM176.3 410.9h.9v.9h-.9zM163.5 423.4h.9v.9h-.9zM173.6 423.7h.9v.9h-.9zM165.7 409.4h.9v.9h-.9zM177.9 417.2h.9v.9h-.9zM180.4 427.5h.9v.9h-.9zM166.4 437.9h.9v.9h-.9zM182.6 419.8h.9v.9h-.9zM177.6 408.4h.9v.9h-.9zM176.3 423.0h.9v.9h-.9zM173.7 420.5h.9v.9h-.9zM167.8 421.1h.9v.9h-.9zM181.9 417.5h.9v.9h-.9zM182.1 408.0h.9v.9h-.9zM170.6 416.8h.9v.9h-.9zM172.3 429.3h.9v.9h-.9zM167.0 427.5h.9v.9h-.9zM168.8 419.7h.9v.9h-.9zM176.9 427.3h.9v.9h-.9zM178.1 420.3h.9v.9h-.9zM181.9 423.0h.9v.9h-.9zM180.6 408.7h.9v.9h-.9zM188.0 416.6h.9v.9h-.9zM167.1 414.2h.9v.9h-.9zM181.9 420.7h.9v.9h-.9zM174.3 431.8h.9v.9h-.9zM183.0 424.2h.9v.9h-.9zM169.2 427.0h.9v.9h-.9zM172.3 422.2h.9v.9h-.9zM172.2 417.6h.9v.9h-.9zM163.5 410.0h.9v.9h-.9zM186.8 418.8h.9v.9h-.9zM188.8 424.9h.9v.9h-.9zM172.1 414.1h.9v.9h-.9zM186.5 412.3h.9v.9h-.9zM179.2 416.1h.9v.9h-.9zM169.0 416.1h.9v.9h-.9zM170.3 414.9h.9v.9h-.9zM160.9 412.3h.9v.9h-.9zM182.6 421.7h.9v.9h-.9zM164.3 415.6h.9v.9h-.9zM184.6 417.7h.9v.9h-.9zM165.2 421.7h.9v.9h-.9zM164.3 417.2h.9v.9h-.9zM176.1 419.5h.9v.9h-.9zM168.9 435.7h.9v.9h-.9zM186.5 425.5h.9v.9h-.9zM184.9 422.4h.9v.9h-.9zM176.6 414.0h.9v.9h-.9zM171.3 424.1h.9v.9h-.9zM172.6 410.0h.9v.9h-.9zM170.1 415.4h.9v.9h-.9zM160.1 409.1h.9v.9h-.9zM175.1 430.2h.9v.9h-.9zM170.1 425.2h.9v.9h-.9zM176.4 415.0h.9v.9h-.9zM163.7 414.7h.9v.9h-.9zM176.2 419.4h.9v.9h-.9zM173.9 429.8h.9v.9h-.9zM178.8 418.0h.9v.9h-.9zM178.8 412.8h.9v.9h-.9zM180.8 423.0h.9v.9h-.9zM177.1 423.8h.9v.9h-.9zM171.9 417.9h.9v.9h-.9zM177.6 410.4h.9v.9h-.9zM183.1 432.3h.9v.9h-.9zM177.1 414.6h.9v.9h-.9zM186.9 414.3h.9v.9h-.9zM175.0 420.4h.9v.9h-.9zM183.8 408.2h.9v.9h-.9zM184.8 428.3h.9v.9h-.9zM176.4 408.1h.9v.9h-.9zM180.3 416.5h.9v.9h-.9zM170.7 408.2h.9v.9h-.9zM180.3 411.1h.9v.9h-.9zM174.1 426.4h.9v.9h-.9zM171.4 418.8h.9v.9h-.9zM184.3 406.2h.9v.9h-.9zM175.5 433.1h.9v.9h-.9zM173.3 416.2h.9v.9h-.9zM177.1 405.7h.9v.9h-.9zM173.9 423.6h.9v.9h-.9zM172.6 434.3h.9v.9h-.9zM162.4 423.2h.9v.9h-.9zM176.8 423.4h.9v.9h-.9zM176.4 422.8h.9v.9h-.9zM175.1 416.3h.9v.9h-.9zM173.6 416.9h.9v.9h-.9zM175.2 432.5h.9v.9h-.9zM180.0 413.8h.9v.9h-.9zM173.3 420.7h.9v.9h-.9zM172.2 425.3h.9v.9h-.9zM177.7 406.9h.9v.9h-.9zM176.8 409.8h.9v.9h-.9zM173.9 415.8h.9v.9h-.9zM170.6 424.7h.9v.9h-.9zM176.4 427.4h.9v.9h-.9zM169.8 412.6h.9v.9h-.9zM182.1 416.5h.9v.9h-.9zM162.3 413.1h.9v.9h-.9zM174.8 426.6h.9v.9h-.9zM181.6 426.1h.9v.9h-.9zM175.5 415.1h.9v.9h-.9zM168.2 421.0h.9v.9h-.9zM172.4 423.1h.9v.9h-.9zM167.5 409.4h.9v.9h-.9zM184.1 414.2h.9v.9h-.9zM172.0 429.6h.9v.9h-.9zM173.2 429.0h.9v.9h-.9zM159.9 423.7h.9v.9h-.9zM188.3 409.2h.9v.9h-.9zM166.0 406.7h.9v.9h-.9zM188.4 422.6h.9v.9h-.9zM177.9 412.5h.9v.9h-.9zM177.3 414.8h.9v.9h-.9zM175.1 410.4h.9v.9h-.9zM171.1 423.0h.9v.9h-.9zM178.5 406.9h.9v.9h-.9zM191.4 432.5h.9v.9h-.9zM176.2 428.1h.9v.9h-.9zM167.1 425.7h.9v.9h-.9zM188.0 407.0h.9v.9h-.9zM170.5 414.0h.9v.9h-.9zM177.1 422.0h.9v.9h-.9zM165.8 418.7h.9v.9h-.9zM169.4 424.1h.9v.9h-.9zM171.3 422.6h.9v.9h-.9zM183.7 415.8h.9v.9h-.9zM167.9 417.6h.9v.9h-.9zM175.0 427.4h.9v.9h-.9zM167.4 420.4h.9v.9h-.9zM183.9 418.6h.9v.9h-.9zM175.6 422.7h.9v.9h-.9zM178.5 426.6h.9v.9h-.9zM166.9 423.8h.9v.9h-.9zM173.0 419.5h.9v.9h-.9zM184.5 425.1h.9v.9h-.9zM172.4 412.3h.9v.9h-.9zM186.3 412.3h.9v.9h-.9zM174.2 423.0h.9v.9h-.9zM165.4 415.9h.9v.9h-.9zM175.3 422.5h.9v.9h-.9zM173.2 420.2h.9v.9h-.9zM174.2 408.1h.9v.9h-.9zM173.6 429.1h.9v.9h-.9zM175.5 425.4h.9v.9h-.9zM164.4 423.9h.9v.9h-.9zM167.7 432.6h.9v.9h-.9zM166.6 413.0h.9v.9h-.9zM168.0 426.8h.9v.9h-.9zM170.9 410.7h.9v.9h-.9zM172.9 417.0h.9v.9h-.9zM172.4 425.3h.9v.9h-.9zM175.6 418.9h.9v.9h-.9zM161.7 425.8h.9v.9h-.9zM177.3 406.7h.9v.9h-.9zM173.4 425.9h.9v.9h-.9zM173.3 413.1h.9v.9h-.9zM173.9 412.2h.9v.9h-.9zM175.6 408.9h.9v.9h-.9zM189.3 421.1h.9v.9h-.9zM183.6 422.0h.9v.9h-.9zM165.8 429.4h.9v.9h-.9zM173.1 425.3h.9v.9h-.9zM176.9 409.5h.9v.9h-.9zM175.3 410.2h.9v.9h-.9zM186.7 423.3h.9v.9h-.9zM176.6 429.4h.9v.9h-.9zM180.4 420.0h.9v.9h-.9zM169.0 407.5h.9v.9h-.9zM170.0 413.0h.9v.9h-.9zM173.9 407.4h.9v.9h-.9zM165.8 412.1h.9v.9h-.9zM176.9 426.9h.9v.9h-.9zM173.3 423.2h.9v.9h-.9zM171.2 417.5h.9v.9h-.9zM174.6 415.8h.9v.9h-.9zM175.0 415.2h.9v.9h-.9zM179.4 423.7h.9v.9h-.9zM169.5 419.4h.9v.9h-.9zM187.3 406.6h.9v.9h-.9zM172.0 409.7h.9v.9h-.9zM176.1 419.6h.9v.9h-.9zM172.0 426.6h.9v.9h-.9zM177.4 428.5h.9v.9h-.9zM176.2 418.9h.9v.9h-.9zM178.1 413.7h.9v.9h-.9zM190.0 421.6h.9v.9h-.9zM174.3 425.8h.9v.9h-.9zM180.0 425.4h.9v.9h-.9zM178.2 423.7h.9v.9h-.9zM175.0 431.2h.9v.9h-.9zM169.4 422.4h.9v.9h-.9zM163.1 417.6h.9v.9h-.9zM174.0 412.3h.9v.9h-.9zM185.8 412.6h.9v.9h-.9zM167.6 416.3h.9v.9h-.9zM173.2 424.0h.9v.9h-.9zM182.2 412.3h.9v.9h-.9zM188.0 431.3h.9v.9h-.9zM176.4 418.6h.9v.9h-.9zM173.4 414.0h.9v.9h-.9zM162.1 416.4h.9v.9h-.9zM170.1 428.1h.9v.9h-.9zM172.7 415.2h.9v.9h-.9zM169.8 413.6h.9v.9h-.9zM179.5 419.4h.9v.9h-.9zM174.5 417.6h.9v.9h-.9zM174.5 424.2h.9v.9h-.9zM180.1 428.4h.9v.9h-.9zM180.7 433.5h.9v.9h-.9zM183.0 426.8h.9v.9h-.9zM177.3 416.6h.9v.9h-.9zM177.4 434.2h.9v.9h-.9zM171.3 427.3h.9v.9h-.9zM181.2 417.9h.9v.9h-.9zM189.4 416.2h.9v.9h-.9zM178.3 418.5h.9v.9h-.9zM182.0 408.1h.9v.9h-.9zM175.0 408.5h.9v.9h-.9zM189.3 432.6h.9v.9h-.9zM184.8 428.9h.9v.9h-.9zM174.0 412.7h.9v.9h-.9zM172.1 412.0h.9v.9h-.9zM175.0 417.5h.9v.9h-.9zM181.3 416.6h.9v.9h-.9zM177.6 410.9h.9v.9h-.9zM177.3 413.3h.9v.9h-.9zM173.5 419.5h.9v.9h-.9zM172.2 420.2h.9v.9h-.9zM181.7 410.1h.9v.9h-.9zM191.6 413.0h.9v.9h-.9zM184.5 426.6h.9v.9h-.9zM173.7 408.5h.9v.9h-.9zM190.8 421.9h.9v.9h-.9zM166.3 424.3h.9v.9h-.9zM177.2 413.7h.9v.9h-.9zM190.6 423.5h.9v.9h-.9zM174.7 422.4h.9v.9h-.9zM174.7 414.2h.9v.9h-.9zM170.3 410.3h.9v.9h-.9zM179.9 426.4h.9v.9h-.9zM175.5 419.8h.9v.9h-.9zM172.9 421.4h.9v.9h-.9zM178.3 419.9h.9v.9h-.9zM187.9 415.3h.9v.9h-.9zM174.8 417.5h.9v.9h-.9zM172.3 410.7h.9v.9h-.9zM171.1 420.3h.9v.9h-.9zM162.4 418.8h.9v.9h-.9zM184.7 432.8h.9v.9h-.9zM170.2 423.2h.9v.9h-.9zM175.5 429.4h.9v.9h-.9zM169.5 411.2h.9v.9h-.9zM181.5 413.5h.9v.9h-.9zM175.3 421.5h.9v.9h-.9zM172.1 426.5h.9v.9h-.9zM180.2 426.2h.9v.9h-.9zM190.4 424.1h.9v.9h-.9zM160.7 421.7h.9v.9h-.9zM171.3 407.0h.9v.9h-.9zM175.3 412.8h.9v.9h-.9zM174.4 414.3h.9v.9h-.9zM166.1 416.1h.9v.9h-.9zM175.7 414.9h.9v.9h-.9zM178.5 424.0h.9v.9h-.9zM183.8 428.5h.9v.9h-.9zM174.7 407.7h.9v.9h-.9zM176.6 409.9h.9v.9h-.9zM160.4 412.7h.9v.9h-.9zM168.9 410.0h.9v.9h-.9zM168.1 414.7h.9v.9h-.9zM175.4 408.9h.9v.9h-.9zM180.1 426.5h.9v.9h-.9zM168.4 424.3h.9v.9h-.9zM168.8 417.0h.9v.9h-.9zM169.3 425.7h.9v.9h-.9zM162.1 436.4h.9v.9h-.9zM176.1 420.8h.9v.9h-.9zM173.7 411.6h.9v.9h-.9zM166.1 423.6h.9v.9h-.9zM171.5 424.7h.9v.9h-.9zM189.2 421.7h.9v.9h-.9zM180.3 417.4h.9v.9h-.9zM169.0 421.6h.9v.9h-.9zM188.8 426.4h.9v.9h-.9zM177.7 414.6h.9v.9h-.9zM174.7 433.2h.9v.9h-.9zM177.3 410.8h.9v.9h-.9zM171.1 424.0h.9v.9h-.9zM177.2 416.7h.9v.9h-.9zM173.3 410.8h.9v.9h-.9zM176.5 422.4h.9v.9h-.9zM174.7 416.8h.9v.9h-.9zM178.8 408.3h.9v.9h-.9zM160.4 423.0h.9v.9h-.9zM183.8 415.2h.9v.9h-.9zM182.6 426.6h.9v.9h-.9zM170.3 423.1h.9v.9h-.9zM185.2 414.0h.9v.9h-.9zM178.6 424.2h.9v.9h-.9zM170.0 429.3h.9v.9h-.9zM171.6 428.2h.9v.9h-.9zM176.7 415.0h.9v.9h-.9zM173.8 412.5h.9v.9h-.9zM191.2 412.9h.9v.9h-.9zM170.5 430.3h.9v.9h-.9zM180.5 425.6h.9v.9h-.9zM167.9 411.5h.9v.9h-.9zM174.0 421.9h.9v.9h-.9zM181.4 427.7h.9v.9h-.9zM177.8 426.4h.9v.9h-.9zM163.9 407.6h.9v.9h-.9zM169.7 419.4h.9v.9h-.9zM170.2 416.5h.9v.9h-.9zM175.8 415.2h.9v.9h-.9zM174.4 429.1h.9v.9h-.9zM178.5 417.2h.9v.9h-.9zM176.3 424.2h.9v.9h-.9zM176.4 427.4h.9v.9h-.9zM165.7 428.8h.9v.9h-.9zM168.5 425.5h.9v.9h-.9zM165.4 428.9h.9v.9h-.9zM181.0 414.9h.9v.9h-.9zM179.7 416.9h.9v.9h-.9zM183.5 418.6h.9v.9h-.9zM172.2 412.4h.9v.9h-.9zM174.5 424.5h.9v.9h-.9zM180.0 414.7h.9v.9h-.9zM172.5 411.0h.9v.9h-.9zM170.3 419.0h.9v.9h-.9zM177.8 426.9h.9v.9h-.9zM171.3 410.3h.9v.9h-.9zM186.0 420.2h.9v.9h-.9zM172.6 421.3h.9v.9h-.9zM174.7 425.9h.9v.9h-.9zM178.9 410.4h.9v.9h-.9zM172.5 425.7h.9v.9h-.9zM173.5 426.7h.9v.9h-.9zM168.0 432.4h.9v.9h-.9zM177.6 407.2h.9v.9h-.9zM182.6 411.8h.9v.9h-.9zM176.6 421.7h.9v.9h-.9zM177.8 425.6h.9v.9h-.9zM162.2 417.2h.9v.9h-.9zM168.6 415.4h.9v.9h-.9zM175.1 412.2h.9v.9h-.9zM194.0 426.9h.9v.9h-.9zM182.5 428.3h.9v.9h-.9zM165.9 434.0h.9v.9h-.9zM174.1 423.7h.9v.9h-.9zM179.0 434.6h.9v.9h-.9zM185.0 418.4h.9v.9h-.9zM172.6 413.7h.9v.9h-.9zM174.6 423.6h.9v.9h-.9zM177.1 419.8h.9v.9h-.9zM170.1 414.9h.9v.9h-.9zM177.9 428.4h.9v.9h-.9zM179.8 417.3h.9v.9h-.9zM170.4 411.5h.9v.9h-.9zM181.1 435.6h.9v.9h-.9zM178.3 423.4h.9v.9h-.9zM166.2 421.6h.9v.9h-.9zM173.0 420.5h.9v.9h-.9zM175.7 418.6h.9v.9h-.9zM173.4 424.3h.9v.9h-.9zM165.2 411.1h.9v.9h-.9zM179.0 425.1h.9v.9h-.9zM181.3 409.5h.9v.9h-.9zM183.3 428.2h.9v.9h-.9zM177.0 411.6h.9v.9h-.9zM180.8 430.3h.9v.9h-.9zM173.4 424.1h.9v.9h-.9zM178.6 427.4h.9v.9h-.9zM179.8 426.0h.9v.9h-.9zM166.6 416.6h.9v.9h-.9zM164.7 428.7h.9v.9h-.9zM180.3 424.0h.9v.9h-.9zM187.8 413.1h.9v.9h-.9zM185.5 413.1h.9v.9h-.9zM163.0 416.7h.9v.9h-.9zM171.9 418.1h.9v.9h-.9zM174.9 423.8h.9v.9h-.9zM179.4 414.7h.9v.9h-.9zM167.7 425.8h.9v.9h-.9zM183.8 427.9h.9v.9h-.9zM178.5 405.5h.9v.9h-.9zM179.5 415.0h.9v.9h-.9zM182.2 431.4h.9v.9h-.9zM172.6 412.3h.9v.9h-.9zM172.8 424.1h.9v.9h-.9zM178.8 411.8h.9v.9h-.9zM177.4 412.8h.9v.9h-.9zM171.4 429.2h.9v.9h-.9zM163.6 429.6h.9v.9h-.9zM175.6 409.2h.9v.9h-.9zM171.4 425.2h.9v.9h-.9zM184.4 409.9h.9v.9h-.9zM174.0 423.4h.9v.9h-.9zM187.4 423.8h.9v.9h-.9zM166.3 418.0h.9v.9h-.9zM168.0 417.9h.9v.9h-.9zM172.2 418.7h.9v.9h-.9zM177.9 418.1h.9v.9h-.9zM181.7 429.7h.9v.9h-.9zM167.0 408.1h.9v.9h-.9zM176.0 420.4h.9v.9h-.9zM176.0 434.7h.9v.9h-.9zM179.9 428.6h.9v.9h-.9zM175.5 415.1h.9v.9h-.9zM160.2 416.9h.9v.9h-.9zM174.9 411.4h.9v.9h-.9zM169.4 420.9h.9v.9h-.9zM186.9 416.4h.9v.9h-.9zM172.5 413.4h.9v.9h-.9zM174.1 410.2h.9v.9h-.9zM177.0 412.3h.9v.9h-.9zM182.8 411.3h.9v.9h-.9zM166.4 423.3h.9v.9h-.9zM177.9 410.2h.9v.9h-.9zM175.8 419.7h.9v.9h-.9zM183.8 411.9h.9v.9h-.9zM161.4 421.1h.9v.9h-.9zM178.8 426.2h.9v.9h-.9zM173.7 417.9h.9v.9h-.9zM177.0 422.4h.9v.9h-.9zM169.4 416.8h.9v.9h-.9zM174.5 429.2h.9v.9h-.9zM188.5 428.8h.9v.9h-.9zM179.7 410.8h.9v.9h-.9zM169.4 422.5h.9v.9h-.9zM169.8 415.3h.9v.9h-.9zM192.3 416.7h.9v.9h-.9zM178.2 422.0h.9v.9h-.9zM172.9 423.6h.9v.9h-.9zM175.9 425.9h.9v.9h-.9zM180.5 421.0h.9v.9h-.9zM183.0 423.6h.9v.9h-.9zM171.7 432.1h.9v.9h-.9zM166.2 415.7h.9v.9h-.9zM171.5 433.2h.9v.9h-.9zM170.9 407.5h.9v.9h-.9zM167.3 421.7h.9v.9h-.9zM174.6 422.4h.9v.9h-.9zM165.5 422.5h.9v.9h-.9zM180.4 435.5h.9v.9h-.9zM184.9 408.5h.9v.9h-.9zM178.3 411.0h.9v.9h-.9zM177.5 426.0h.9v.9h-.9zM175.6 420.6h.9v.9h-.9zM171.1 426.3h.9v.9h-.9zM172.2 417.6h.9v.9h-.9zM178.5 413.6h.9v.9h-.9zM180.3 415.9h.9v.9h-.9zM173.5 425.0h.9v.9h-.9zM184.1 417.6h.9v.9h-.9zM176.2 417.3h.9v.9h-.9zM164.0 416.3h.9v.9h-.9zM191.4 418.0h.9v.9h-.9zM180.4 425.0h.9v.9h-.9zM183.7 419.9h.9v.9h-.9zM180.2 418.3h.9v.9h-.9zM191.7 423.3h.9v.9h-.9zM174.2 430.9h.9v.9h-.9zM169.1 428.6h.9v.9h-.9zM190.5 411.7h.9v.9h-.9zM178.9 415.4h.9v.9h-.9zM175.6 418.5h.9v.9h-.9zM160.5 430.2h.9v.9h-.9zM174.8 428.1h.9v.9h-.9zM170.5 416.9h.9v.9h-.9zM172.4 408.1h.9v.9h-.9zM188.0 430.7h.9v.9h-.9zM184.7 425.7h.9v.9h-.9zM172.7 423.9h.9v.9h-.9zM196.6 434.0h.9v.9h-.9zM177.4 411.0h.9v.9h-.9zM182.7 415.3h.9v.9h-.9zM186.3 418.4h.9v.9h-.9zM168.5 405.7h.9v.9h-.9zM167.5 425.9h.9v.9h-.9zM177.7 415.4h.9v.9h-.9zM176.0 418.5h.9v.9h-.9zM166.1 417.4h.9v.9h-.9zM184.6 435.3h.9v.9h-.9zM170.8 422.0h.9v.9h-.9zM167.0 426.0h.9v.9h-.9zM174.5 420.3h.9v.9h-.9zM184.3 427.4h.9v.9h-.9zM178.6 424.8h.9v.9h-.9zM178.2 416.4h.9v.9h-.9zM186.7 420.5h.9v.9h-.9zM169.6 415.3h.9v.9h-.9zM182.4 421.0h.9v.9h-.9zM175.8 431.3h.9v.9h-.9zM179.8 419.3h.9v.9h-.9zM184.6 425.9h.9v.9h-.9zM178.9 423.8h.9v.9h-.9zM172.3 426.6h.9v.9h-.9zM170.9 420.8h.9v.9h-.9zM166.1 427.6h.9v.9h-.9zM176.3 423.6h.9v.9h-.9zM169.6 413.3h.9v.9h-.9zM177.9 418.0h.9v.9h-.9zM174.8 407.3h.9v.9h-.9zM172.5 423.2h.9v.9h-.9zM166.0 410.7h.9v.9h-.9zM167.2 421.6h.9v.9h-.9zM171.2 409.3h.9v.9h-.9zM171.0 422.5h.9v.9h-.9zM166.4 422.4h.9v.9h-.9zM169.1 417.4h.9v.9h-.9zM176.7 431.8h.9v.9h-.9zM174.6 413.6h.9v.9h-.9zM165.6 424.8h.9v.9h-.9zM178.2 415.7h.9v.9h-.9zM180.5 422.9h.9v.9h-.9zM163.6 422.1h.9v.9h-.9zM164.0 405.7h.9v.9h-.9zM174.8 419.6h.9v.9h-.9zM176.7 421.0h.9v.9h-.9zM173.5 420.8h.9v.9h-.9zM165.2 418.0h.9v.9h-.9zM179.1 436.0h.9v.9h-.9zM168.9 429.2h.9v.9h-.9zM169.7 418.3h.9v.9h-.9zM175.1 419.3h.9v.9h-.9zM175.0 427.5h.9v.9h-.9zM181.1 413.2h.9v.9h-.9zM180.7 421.6h.9v.9h-.9zM165.2 410.2h.9v.9h-.9zM184.4 429.4h.9v.9h-.9zM168.4 426.6h.9v.9h-.9zM168.4 424.3h.9v.9h-.9zM190.7 418.9h.9v.9h-.9zM184.9 413.2h.9v.9h-.9zM173.8 415.5h.9v.9h-.9zM187.9 423.5h.9v.9h-.9zM170.4 409.4h.9v.9h-.9zM172.9 426.2h.9v.9h-.9zM182.6 415.0h.9v.9h-.9zM181.3 421.0h.9v.9h-.9zM173.5 422.6h.9v.9h-.9zM190.0 417.5h.9v.9h-.9zM175.3 419.3h.9v.9h-.9zM172.0 422.0h.9v.9h-.9zM178.0 405.4h.9v.9h-.9zM175.8 421.0h.9v.9h-.9zM186.2 429.0h.9v.9h-.9zM179.0 411.0h.9v.9h-.9zM176.3 436.7h.9v.9h-.9zM179.5 425.2h.9v.9h-.9zM195.0 420.3h.9v.9h-.9zM164.7 427.4h.9v.9h-.9zM177.9 409.4h.9v.9h-.9zM187.0 418.8h.9v.9h-.9zM191.1 410.3h.9v.9h-.9zM185.1 427.0h.9v.9h-.9zM175.9 427.4h.9v.9h-.9zM181.9 423.4h.9v.9h-.9zM164.1 420.3h.9v.9h-.9zM163.1 418.2h.9v.9h-.9zM171.3 427.5h.9v.9h-.9zM174.6 406.8h.9v.9h-.9zM179.6 415.3h.9v.9h-.9zM181.6 408.7h.9v.9h-.9zM168.6 416.1h.9v.9h-.9zM172.4 418.6h.9v.9h-.9zM180.0 424.2h.9v.9h-.9zM176.6 421.9h.9v.9h-.9zM172.7 406.5h.9v.9h-.9zM171.4 416.2h.9v.9h-.9zM171.3 415.8h.9v.9h-.9zM168.6 416.6h.9v.9h-.9zM174.5 424.8h.9v.9h-.9zM181.5 411.0h.9v.9h-.9zM178.9 417.9h.9v.9h-.9zM174.3 430.1h.9v.9h-.9zM180.5 422.6h.9v.9h-.9zM167.2 417.6h.9v.9h-.9zM182.7 414.0h.9v.9h-.9zM169.0 411.4h.9v.9h-.9zM176.5 412.1h.9v.9h-.9zM194.6 420.1h.9v.9h-.9zM176.0 415.7h.9v.9h-.9zM178.8 423.9h.9v.9h-.9zM173.0 416.2h.9v.9h-.9zM183.1 421.2h.9v.9h-.9zM180.4 420.3h.9v.9h-.9zM171.5 423.9h.9v.9h-.9zM180.4 420.1h.9v.9h-.9zM175.2 427.5h.9v.9h-.9zM169.3 424.1h.9v.9h-.9zM174.4 421.5h.9v.9h-.9zM181.0 408.1h.9v.9h-.9zM174.5 420.0h.9v.9h-.9zM176.6 438.2h.9v.9h-.9zM170.4 421.5h.9v.9h-.9zM180.9 427.0h.9v.9h-.9zM171.8 418.4h.9v.9h-.9zM170.4 409.4h.9v.9h-.9zM170.0 414.3h.9v.9h-.9zM176.1 420.6h.9v.9h-.9zM182.3 405.5h.9v.9h-.9zM177.3 418.1h.9v.9h-.9zM175.5 414.8h.9v.9h-.9zM172.3 424.7h.9v.9h-.9zM183.2 407.9h.9v.9h-.9zM178.4 412.8h.9v.9h-.9zM180.0 417.4h.9v.9h-.9zM165.6 414.3h.9v.9h-.9zM175.7 428.3h.9v.9h-.9zM185.1 428.9h.9v.9h-.9zM176.5 424.2h.9v.9h-.9zM173.3 432.0h.9v.9h-.9zM169.4 412.1h.9v.9h-.9zM182.1 408.7h.9v.9h-.9zM177.2 430.2h.9v.9h-.9zM177.5 425.5h.9v.9h-.9zM176.7 422.7h.9v.9h-.9zM166.4 434.3h.9v.9h-.9zM173.3 417.0h.9v.9h-.9zM176.8 431.2h.9v.9h-.9zM173.4 419.6h.9v.9h-.9zM182.5 426.1h.9v.9h-.9zM172.7 417.9h.9v.9h-.9zM175.7 413.8h.9v.9h-.9zM167.7 414.4h.9v.9h-.9zM165.9 437.4h.9v.9h-.9zM169.2 425.4h.9v.9h-.9zM162.0 415.9h.9v.9h-.9zM187.0 418.9h.9v.9h-.9zM164.2 416.8h.9v.9h-.9zM186.6 417.4h.9v.9h-.9zM170.3 422.3h.9v.9h-.9zM176.0 414.1h.9v.9h-.9zM173.0 410.5h.9v.9h-.9zM165.2 425.9h.9v.9h-.9zM187.6 419.9h.9v.9h-.9zM174.1 432.6h.9v.9h-.9zM168.8 422.6h.9v.9h-.9zM182.8 421.6h.9v.9h-.9zM169.1 418.5h.9v.9h-.9zM181.4 426.0h.9v.9h-.9zM178.9 422.2h.9v.9h-.9zM168.9 422.7h.9v.9h-.9zM166.4 420.0h.9v.9h-.9zM172.1 422.9h.9v.9h-.9zM183.9 421.3h.9v.9h-.9zM180.6 418.7h.9v.9h-.9zM171.3 426.0h.9v.9h-.9zM174.6 410.1h.9v.9h-.9zM175.2 419.2h.9v.9h-.9zM178.2 424.3h.9v.9h-.9zM170.2 426.3h.9v.9h-.9zM161.3 434.6h.9v.9h-.9zM166.5 424.1h.9v.9h-.9zM184.8 417.2h.9v.9h-.9zM164.1 411.1h.9v.9h-.9zM174.0 422.0h.9v.9h-.9zM183.3 417.2h.9v.9h-.9zM172.7 418.4h.9v.9h-.9zM174.8 411.8h.9v.9h-.9zM171.4 414.6h.9v.9h-.9zM180.8 416.0h.9v.9h-.9zM172.6 437.8h.9v.9h-.9zM176.0 426.7h.9v.9h-.9zM178.6 423.9h.9v.9h-.9zM175.8 416.8h.9v.9h-.9zM164.5 427.6h.9v.9h-.9zM172.1 405.3h.9v.9h-.9zM185.9 432.0h.9v.9h-.9zM167.0 432.2h.9v.9h-.9zM160.5 423.2h.9v.9h-.9zM169.6 420.9h.9v.9h-.9zM179.8 428.1h.9v.9h-.9zM179.0 421.6h.9v.9h-.9zM181.4 412.1h.9v.9h-.9zM177.6 416.3h.9v.9h-.9zM167.2 421.2h.9v.9h-.9zM179.3 424.2h.9v.9h-.9zM184.9 413.6h.9v.9h-.9zM165.4 419.3h.9v.9h-.9zM173.1 418.5h.9v.9h-.9zM177.9 416.3h.9v.9h-.9zM175.2 424.6h.9v.9h-.9zM165.8 419.1h.9v.9h-.9zM167.4 422.4h.9v.9h-.9zM169.1 418.3h.9v.9h-.9zM192.9 408.5h.9v.9h-.9zM181.3 423.5h.9v.9h-.9zM169.9 422.0h.9v.9h-.9zM180.4 427.7h.9v.9h-.9zM189.4 416.4h.9v.9h-.9zM171.9 421.2h.9v.9h-.9zM166.9 422.8h.9v.9h-.9zM176.0 414.7h.9v.9h-.9zM184.6 420.9h.9v.9h-.9zM184.6 428.0h.9v.9h-.9zM160.9 428.9h.9v.9h-.9zM177.4 437.2h.9v.9h-.9zM175.3 422.6h.9v.9h-.9zM177.4 421.7h.9v.9h-.9zM168.2 430.7h.9v.9h-.9zM183.2 422.2h.9v.9h-.9zM171.9 419.1h.9v.9h-.9zM168.3 415.6h.9v.9h-.9zM173.7 416.0h.9v.9h-.9zM176.8 421.7h.9v.9h-.9zM174.2 432.1h.9v.9h-.9zM193.1 415.6h.9v.9h-.9zM177.4 416.7h.9v.9h-.9zM178.1 406.1h.9v.9h-.9zM172.1 417.5h.9v.9h-.9zM175.8 424.4h.9v.9h-.9zM167.5 412.4h.9v.9h-.9zM175.6 419.0h.9v.9h-.9zM193.8 421.4h.9v.9h-.9zM174.6 426.6h.9v.9h-.9zM177.3 416.9h.9v.9h-.9zM166.1 415.6h.9v.9h-.9zM184.6 420.4h.9v.9h-.9zM165.9 410.4h.9v.9h-.9zM171.6 419.5h.9v.9h-.9zM176.7 432.2h.9v.9h-.9zM177.9 421.9h.9v.9h-.9zM174.9 435.2h.9v.9h-.9zM168.7 417.7h.9v.9h-.9zM184.0 417.5h.9v.9h-.9zM175.6 430.9h.9v.9h-.9zM179.1 413.6h.9v.9h-.9zM166.6 424.5h.9v.9h-.9zM185.0 419.0h.9v.9h-.9zM178.9 430.2h.9v.9h-.9zM171.6 428.7h.9v.9h-.9zM174.7 418.3h.9v.9h-.9zM168.9 419.6h.9v.9h-.9zM164.5 410.8h.9v.9h-.9zM165.3 422.4h.9v.9h-.9zM173.7 426.3h.9v.9h-.9zM166.4 419.3h.9v.9h-.9zM168.4 420.0h.9v.9h-.9zM174.7 436.2h.9v.9h-.9zM188.5 408.4h.9v.9h-.9zM175.0 423.3h.9v.9h-.9zM173.9 418.6h.9v.9h-.9zM181.5 409.9h.9v.9h-.9zM171.1 427.8h.9v.9h-.9zM173.3 415.4h.9v.9h-.9zM171.1 409.8h.9v.9h-.9zM178.9 423.6h.9v.9h-.9zM174.9 422.1h.9v.9h-.9zM169.2 411.5h.9v.9h-.9zM182.9 415.0h.9v.9h-.9zM181.9 415.3h.9v.9h-.9zM169.3 419.2h.9v.9h-.9zM174.5 420.0h.9v.9h-.9zM172.2 424.5h.9v.9h-.9zM169.0 412.9h.9v.9h-.9zM175.2 416.4h.9v.9h-.9zM185.7 422.5h.9v.9h-.9zM166.6 412.9h.9v.9h-.9zM173.1 420.0h.9v.9h-.9zM162.3 424.8h.9v.9h-.9zM173.3 418.5h.9v.9h-.9zM185.8 433.0h.9v.9h-.9zM171.0 418.6h.9v.9h-.9zM181.7 410.8h.9v.9h-.9zM176.1 416.6h.9v.9h-.9zM162.6 423.5h.9v.9h-.9zM172.9 424.0h.9v.9h-.9zM182.3 410.1h.9v.9h-.9zM177.5 420.1h.9v.9h-.9zM164.4 408.3h.9v.9h-.9zM182.2 426.8h.9v.9h-.9zM177.6 426.9h.9v.9h-.9zM179.6 427.7h.9v.9h-.9zM184.8 423.6h.9v.9h-.9zM165.8 405.3h.9v.9h-.9zM175.3 416.7h.9v.9h-.9zM181.0 412.2h.9v.9h-.9zM182.5 416.1h.9v.9h-.9zM184.5 426.5h.9v.9h-.9zM160.4 415.5h.9v.9h-.9zM168.8 420.4h.9v.9h-.9zM169.2 408.6h.9v.9h-.9zM169.6 421.7h.9v.9h-.9zM165.3 426.5h.9v.9h-.9zM175.6 424.9h.9v.9h-.9zM164.8 421.3h.9v.9h-.9zM180.1 422.8h.9v.9h-.9zM180.4 418.8h.9v.9h-.9zM175.8 412.8h.9v.9h-.9zM181.9 425.0h.9v.9h-.9zM183.3 409.2h.9v.9h-.9zM185.4 423.9h.9v.9h-.9zM169.2 413.3h.9v.9h-.9zM170.7 411.1h.9v.9h-.9zM179.4 432.0h.9v.9h-.9zM179.2 425.3h.9v.9h-.9zM180.4 411.2h.9v.9h-.9zM164.0 419.1h.9v.9h-.9zM168.1 420.4h.9v.9h-.9zM173.6 419.4h.9v.9h-.9zM173.8 421.9h.9v.9h-.9zM190.3 419.5h.9v.9h-.9zM172.7 415.9h.9v.9h-.9zM178.5 414.5h.9v.9h-.9zM178.4 408.4h.9v.9h-.9zM165.9 411.4h.9v.9h-.9zM173.6 436.0h.9v.9h-.9zM163.6 416.2h.9v.9h-.9zM177.9 414.5h.9v.9h-.9zM169.4 424.3h.9v.9h-.9zM187.7 428.1h.9v.9h-.9zM171.8 410.9h.9v.9h-.9zM161.2 415.1h.9v.9h-.9zM181.0 423.4h.9v.9h-.9zM171.6 410.3h.9v.9h-.9zM169.6 420.1h.9v.9h-.9zM176.8 432.5h.9v.9h-.9zM186.0 432.5h.9v.9h-.9zM227.0 434.8h.9v.9h-.9zM181.3 401.7h.9v.9h-.9zM168.7 390.5h.9v.9h-.9zM166.5 400.8h.9v.9h-.9zM231.1 419.8h.9v.9h-.9z" fill="#000" fill-opacity="0.6"/>
<path d="M170.6 411.0h.9v.9h-.9zM168.1 412.1h.9v.9h-.9zM184.2 413.9h.9v.9h-.9zM174.6 417.9h.9v.9h-.9zM176.1 414.4h.9v.9h-.9zM171.3 413.5h.9v.9h-.9zM175.5 417.4h.9v.9h-.9zM178.0 420.8h.9v.9h-.9zM168.4 408.5h.9v.9h-.9zM181.7 414.0h.9v.9h-.9zM176.8 410.0h.9v.9h-.9zM183.2 424.5h.9v.9h-.9zM174.2 419.8h.9v.9h-.9zM169.9 415.8h.9v.9h-.9zM180.0 418.2h.9v.9h-.9zM187.8 411.9h.9v.9h-.9zM179.8 414.7h.9v.9h-.9zM187.5 409.7h.9v.9h-.9zM176.1 413.0h.9v.9h-.9zM178.9 419.0h.9v.9h-.9zM180.8 425.0h.9v.9h-.9zM181.1 426.2h.9v.9h-.9zM182.0 411.5h.9v.9h-.9zM175.2 415.2h.9v.9h-.9zM175.5 409.6h.9v.9h-.9zM169.2 422.2h.9v.9h-.9zM173.4 410.4h.9v.9h-.9zM178.2 417.2h.9v.9h-.9zM178.2 408.6h.9v.9h-.9zM174.8 411.7h.9v.9h-.9zM177.5 416.1h.9v.9h-.9zM188.8 407.8h.9v.9h-.9zM170.5 423.2h.9v.9h-.9zM160.2 412.7h.9v.9h-.9zM176.5 429.4h.9v.9h-.9zM180.1 416.4h.9v.9h-.9zM173.3 411.3h.9v.9h-.9zM177.2 415.6h.9v.9h-.9zM181.6 420.7h.9v.9h-.9zM179.2 427.0h.9v.9h-.9zM172.9 423.4h.9v.9h-.9zM183.4 422.8h.9v.9h-.9zM180.7 412.5h.9v.9h-.9zM190.0 413.5h.9v.9h-.9zM182.0 416.6h.9v.9h-.9zM176.7 414.5h.9v.9h-.9zM175.0 414.4h.9v.9h-.9zM181.2 413.3h.9v.9h-.9zM179.7 417.7h.9v.9h-.9zM177.7 429.9h.9v.9h-.9zM182.2 413.9h.9v.9h-.9zM180.1 414.7h.9v.9h-.9zM186.0 411.5h.9v.9h-.9zM180.2 418.5h.9v.9h-.9zM176.9 418.1h.9v.9h-.9zM171.0 417.9h.9v.9h-.9zM180.7 422.8h.9v.9h-.9zM162.4 410.7h.9v.9h-.9zM169.6 418.2h.9v.9h-.9zM174.5 411.9h.9v.9h-.9zM178.4 426.8h.9v.9h-.9zM185.5 418.6h.9v.9h-.9zM167.3 418.7h.9v.9h-.9zM182.3 410.1h.9v.9h-.9zM167.8 417.6h.9v.9h-.9zM178.4 410.5h.9v.9h-.9zM177.4 419.2h.9v.9h-.9zM185.8 410.2h.9v.9h-.9zM180.4 415.7h.9v.9h-.9zM176.8 411.2h.9v.9h-.9zM180.8 414.9h.9v.9h-.9zM178.9 416.8h.9v.9h-.9zM178.0 422.5h.9v.9h-.9zM174.4 432.3h.9v.9h-.9zM178.2 423.6h.9v.9h-.9zM176.2 412.6h.9v.9h-.9zM178.6 418.2h.9v.9h-.9zM177.4 413.0h.9v.9h-.9zM176.6 423.6h.9v.9h-.9zM171.4 417.8h.9v.9h-.9zM186.5 416.7h.9v.9h-.9zM182.5 409.1h.9v.9h-.9zM182.3 431.8h.9v.9h-.9zM178.2 411.1h.9v.9h-.9zM176.1 418.2h.9v.9h-.9zM170.0 412.7h.9v.9h-.9zM176.9 416.8h.9v.9h-.9zM180.8 414.9h.9v.9h-.9zM178.5 410.7h.9v.9h-.9zM181.8 426.0h.9v.9h-.9zM177.6 421.7h.9v.9h-.9zM186.9 412.9h.9v.9h-.9zM179.4 416.9h.9v.9h-.9zM176.2 416.6h.9v.9h-.9zM177.9 415.2h.9v.9h-.9zM184.5 425.0h.9v.9h-.9zM180.5 426.1h.9v.9h-.9zM176.4 415.2h.9v.9h-.9zM178.8 409.8h.9v.9h-.9zM170.1 414.4h.9v.9h-.9zM178.5 425.1h.9v.9h-.9zM179.2 413.8h.9v.9h-.9zM183.4 412.3h.9v.9h-.9zM182.5 411.9h.9v.9h-.9zM176.8 414.3h.9v.9h-.9zM178.2 417.3h.9v.9h-.9zM167.5 408.1h.9v.9h-.9zM178.1 426.4h.9v.9h-.9zM180.3 432.3h.9v.9h-.9zM184.2 412.1h.9v.9h-.9zM179.7 430.3h.9v.9h-.9zM171.6 424.3h.9v.9h-.9zM175.2 410.0h.9v.9h-.9zM184.5 415.4h.9v.9h-.9zM177.9 415.2h.9v.9h-.9zM178.3 416.6h.9v.9h-.9zM188.0 416.9h.9v.9h-.9zM177.4 412.7h.9v.9h-.9zM168.6 413.3h.9v.9h-.9zM179.4 409.0h.9v.9h-.9zM174.6 421.1h.9v.9h-.9zM173.3 423.7h.9v.9h-.9zM176.4 423.4h.9v.9h-.9zM182.6 419.7h.9v.9h-.9zM177.9 412.4h.9v.9h-.9zM173.0 415.8h.9v.9h-.9zM184.6 414.7h.9v.9h-.9zM189.5 410.3h.9v.9h-.9zM180.6 422.8h.9v.9h-.9zM168.7 416.5h.9v.9h-.9zM177.0 411.7h.9v.9h-.9zM174.1 426.4h.9v.9h-.9zM178.7 421.8h.9v.9h-.9zM183.9 411.0h.9v.9h-.9zM175.4 416.6h.9v.9h-.9zM179.1 413.4h.9v.9h-.9zM173.4 415.0h.9v.9h-.9zM173.2 410.1h.9v.9h-.9zM180.9 421.9h.9v.9h-.9zM175.9 415.9h.9v.9h-.9zM181.6 411.4h.9v.9h-.9zM179.8 421.4h.9v.9h-.9zM172.0 412.2h.9v.9h-.9zM183.0 412.0h.9v.9h-.9zM175.5 411.0h.9v.9h-.9zM180.8 426.2h.9v.9h-.9zM187.8 410.3h.9v.9h-.9zM183.4 410.0h.9v.9h-.9zM172.8 415.5h.9v.9h-.9zM178.2 416.3h.9v.9h-.9zM174.9 409.6h.9v.9h-.9zM173.7 412.6h.9v.9h-.9zM177.7 415.1h.9v.9h-.9zM180.4 413.1h.9v.9h-.9zM178.5 409.7h.9v.9h-.9zM186.7 415.3h.9v.9h-.9zM177.2 426.1h.9v.9h-.9zM173.4 429.8h.9v.9h-.9zM172.9 420.9h.9v.9h-.9zM178.6 419.5h.9v.9h-.9zM170.7 419.7h.9v.9h-.9zM171.9 412.8h.9v.9h-.9zM179.6 415.6h.9v.9h-.9zM179.3 411.5h.9v.9h-.9zM173.8 409.6h.9v.9h-.9zM180.7 426.7h.9v.9h-.9zM175.7 416.5h.9v.9h-.9zM172.4 413.8h.9v.9h-.9zM172.7 413.7h.9v.9h-.9zM172.5 411.5h.9v.9h-.9zM186.3 416.8h.9v.9h-.9zM180.8 410.4h.9v.9h-.9zM179.3 419.2h.9v.9h-.9zM171.3 413.4h.9v.9h-.9zM179.9 414.8h.9v.9h-.9zM178.6 423.1h.9v.9h-.9zM179.5 421.3h.9v.9h-.9zM181.8 427.2h.9v.9h-.9zM177.7 424.6h.9v.9h-.9zM184.8 411.3h.9v.9h-.9zM174.0 412.9h.9v.9h-.9zM179.4 419.2h.9v.9h-.9zM186.3 410.0h.9v.9h-.9zM176.6 421.8h.9v.9h-.9zM180.6 426.7h.9v.9h-.9zM177.3 414.7h.9v.9h-.9zM178.9 420.1h.9v.9h-.9zM186.3 412.3h.9v.9h-.9zM175.8 415.4h.9v.9h-.9zM168.9 410.1h.9v.9h-.9zM187.3 410.8h.9v.9h-.9zM179.2 420.3h.9v.9h-.9zM177.4 413.9h.9v.9h-.9zM176.7 423.4h.9v.9h-.9zM176.6 436.1h.9v.9h-.9zM182.5 409.4h.9v.9h-.9zM179.8 424.7h.9v.9h-.9zM186.4 411.3h.9v.9h-.9zM173.1 410.3h.9v.9h-.9zM182.8 412.0h.9v.9h-.9zM180.0 418.6h.9v.9h-.9zM179.0 413.1h.9v.9h-.9zM177.8 422.6h.9v.9h-.9zM175.1 412.6h.9v.9h-.9zM174.1 413.5h.9v.9h-.9zM174.7 414.5h.9v.9h-.9zM175.9 411.0h.9v.9h-.9zM169.9 412.4h.9v.9h-.9zM174.3 423.7h.9v.9h-.9zM172.6 409.9h.9v.9h-.9zM183.1 417.9h.9v.9h-.9zM177.6 430.3h.9v.9h-.9zM176.9 416.6h.9v.9h-.9zM177.9 418.4h.9v.9h-.9zM176.9 412.7h.9v.9h-.9zM178.9 429.2h.9v.9h-.9zM173.6 413.4h.9v.9h-.9zM179.5 418.6h.9v.9h-.9zM179.3 416.4h.9v.9h-.9zM177.7 420.6h.9v.9h-.9zM169.1 411.5h.9v.9h-.9zM175.5 424.4h.9v.9h-.9zM180.6 412.1h.9v.9h-.9zM177.8 417.7h.9v.9h-.9zM173.2 424.4h.9v.9h-.9zM167.5 412.0h.9v.9h-.9zM177.2 415.0h.9v.9h-.9zM179.2 422.2h.9v.9h-.9zM178.0 428.5h.9v.9h-.9zM187.6 412.5h.9v.9h-.9zM187.8 413.7h.9v.9h-.9zM184.8 413.4h.9v.9h-.9zM170.8 416.0h.9v.9h-.9zM181.4 419.5h.9v.9h-.9zM174.4 422.0h.9v.9h-.9zM176.3 410.2h.9v.9h-.9zM176.3 415.1h.9v.9h-.9zM180.5 413.6h.9v.9h-.9zM175.2 411.1h.9v.9h-.9zM187.1 411.2h.9v.9h-.9zM171.1 412.1h.9v.9h-.9zM172.6 409.5h.9v.9h-.9zM168.4 415.0h.9v.9h-.9zM186.8 411.9h.9v.9h-.9zM177.3 424.8h.9v.9h-.9zM189.8 411.3h.9v.9h-.9zM170.2 413.9h.9v.9h-.9zM177.2 414.1h.9v.9h-.9zM183.3 415.0h.9v.9h-.9zM176.7 412.6h.9v.9h-.9zM183.0 410.4h.9v.9h-.9zM170.9 410.5h.9v.9h-.9zM177.7 428.6h.9v.9h-.9zM172.1 411.1h.9v.9h-.9zM172.8 414.7h.9v.9h-.9zM180.3 411.6h.9v.9h-.9zM180.5 428.7h.9v.9h-.9zM181.1 409.9h.9v.9h-.9zM177.8 424.3h.9v.9h-.9zM178.6 420.1h.9v.9h-.9zM178.0 414.2h.9v.9h-.9zM182.3 412.4h.9v.9h-.9zM186.9 412.5h.9v.9h-.9zM176.3 413.9h.9v.9h-.9zM168.8 412.8h.9v.9h-.9zM174.1 411.1h.9v.9h-.9zM184.3 415.1h.9v.9h-.9zM179.8 426.8h.9v.9h-.9zM180.3 418.4h.9v.9h-.9zM179.5 412.8h.9v.9h-.9zM174.1 408.4h.9v.9h-.9zM180.4 416.0h.9v.9h-.9zM177.6 415.7h.9v.9h-.9zM181.3 413.5h.9v.9h-.9zM166.3 413.5h.9v.9h-.9zM181.5 414.1h.9v.9h-.9zM179.6 415.5h.9v.9h-.9zM181.3 414.4h.9v.9h-.9zM180.4 415.7h.9v.9h-.9zM180.7 409.7h.9v.9h-.9zM190.0 408.4h.9v.9h-.9zM174.3 412.1h.9v.9h-.9zM175.6 411.7h.9v.9h-.9zM183.8 413.0h.9v.9h-.9zM168.6 411.9h.9v.9h-.9zM175.8 422.3h.9v.9h-.9zM173.9 409.9h.9v.9h-.9zM170.3 408.5h.9v.9h-.9zM172.0 414.6h.9v.9h-.9zM185.6 413.1h.9v.9h-.9zM169.9 419.6h.9v.9h-.9zM173.3 413.8h.9v.9h-.9zM175.8 411.5h.9v.9h-.9zM176.6 424.2h.9v.9h-.9zM181.9 421.9h.9v.9h-.9zM172.8 422.0h.9v.9h-.9zM176.5 417.5h.9v.9h-.9zM173.7 417.0h.9v.9h-.9zM177.6 416.6h.9v.9h-.9zM180.4 414.6h.9v.9h-.9zM176.7 419.1h.9v.9h-.9zM171.6 419.0h.9v.9h-.9zM180.8 418.6h.9v.9h-.9zM172.2 411.2h.9v.9h-.9zM183.9 409.5h.9v.9h-.9zM179.6 411.2h.9v.9h-.9zM172.0 410.9h.9v.9h-.9zM172.9 413.9h.9v.9h-.9zM177.0 410.9h.9v.9h-.9zM177.5 430.2h.9v.9h-.9zM178.5 411.5h.9v.9h-.9zM167.8 414.5h.9v.9h-.9zM174.4 415.5h.9v.9h-.9zM176.5 413.0h.9v.9h-.9zM179.7 418.9h.9v.9h-.9zM183.3 418.5h.9v.9h-.9zM173.1 423.0h.9v.9h-.9zM181.2 423.4h.9v.9h-.9zM178.0 410.9h.9v.9h-.9zM172.6 410.1h.9v.9h-.9zM170.9 410.7h.9v.9h-.9zM170.7 409.9h.9v.9h-.9zM178.6 424.8h.9v.9h-.9zM166.2 413.1h.9v.9h-.9zM182.2 410.1h.9v.9h-.9zM177.9 420.9h.9v.9h-.9zM177.8 421.7h.9v.9h-.9zM181.0 414.2h.9v.9h-.9zM185.6 410.1h.9v.9h-.9zM176.0 425.7h.9v.9h-.9zM179.1 418.3h.9v.9h-.9zM173.8 424.1h.9v.9h-.9zM175.2 412.2h.9v.9h-.9zM173.2 419.9h.9v.9h-.9zM177.5 417.2h.9v.9h-.9zM182.4 416.9h.9v.9h-.9zM181.0 419.4h.9v.9h-.9zM177.9 416.6h.9v.9h-.9zM181.7 410.2h.9v.9h-.9zM175.1 416.7h.9v.9h-.9zM165.4 413.5h.9v.9h-.9zM180.5 422.0h.9v.9h-.9zM170.4 410.8h.9v.9h-.9zM176.0 419.1h.9v.9h-.9zM168.8 420.2h.9v.9h-.9zM179.9 413.0h.9v.9h-.9zM181.1 414.7h.9v.9h-.9zM178.8 415.0h.9v.9h-.9zM171.6 409.7h.9v.9h-.9zM174.2 411.6h.9v.9h-.9zM172.3 415.9h.9v.9h-.9zM184.0 415.5h.9v.9h-.9zM178.7 422.3h.9v.9h-.9zM181.6 417.0h.9v.9h-.9zM178.1 419.8h.9v.9h-.9zM165.4 411.8h.9v.9h-.9zM177.6 412.3h.9v.9h-.9zM180.1 418.9h.9v.9h-.9zM175.4 427.7h.9v.9h-.9zM172.3 418.2h.9v.9h-.9zM184.9 417.7h.9v.9h-.9zM179.5 424.8h.9v.9h-.9zM180.1 414.7h.9v.9h-.9zM172.6 420.1h.9v.9h-.9zM172.9 422.2h.9v.9h-.9zM172.8 410.8h.9v.9h-.9zM181.3 412.0h.9v.9h-.9zM176.3 412.2h.9v.9h-.9zM185.7 412.0h.9v.9h-.9zM177.4 426.5h.9v.9h-.9zM183.5 409.1h.9v.9h-.9zM183.2 412.2h.9v.9h-.9zM178.4 411.4h.9v.9h-.9zM174.7 409.5h.9v.9h-.9zM179.9 413.3h.9v.9h-.9zM178.8 414.6h.9v.9h-.9zM178.6 411.9h.9v.9h-.9zM168.4 412.5h.9v.9h-.9zM183.4 417.3h.9v.9h-.9zM172.2 415.7h.9v.9h-.9zM185.9 415.6h.9v.9h-.9zM177.9 413.0h.9v.9h-.9zM181.2 417.8h.9v.9h-.9zM174.3 413.3h.9v.9h-.9zM182.4 415.4h.9v.9h-.9zM174.9 411.8h.9v.9h-.9zM179.5 411.3h.9v.9h-.9zM172.5 416.9h.9v.9h-.9zM180.5 417.8h.9v.9h-.9zM174.5 431.0h.9v.9h-.9zM187.7 410.8h.9v.9h-.9zM173.0 412.3h.9v.9h-.9zM179.5 427.4h.9v.9h-.9zM182.0 419.9h.9v.9h-.9zM175.0 415.6h.9v.9h-.9zM173.2 422.2h.9v.9h-.9zM177.2 409.8h.9v.9h-.9zM173.5 417.4h.9v.9h-.9zM183.4 411.4h.9v.9h-.9zM174.5 424.7h.9v.9h-.9zM181.0 414.2h.9v.9h-.9zM176.0 423.2h.9v.9h-.9zM178.7 420.1h.9v.9h-.9zM165.4 415.4h.9v.9h-.9zM174.7 412.2h.9v.9h-.9zM181.2 418.9h.9v.9h-.9zM175.1 407.9h.9v.9h-.9zM167.5 411.2h.9v.9h-.9zM188.3 412.2h.9v.9h-.9zM177.2 419.8h.9v.9h-.9zM179.0 414.2h.9v.9h-.9zM172.9 414.6h.9v.9h-.9zM175.1 417.6h.9v.9h-.9zM183.9 413.4h.9v.9h-.9zM170.8 412.9h.9v.9h-.9zM182.3 422.1h.9v.9h-.9zM179.2 416.7h.9v.9h-.9zM177.0 411.9h.9v.9h-.9zM177.3 421.3h.9v.9h-.9zM181.2 423.0h.9v.9h-.9zM182.4 409.6h.9v.9h-.9zM178.8 411.8h.9v.9h-.9zM185.4 411.6h.9v.9h-.9zM173.1 414.0h.9v.9h-.9zM181.1 427.6h.9v.9h-.9zM179.5 414.0h.9v.9h-.9zM171.1 416.1h.9v.9h-.9zM175.6 416.1h.9v.9h-.9zM184.7 418.0h.9v.9h-.9zM177.7 430.0h.9v.9h-.9zM171.2 416.5h.9v.9h-.9zM174.4 426.7h.9v.9h-.9zM176.6 425.2h.9v.9h-.9zM177.7 422.5h.9v.9h-.9zM184.2 420.2h.9v.9h-.9zM184.8 414.2h.9v.9h-.9zM175.5 409.3h.9v.9h-.9zM182.0 416.6h.9v.9h-.9zM183.3 413.5h.9v.9h-.9zM178.3 421.8h.9v.9h-.9zM181.9 410.7h.9v.9h-.9zM173.0 414.2h.9v.9h-.9zM175.3 413.0h.9v.9h-.9zM172.6 412.7h.9v.9h-.9zM172.7 415.6h.9v.9h-.9zM178.5 422.4h.9v.9h-.9zM186.3 414.1h.9v.9h-.9zM176.8 414.0h.9v.9h-.9zM175.1 413.9h.9v.9h-.9zM189.2 412.1h.9v.9h-.9zM172.6 412.9h.9v.9h-.9zM176.0 410.4h.9v.9h-.9zM184.8 412.6h.9v.9h-.9zM183.1 418.1h.9v.9h-.9zM179.6 411.9h.9v.9h-.9zM176.8 421.3h.9v.9h-.9zM174.8 413.0h.9v.9h-.9zM179.3 429.7h.9v.9h-.9zM187.0 419.0h.9v.9h-.9zM180.7 410.9h.9v.9h-.9zM176.0 426.6h.9v.9h-.9zM183.4 408.5h.9v.9h-.9zM180.3 413.2h.9v.9h-.9zM169.0 414.1h.9v.9h-.9zM185.2 411.2h.9v.9h-.9zM177.9 415.2h.9v.9h-.9zM175.0 414.3h.9v.9h-.9zM176.8 424.9h.9v.9h-.9zM172.9 423.6h.9v.9h-.9zM180.8 419.2h.9v.9h-.9zM181.4 420.1h.9v.9h-.9zM178.8 419.7h.9v.9h-.9zM177.6 427.9h.9v.9h-.9zM173.4 415.8h.9v.9h-.9zM177.4 414.9h.9v.9h-.9zM176.9 409.0h.9v.9h-.9zM175.5 414.1h.9v.9h-.9zM175.8 426.3h.9v.9h-.9zM177.8 410.8h.9v.9h-.9zM167.3 414.5h.9v.9h-.9zM172.7 420.4h.9v.9h-.9zM179.9 414.3h.9v.9h-.9zM181.7 411.2h.9v.9h-.9zM176.5 413.8h.9v.9h-.9zM178.1 421.9h.9v.9h-.9zM173.0 410.1h.9v.9h-.9zM183.5 423.2h.9v.9h-.9zM176.6 420.5h.9v.9h-.9zM173.8 417.9h.9v.9h-.9zM182.5 410.4h.9v.9h-.9zM179.6 418.5h.9v.9h-.9zM173.6 412.0h.9v.9h-.9zM182.1 419.8h.9v.9h-.9zM183.2 411.3h.9v.9h-.9zM185.3 418.4h.9v.9h-.9zM181.2 414.8h.9v.9h-.9zM187.7 415.4h.9v.9h-.9zM171.9 413.1h.9v.9h-.9zM162.2 411.0h.9v.9h-.9zM176.0 412.8h.9v.9h-.9zM174.5 421.5h.9v.9h-.9zM179.9 418.9h.9v.9h-.9zM188.3 411.4h.9v.9h-.9zM171.7 428.3h.9v.9h-.9zM184.3 419.2h.9v.9h-.9zM179.0 423.4h.9v.9h-.9zM176.6 412.4h.9v.9h-.9zM175.2 422.0h.9v.9h-.9zM163.0 410.9h.9v.9h-.9zM181.6 418.3h.9v.9h-.9zM165.4 411.9h.9v.9h-.9zM177.5 421.4h.9v.9h-.9zM179.1 420.7h.9v.9h-.9zM181.3 413.9h.9v.9h-.9zM177.9 416.2h.9v.9h-.9zM174.6 411.6h.9v.9h-.9zM176.0 417.8h.9v.9h-.9zM171.8 414.2h.9v.9h-.9zM174.4 421.0h.9v.9h-.9zM182.2 411.1h.9v.9h-.9zM177.2 418.3h.9v.9h-.9zM188.0 409.1h.9v.9h-.9zM172.6 411.7h.9v.9h-.9zM177.4 410.8h.9v.9h-.9zM189.7 409.8h.9v.9h-.9zM178.5 416.7h.9v.9h-.9zM177.6 417.7h.9v.9h-.9zM174.6 409.4h.9v.9h-.9zM171.6 416.1h.9v.9h-.9zM170.6 417.9h.9v.9h-.9zM167.3 411.2h.9v.9h-.9zM176.0 425.5h.9v.9h-.9zM181.6 430.3h.9v.9h-.9zM174.5 425.0h.9v.9h-.9zM176.2 416.3h.9v.9h-.9zM181.2 424.2h.9v.9h-.9zM181.3 417.6h.9v.9h-.9zM176.9 423.9h.9v.9h-.9zM176.2 417.3h.9v.9h-.9zM181.3 418.1h.9v.9h-.9zM178.8 417.6h.9v.9h-.9zM170.5 411.8h.9v.9h-.9zM184.2 416.9h.9v.9h-.9zM184.3 419.1h.9v.9h-.9zM180.5 429.2h.9v.9h-.9zM185.6 410.6h.9v.9h-.9zM178.0 410.8h.9v.9h-.9zM185.3 410.0h.9v.9h-.9zM176.7 408.2h.9v.9h-.9zM173.8 416.7h.9v.9h-.9zM175.1 415.7h.9v.9h-.9zM173.7 413.6h.9v.9h-.9zM175.3 414.9h.9v.9h-.9zM174.7 424.8h.9v.9h-.9zM162.7 408.0h.9v.9h-.9zM179.1 416.7h.9v.9h-.9zM186.8 413.5h.9v.9h-.9zM171.1 421.1h.9v.9h-.9zM176.4 428.3h.9v.9h-.9zM184.8 411.8h.9v.9h-.9zM180.9 415.4h.9v.9h-.9zM175.5 420.4h.9v.9h-.9zM181.6 422.3h.9v.9h-.9zM172.8 412.2h.9v.9h-.9zM173.6 409.8h.9v.9h-.9zM175.5 424.6h.9v.9h-.9zM173.5 414.2h.9v.9h-.9zM171.8 411.2h.9v.9h-.9zM176.1 421.3h.9v.9h-.9zM186.3 413.0h.9v.9h-.9zM181.2 413.1h.9v.9h-.9zM172.3 419.8h.9v.9h-.9zM188.7 410.4h.9v.9h-.9zM186.8 410.1h.9v.9h-.9zM177.5 413.4h.9v.9h-.9zM173.5 414.8h.9v.9h-.9zM176.5 416.2h.9v.9h-.9zM172.6 412.6h.9v.9h-.9zM175.3 418.7h.9v.9h-.9zM181.3 416.5h.9v.9h-.9zM186.0 413.7h.9v.9h-.9zM183.5 419.0h.9v.9h-.9zM180.9 419.5h.9v.9h-.9zM184.0 410.5h.9v.9h-.9zM182.9 411.8h.9v.9h-.9zM174.2 417.1h.9v.9h-.9zM183.7 414.4h.9v.9h-.9zM181.1 431.4h.9v.9h-.9zM174.2 418.8h.9v.9h-.9zM178.9 416.1h.9v.9h-.9zM177.9 412.6h.9v.9h-.9zM181.6 415.3h.9v.9h-.9zM176.6 422.9h.9v.9h-.9zM175.4 413.9h.9v.9h-.9zM182.4 413.6h.9v.9h-.9zM170.0 417.5h.9v.9h-.9zM176.9 414.9h.9v.9h-.9zM177.0 418.9h.9v.9h-.9zM178.5 419.4h.9v.9h-.9zM182.9 420.4h.9v.9h-.9zM172.6 413.0h.9v.9h-.9zM185.5 414.1h.9v.9h-.9zM182.7 415.8h.9v.9h-.9zM176.8 416.4h.9v.9h-.9zM173.3 409.8h.9v.9h-.9zM181.9 419.0h.9v.9h-.9zM180.7 414.7h.9v.9h-.9zM175.7 415.7h.9v.9h-.9zM173.7 417.1h.9v.9h-.9zM180.1 410.4h.9v.9h-.9zM176.7 410.8h.9v.9h-.9zM184.1 415.0h.9v.9h-.9zM179.8 410.5h.9v.9h-.9zM179.2 413.2h.9v.9h-.9zM174.5 414.0h.9v.9h-.9zM171.3 416.2h.9v.9h-.9zM172.3 411.7h.9v.9h-.9zM179.8 420.0h.9v.9h-.9zM177.5 421.2h.9v.9h-.9zM178.7 412.7h.9v.9h-.9zM176.5 412.9h.9v.9h-.9zM186.0 410.8h.9v.9h-.9zM170.6 418.7h.9v.9h-.9zM183.4 415.7h.9v.9h-.9zM188.9 412.1h.9v.9h-.9zM172.5 409.8h.9v.9h-.9zM177.1 427.1h.9v.9h-.9zM180.8 411.4h.9v.9h-.9zM186.7 410.5h.9v.9h-.9zM181.7 418.6h.9v.9h-.9zM179.4 422.3h.9v.9h-.9zM184.5 418.1h.9v.9h-.9zM176.2 429.1h.9v.9h-.9zM173.4 424.0h.9v.9h-.9zM175.8 412.6h.9v.9h-.9zM177.0 416.3h.9v.9h-.9zM184.2 421.4h.9v.9h-.9zM173.6 413.7h.9v.9h-.9zM179.4 418.2h.9v.9h-.9zM179.2 416.2h.9v.9h-.9zM183.7 418.0h.9v.9h-.9zM178.2 412.1h.9v.9h-.9zM181.1 418.2h.9v.9h-.9zM180.1 414.8h.9v.9h-.9zM175.8 412.1h.9v.9h-.9zM178.0 413.0h.9v.9h-.9zM171.5 414.4h.9v.9h-.9zM178.6 424.9h.9v.9h-.9zM183.1 413.2h.9v.9h-.9zM177.0 410.8h.9v.9h-.9zM172.3 415.1h.9v.9h-.9zM172.9 416.2h.9v.9h-.9zM179.9 411.5h.9v.9h-.9zM177.8 437.8h.9v.9h-.9zM162.0 412.8h.9v.9h-.9zM171.7 413.4h.9v.9h-.9zM185.3 410.7h.9v.9h-.9zM175.5 429.9h.9v.9h-.9zM175.3 420.9h.9v.9h-.9zM178.8 410.4h.9v.9h-.9zM166.0 411.5h.9v.9h-.9zM170.0 411.9h.9v.9h-.9zM176.8 423.4h.9v.9h-.9zM177.6 411.4h.9v.9h-.9zM186.1 418.3h.9v.9h-.9zM172.5 414.1h.9v.9h-.9zM173.9 412.7h.9v.9h-.9zM172.5 421.2h.9v.9h-.9zM169.5 421.0h.9v.9h-.9zM175.2 419.1h.9v.9h-.9zM186.1 409.2h.9v.9h-.9zM180.0 422.4h.9v.9h-.9zM177.4 418.4h.9v.9h-.9zM180.4 419.2h.9v.9h-.9zM177.9 425.0h.9v.9h-.9zM174.6 417.9h.9v.9h-.9zM171.8 412.3h.9v.9h-.9zM170.9 417.2h.9v.9h-.9zM167.2 415.6h.9v.9h-.9zM170.9 414.2h.9v.9h-.9zM180.9 413.3h.9v.9h-.9zM164.6 416.9h.9v.9h-.9zM172.0 417.2h.9v.9h-.9zM174.3 431.9h.9v.9h-.9zM180.1 422.2h.9v.9h-.9zM166.0 414.9h.9v.9h-.9zM178.6 417.8h.9v.9h-.9zM178.9 413.0h.9v.9h-.9zM186.6 411.6h.9v.9h-.9zM174.8 413.3h.9v.9h-.9zM175.3 416.0h.9v.9h-.9zM176.2 420.8h.9v.9h-.9zM189.2 413.2h.9v.9h-.9zM180.6 413.6h.9v.9h-.9zM181.6 415.9h.9v.9h-.9zM173.4 410.9h.9v.9h-.9zM176.5 411.3h.9v.9h-.9zM181.4 421.4h.9v.9h-.9zM180.5 415.0h.9v.9h-.9zM176.0 416.1h.9v.9h-.9zM184.6 426.7h.9v.9h-.9zM180.9 409.9h.9v.9h-.9zM188.7 418.7h.9v.9h-.9zM181.7 423.3h.9v.9h-.9zM178.8 422.1h.9v.9h-.9zM174.1 410.8h.9v.9h-.9zM186.5 412.6h.9v.9h-.9zM173.6 427.4h.9v.9h-.9zM174.5 420.1h.9v.9h-.9zM177.6 412.9h.9v.9h-.9zM170.6 418.0h.9v.9h-.9zM170.8 411.3h.9v.9h-.9zM175.6 421.6h.9v.9h-.9zM181.9 421.8h.9v.9h-.9zM175.4 416.4h.9v.9h-.9zM177.7 421.0h.9v.9h-.9zM181.1 413.7h.9v.9h-.9zM180.6 413.2h.9v.9h-.9zM173.9 410.4h.9v.9h-.9zM175.9 416.3h.9v.9h-.9zM185.5 419.0h.9v.9h-.9zM181.0 422.6h.9v.9h-.9zM184.4 416.8h.9v.9h-.9zM178.4 421.8h.9v.9h-.9zM173.0 413.9h.9v.9h-.9zM186.2 417.0h.9v.9h-.9zM176.7 425.2h.9v.9h-.9zM181.5 411.6h.9v.9h-.9zM180.5 418.2h.9v.9h-.9zM183.2 410.4h.9v.9h-.9zM177.5 417.0h.9v.9h-.9zM175.0 409.6h.9v.9h-.9zM179.1 419.6h.9v.9h-.9zM185.5 410.7h.9v.9h-.9zM172.8 411.4h.9v.9h-.9zM174.4 408.5h.9v.9h-.9zM165.6 412.3h.9v.9h-.9zM173.9 410.1h.9v.9h-.9zM186.9 415.6h.9v.9h-.9zM176.6 422.7h.9v.9h-.9zM169.5 416.7h.9v.9h-.9zM175.0 422.3h.9v.9h-.9zM178.7 418.5h.9v.9h-.9zM184.3 414.5h.9v.9h-.9zM181.4 409.8h.9v.9h-.9zM178.3 411.3h.9v.9h-.9zM172.7 411.2h.9v.9h-.9zM177.0 421.0h.9v.9h-.9zM179.7 415.6h.9v.9h-.9zM165.6 416.3h.9v.9h-.9zM187.5 415.1h.9v.9h-.9zM181.2 412.6h.9v.9h-.9zM177.5 421.2h.9v.9h-.9zM179.4 410.0h.9v.9h-.9zM179.1 410.0h.9v.9h-.9zM181.6 411.5h.9v.9h-.9zM187.8 410.2h.9v.9h-.9zM180.4 412.4h.9v.9h-.9zM173.4 422.2h.9v.9h-.9zM185.1 415.9h.9v.9h-.9zM183.0 414.0h.9v.9h-.9zM180.0 414.8h.9v.9h-.9zM175.2 412.0h.9v.9h-.9zM178.6 420.9h.9v.9h-.9zM170.7 417.4h.9v.9h-.9zM177.1 421.7h.9v.9h-.9zM178.7 412.0h.9v.9h-.9zM170.6 414.7h.9v.9h-.9zM185.1 410.0h.9v.9h-.9zM170.6 430.2h.9v.9h-.9zM179.8 421.3h.9v.9h-.9zM180.9 410.0h.9v.9h-.9zM185.7 413.6h.9v.9h-.9zM173.9 424.5h.9v.9h-.9zM174.1 413.7h.9v.9h-.9zM173.7 415.2h.9v.9h-.9zM183.7 422.4h.9v.9h-.9zM173.8 409.2h.9v.9h-.9zM177.3 425.1h.9v.9h-.9zM180.9 412.7h.9v.9h-.9zM178.2 412.5h.9v.9h-.9zM168.6 416.9h.9v.9h-.9zM179.3 411.5h.9v.9h-.9zM177.7 410.7h.9v.9h-.9zM176.0 420.6h.9v.9h-.9zM186.3 414.1h.9v.9h-.9zM187.3 414.0h.9v.9h-.9zM174.0 422.4h.9v.9h-.9zM178.6 422.2h.9v.9h-.9zM177.6 412.9h.9v.9h-.9zM173.1 412.3h.9v.9h-.9zM172.0 411.4h.9v.9h-.9zM171.0 415.3h.9v.9h-.9zM177.7 413.6h.9v.9h-.9zM179.3 416.0h.9v.9h-.9zM174.8 415.6h.9v.9h-.9zM177.7 416.2h.9v.9h-.9zM185.1 414.1h.9v.9h-.9zM183.7 423.2h.9v.9h-.9zM174.5 412.1h.9v.9h-.9zM176.1 419.1h.9v.9h-.9zM170.9 413.3h.9v.9h-.9zM175.1 413.6h.9v.9h-.9zM179.7 415.3h.9v.9h-.9zM182.7 428.1h.9v.9h-.9zM180.2 417.1h.9v.9h-.9zM177.7 410.4h.9v.9h-.9zM177.6 413.7h.9v.9h-.9zM185.3 414.4h.9v.9h-.9zM184.8 417.0h.9v.9h-.9zM168.3 418.7h.9v.9h-.9zM179.9 416.2h.9v.9h-.9zM178.8 424.0h.9v.9h-.9zM178.8 411.8h.9v.9h-.9zM177.5 411.6h.9v.9h-.9zM174.6 412.5h.9v.9h-.9zM179.6 409.4h.9v.9h-.9zM177.3 411.1h.9v.9h-.9zM180.4 420.9h.9v.9h-.9zM176.7 429.8h.9v.9h-.9zM175.5 416.7h.9v.9h-.9zM180.0 409.6h.9v.9h-.9zM178.4 416.2h.9v.9h-.9zM173.7 418.7h.9v.9h-.9zM178.4 414.1h.9v.9h-.9zM170.2 415.0h.9v.9h-.9zM176.5 415.8h.9v.9h-.9zM175.1 410.4h.9v.9h-.9zM177.0 419.1h.9v.9h-.9zM189.1 417.2h.9v.9h-.9zM173.9 415.4h.9v.9h-.9zM181.4 415.3h.9v.9h-.9zM179.5 423.8h.9v.9h-.9zM179.0 430.3h.9v.9h-.9zM173.4 416.7h.9v.9h-.9zM177.8 412.0h.9v.9h-.9zM169.1 408.1h.9v.9h-.9zM177.6 411.1h.9v.9h-.9zM172.8 418.6h.9v.9h-.9zM181.2 418.4h.9v.9h-.9zM175.1 418.9h.9v.9h-.9zM177.0 420.3h.9v.9h-.9zM183.0 414.5h.9v.9h-.9zM171.4 414.9h.9v.9h-.9zM185.3 416.0h.9v.9h-.9zM177.1 424.5h.9v.9h-.9zM177.9 425.5h.9v.9h-.9zM172.4 415.6h.9v.9h-.9zM184.5 418.9h.9v.9h-.9zM178.9 421.7h.9v.9h-.9zM179.8 416.2h.9v.9h-.9zM180.5 413.2h.9v.9h-.9zM173.0 421.1h.9v.9h-.9zM181.1 411.8h.9v.9h-.9zM174.0 423.4h.9v.9h-.9zM168.3 413.3h.9v.9h-.9zM173.9 418.8h.9v.9h-.9zM182.4 417.8h.9v.9h-.9zM181.5 415.2h.9v.9h-.9zM176.8 410.0h.9v.9h-.9zM177.1 417.3h.9v.9h-.9zM187.0 417.6h.9v.9h-.9zM179.6 421.1h.9v.9h-.9zM182.4 412.7h.9v.9h-.9zM183.2 415.4h.9v.9h-.9zM184.8 411.2h.9v.9h-.9zM171.2 413.2h.9v.9h-.9zM180.7 422.2h.9v.9h-.9zM180.3 426.5h.9v.9h-.9zM175.3 431.8h.9v.9h-.9zM186.5 412.9h.9v.9h-.9zM182.1 415.2h.9v.9h-.9zM177.8 429.0h.9v.9h-.9zM174.0 410.7h.9v.9h-.9zM175.0 426.8h.9v.9h-.9zM174.1 415.6h.9v.9h-.9zM180.7 420.4h.9v.9h-.9zM173.8 421.5h.9v.9h-.9zM171.8 423.1h.9v.9h-.9zM175.1 414.8h.9v.9h-.9zM179.0 410.7h.9v.9h-.9zM182.9 414.8h.9v.9h-.9zM173.8 412.3h.9v.9h-.9zM177.9 422.1h.9v.9h-.9zM159.9 412.0h.9v.9h-.9zM172.1 426.5h.9v.9h-.9zM177.2 415.3h.9v.9h-.9zM177.4 410.5h.9v.9h-.9zM177.4 411.1h.9v.9h-.9zM176.7 426.3h.9v.9h-.9zM173.7 412.3h.9v.9h-.9zM172.5 427.3h.9v.9h-.9zM185.5 410.5h.9v.9h-.9zM182.4 412.4h.9v.9h-.9zM173.0 421.6h.9v.9h-.9zM186.2 422.4h.9v.9h-.9zM174.9 412.2h.9v.9h-.9zM180.8 418.7h.9v.9h-.9zM179.2 413.5h.9v.9h-.9zM169.0 416.3h.9v.9h-.9zM182.6 417.3h.9v.9h-.9zM176.4 413.7h.9v.9h-.9zM185.4 421.9h.9v.9h-.9zM181.0 416.2h.9v.9h-.9zM170.0 420.3h.9v.9h-.9zM177.9 414.2h.9v.9h-.9zM180.5 412.3h.9v.9h-.9zM183.0 427.6h.9v.9h-.9zM187.0 411.2h.9v.9h-.9zM176.3 419.5h.9v.9h-.9zM185.1 412.7h.9v.9h-.9zM179.2 417.4h.9v.9h-.9zM180.6 410.2h.9v.9h-.9zM184.6 416.2h.9v.9h-.9zM184.7 415.6h.9v.9h-.9zM182.9 425.1h.9v.9h-.9zM182.3 420.4h.9v.9h-.9zM179.1 411.7h.9v.9h-.9zM175.4 413.1h.9v.9h-.9zM180.1 409.2h.9v.9h-.9zM183.3 422.5h.9v.9h-.9zM184.3 422.4h.9v.9h-.9zM175.6 430.8h.9v.9h-.9zM186.4 409.9h.9v.9h-.9zM172.4 416.2h.9v.9h-.9zM180.7 413.2h.9v.9h-.9zM171.3 416.6h.9v.9h-.9zM185.7 414.8h.9v.9h-.9zM176.7 413.0h.9v.9h-.9zM181.1 421.5h.9v.9h-.9zM179.2 411.4h.9v.9h-.9zM179.1 409.2h.9v.9h-.9zM180.5 418.1h.9v.9h-.9zM179.2 419.7h.9v.9h-.9zM178.1 421.1h.9v.9h-.9zM176.0 413.6h.9v.9h-.9zM175.3 412.6h.9v.9h-.9zM179.2 420.0h.9v.9h-.9zM176.0 415.1h.9v.9h-.9zM175.3 417.9h.9v.9h-.9zM185.2 411.9h.9v.9h-.9zM175.4 418.2h.9v.9h-.9zM178.6 410.0h.9v.9h-.9zM175.9 419.8h.9v.9h-.9zM180.0 413.5h.9v.9h-.9zM182.4 414.8h.9v.9h-.9zM177.3 417.4h.9v.9h-.9zM179.3 419.0h.9v.9h-.9zM175.0 420.6h.9v.9h-.9zM177.7 409.0h.9v.9h-.9zM182.4 410.9h.9v.9h-.9zM184.1 416.6h.9v.9h-.9zM184.9 415.7h.9v.9h-.9zM181.9 411.1h.9v.9h-.9zM167.8 409.9h.9v.9h-.9zM175.2 422.0h.9v.9h-.9zM182.7 424.0h.9v.9h-.9zM184.1 429.8h.9v.9h-.9zM181.2 410.2h.9v.9h-.9zM177.0 415.7h.9v.9h-.9zM180.5 423.6h.9v.9h-.9zM178.8 413.9h.9v.9h-.9zM175.3 420.9h.9v.9h-.9zM167.3 411.2h.9v.9h-.9zM171.8 411.3h.9v.9h-.9zM170.0 413.0h.9v.9h-.9zM176.1 422.0h.9v.9h-.9zM186.3 410.4h.9v.9h-.9zM173.9 428.7h.9v.9h-.9zM186.1 422.2h.9v.9h-.9zM168.5 417.1h.9v.9h-.9zM167.9 412.2h.9v.9h-.9zM167.6 416.7h.9v.9h-.9zM165.8 419.0h.9v.9h-.9zM187.7 415.9h.9v.9h-.9zM180.2 410.5h.9v.9h-.9zM183.4 415.5h.9v.9h-.9zM186.0 411.6h.9v.9h-.9zM173.0 416.8h.9v.9h-.9zM172.1 411.2h.9v.9h-.9zM175.4 429.6h.9v.9h-.9zM179.7 421.5h.9v.9h-.9zM172.4 415.0h.9v.9h-.9zM176.6 409.7h.9v.9h-.9zM185.5 411.1h.9v.9h-.9zM174.1 421.0h.9v.9h-.9zM183.4 412.0h.9v.9h-.9zM177.2 415.4h.9v.9h-.9zM186.7 413.1h.9v.9h-.9zM178.5 422.5h.9v.9h-.9zM176.3 413.8h.9v.9h-.9zM175.8 411.6h.9v.9h-.9zM179.2 431.6h.9v.9h-.9zM181.3 418.2h.9v.9h-.9zM177.8 412.7h.9v.9h-.9zM181.1 426.0h.9v.9h-.9zM183.4 415.2h.9v.9h-.9zM173.7 413.2h.9v.9h-.9zM166.4 412.5h.9v.9h-.9zM177.3 414.5h.9v.9h-.9zM177.2 425.9h.9v.9h-.9zM173.3 411.9h.9v.9h-.9zM174.2 417.6h.9v.9h-.9zM181.4 419.5h.9v.9h-.9zM173.4 416.4h.9v.9h-.9zM177.5 410.0h.9v.9h-.9zM172.6 415.2h.9v.9h-.9zM165.5 413.1h.9v.9h-.9zM183.1 409.9h.9v.9h-.9zM189.5 413.0h.9v.9h-.9zM171.4 413.2h.9v.9h-.9zM179.3 416.7h.9v.9h-.9zM175.7 408.4h.9v.9h-.9zM181.8 424.3h.9v.9h-.9zM175.0 432.8h.9v.9h-.9zM174.5 422.3h.9v.9h-.9zM176.8 423.0h.9v.9h-.9zM183.5 417.0h.9v.9h-.9zM176.2 415.4h.9v.9h-.9zM176.6 411.6h.9v.9h-.9zM179.8 418.7h.9v.9h-.9zM179.2 417.2h.9v.9h-.9zM179.5 428.8h.9v.9h-.9zM175.1 413.0h.9v.9h-.9zM184.0 411.2h.9v.9h-.9zM177.6 428.7h.9v.9h-.9zM174.7 416.6h.9v.9h-.9zM178.6 415.1h.9v.9h-.9zM184.5 418.3h.9v.9h-.9zM174.5 421.1h.9v.9h-.9zM181.3 422.7h.9v.9h-.9zM176.3 418.6h.9v.9h-.9zM184.5 421.8h.9v.9h-.9zM175.2 426.4h.9v.9h-.9zM176.1 413.7h.9v.9h-.9zM167.3 410.1h.9v.9h-.9zM172.6 413.7h.9v.9h-.9zM174.6 410.7h.9v.9h-.9zM176.7 423.1h.9v.9h-.9zM167.7 413.5h.9v.9h-.9zM174.4 422.7h.9v.9h-.9zM176.4 423.5h.9v.9h-.9zM172.8 415.1h.9v.9h-.9zM179.4 422.7h.9v.9h-.9zM179.7 412.2h.9v.9h-.9zM181.9 419.3h.9v.9h-.9zM175.8 419.4h.9v.9h-.9zM182.9 415.7h.9v.9h-.9zM176.0 423.0h.9v.9h-.9zM167.0 415.3h.9v.9h-.9zM171.4 411.0h.9v.9h-.9zM179.9 413.9h.9v.9h-.9zM169.0 412.5h.9v.9h-.9zM184.5 414.6h.9v.9h-.9zM173.9 415.0h.9v.9h-.9zM185.6 411.8h.9v.9h-.9zM176.4 418.9h.9v.9h-.9zM185.8 419.7h.9v.9h-.9zM178.2 417.1h.9v.9h-.9zM177.5 412.6h.9v.9h-.9zM180.3 411.5h.9v.9h-.9zM179.2 410.2h.9v.9h-.9zM185.8 413.7h.9v.9h-.9zM174.2 414.7h.9v.9h-.9zM173.8 412.4h.9v.9h-.9zM176.7 416.8h.9v.9h-.9zM176.3 410.2h.9v.9h-.9zM183.7 419.0h.9v.9h-.9zM170.6 414.3h.9v.9h-.9zM175.0 419.0h.9v.9h-.9zM163.5 415.2h.9v.9h-.9zM170.9 414.9h.9v.9h-.9zM174.5 417.0h.9v.9h-.9zM178.8 421.6h.9v.9h-.9zM177.0 413.9h.9v.9h-.9zM171.4 415.3h.9v.9h-.9zM176.8 415.4h.9v.9h-.9zM184.6 415.2h.9v.9h-.9zM177.6 414.3h.9v.9h-.9zM178.1 409.9h.9v.9h-.9zM170.2 412.0h.9v.9h-.9zM175.8 413.8h.9v.9h-.9zM164.9 411.8h.9v.9h-.9zM180.5 410.8h.9v.9h-.9zM172.5 418.6h.9v.9h-.9zM180.4 413.7h.9v.9h-.9zM171.3 413.0h.9v.9h-.9zM178.6 429.3h.9v.9h-.9zM175.7 419.7h.9v.9h-.9zM174.6 419.4h.9v.9h-.9zM179.2 409.9h.9v.9h-.9zM188.3 420.7h.9v.9h-.9zM180.8 416.6h.9v.9h-.9zM178.9 423.1h.9v.9h-.9zM178.1 414.3h.9v.9h-.9zM187.1 416.7h.9v.9h-.9zM170.9 410.8h.9v.9h-.9zM176.8 428.3h.9v.9h-.9zM185.9 409.7h.9v.9h-.9zM175.7 416.6h.9v.9h-.9zM189.9 414.4h.9v.9h-.9zM175.2 413.0h.9v.9h-.9zM184.1 412.5h.9v.9h-.9zM176.6 419.9h.9v.9h-.9zM180.8 420.4h.9v.9h-.9zM172.4 419.6h.9v.9h-.9zM174.3 417.3h.9v.9h-.9zM175.2 416.5h.9v.9h-.9zM173.1 411.6h.9v.9h-.9zM181.6 416.0h.9v.9h-.9zM185.0 408.8h.9v.9h-.9zM177.7 414.0h.9v.9h-.9zM187.0 414.4h.9v.9h-.9zM182.3 410.2h.9v.9h-.9zM176.0 412.2h.9v.9h-.9zM171.4 417.4h.9v.9h-.9zM179.6 425.0h.9v.9h-.9zM184.8 424.8h.9v.9h-.9zM175.7 424.1h.9v.9h-.9zM174.9 410.9h.9v.9h-.9zM164.5 410.4h.9v.9h-.9zM182.7 410.1h.9v.9h-.9zM172.9 419.3h.9v.9h-.9zM178.4 417.5h.9v.9h-.9zM180.3 414.2h.9v.9h-.9zM187.9 412.9h.9v.9h-.9zM179.6 412.2h.9v.9h-.9zM183.8 412.3h.9v.9h-.9zM182.5 418.9h.9v.9h-.9zM175.4 430.3h.9v.9h-.9zM183.3 413.3h.9v.9h-.9zM181.1 418.3h.9v.9h-.9zM186.6 414.2h.9v.9h-.9zM186.2 418.1h.9v.9h-.9zM177.9 412.1h.9v.9h-.9zM173.6 421.0h.9v.9h-.9zM179.3 415.0h.9v.9h-.9zM184.0 418.6h.9v.9h-.9zM167.2 417.6h.9v.9h-.9zM185.2 415.7h.9v.9h-.9zM172.6 412.8h.9v.9h-.9zM183.6 413.2h.9v.9h-.9zM173.5 412.8h.9v.9h-.9zM176.6 413.1h.9v.9h-.9zM183.5 410.6h.9v.9h-.9zM178.4 419.5h.9v.9h-.9zM177.6 428.4h.9v.9h-.9zM176.7 411.4h.9v.9h-.9zM178.9 416.2h.9v.9h-.9zM174.2 426.4h.9v.9h-.9zM180.1 413.7h.9v.9h-.9zM174.3 415.9h.9v.9h-.9zM179.5 431.7h.9v.9h-.9zM173.2 418.3h.9v.9h-.9zM184.0 417.7h.9v.9h-.9zM177.4 417.1h.9v.9h-.9zM178.7 412.1h.9v.9h-.9zM188.0 410.3h.9v.9h-.9zM170.2 415.2h.9v.9h-.9zM169.4 414.2h.9v.9h-.9zM177.7 409.0h.9v.9h-.9zM173.9 411.5h.9v.9h-.9zM172.6 413.6h.9v.9h-.9zM172.7 418.3h.9v.9h-.9zM179.9 411.4h.9v.9h-.9zM178.3 411.9h.9v.9h-.9zM162.0 412.7h.9v.9h-.9zM173.1 410.2h.9v.9h-.9zM182.2 409.7h.9v.9h-.9zM182.4 412.8h.9v.9h-.9zM184.7 423.8h.9v.9h-.9zM184.2 420.3h.9v.9h-.9zM178.7 426.6h.9v.9h-.9zM173.9 427.6h.9v.9h-.9zM183.0 410.0h.9v.9h-.9zM181.0 428.6h.9v.9h-.9zM178.8 420.1h.9v.9h-.9zM186.9 416.5h.9v.9h-.9zM174.9 420.3h.9v.9h-.9zM178.2 412.5h.9v.9h-.9zM183.3 412.0h.9v.9h-.9zM174.5 411.5h.9v.9h-.9zM172.7 410.5h.9v.9h-.9zM180.1 418.3h.9v.9h-.9zM170.2 410.9h.9v.9h-.9zM180.6 420.1h.9v.9h-.9zM171.9 412.3h.9v.9h-.9zM179.4 417.3h.9v.9h-.9zM179.2 422.7h.9v.9h-.9zM178.9 416.3h.9v.9h-.9zM177.3 417.8h.9v.9h-.9zM182.2 414.3h.9v.9h-.9zM175.0 413.2h.9v.9h-.9zM180.2 412.1h.9v.9h-.9zM176.8 430.8h.9v.9h-.9zM188.1 411.1h.9v.9h-.9zM183.4 425.6h.9v.9h-.9zM186.5 415.6h.9v.9h-.9zM182.7 416.1h.9v.9h-.9zM179.1 425.5h.9v.9h-.9zM168.1 413.8h.9v.9h-.9zM180.7 414.1h.9v.9h-.9zM174.8 412.7h.9v.9h-.9zM187.6 419.0h.9v.9h-.9zM185.6 415.3h.9v.9h-.9zM177.7 410.3h.9v.9h-.9zM175.4 424.4h.9v.9h-.9zM177.9 409.8h.9v.9h-.9zM182.6 412.1h.9v.9h-.9zM172.6 430.0h.9v.9h-.9zM178.9 424.3h.9v.9h-.9zM171.2 413.7h.9v.9h-.9zM183.5 415.4h.9v.9h-.9zM180.9 412.2h.9v.9h-.9zM184.0 408.4h.9v.9h-.9zM177.0 412.9h.9v.9h-.9zM171.6 415.6h.9v.9h-.9zM175.5 412.3h.9v.9h-.9zM179.3 422.1h.9v.9h-.9zM188.8 427.4h.9v.9h-.9zM182.3 416.0h.9v.9h-.9zM180.9 410.7h.9v.9h-.9zM175.1 410.4h.9v.9h-.9zM177.7 413.4h.9v.9h-.9zM171.1 414.5h.9v.9h-.9zM174.7 412.8h.9v.9h-.9zM181.4 410.4h.9v.9h-.9zM183.6 411.7h.9v.9h-.9zM179.9 425.0h.9v.9h-.9zM184.8 412.6h.9v.9h-.9zM183.0 418.7h.9v.9h-.9zM168.7 419.8h.9v.9h-.9zM176.2 414.5h.9v.9h-.9zM176.3 411.6h.9v.9h-.9zM174.7 417.1h.9v.9h-.9zM175.8 433.1h.9v.9h-.9zM179.2 426.4h.9v.9h-.9zM177.6 421.4h.9v.9h-.9zM167.8 411.6h.9v.9h-.9zM170.6 420.0h.9v.9h-.9zM184.4 411.2h.9v.9h-.9zM184.9 417.3h.9v.9h-.9zM172.5 410.6h.9v.9h-.9zM176.1 417.6h.9v.9h-.9zM168.3 408.9h.9v.9h-.9zM177.0 412.0h.9v.9h-.9zM176.5 423.2h.9v.9h-.9zM186.6 423.2h.9v.9h-.9zM163.5 410.3h.9v.9h-.9zM182.2 419.4h.9v.9h-.9zM178.3 427.8h.9v.9h-.9zM181.7 423.2h.9v.9h-.9zM178.6 409.6h.9v.9h-.9zM179.2 415.7h.9v.9h-.9zM175.9 416.4h.9v.9h-.9zM170.4 409.3h.9v.9h-.9zM176.3 416.6h.9v.9h-.9zM182.5 419.4h.9v.9h-.9zM179.7 423.2h.9v.9h-.9zM175.8 418.6h.9v.9h-.9zM172.5 415.0h.9v.9h-.9zM177.2 420.8h.9v.9h-.9zM177.4 409.5h.9v.9h-.9zM174.4 424.7h.9v.9h-.9zM178.1 417.1h.9v.9h-.9zM175.6 409.5h.9v.9h-.9zM181.8 410.5h.9v.9h-.9zM177.3 409.7h.9v.9h-.9zM173.2 411.3h.9v.9h-.9zM178.0 435.9h.9v.9h-.9zM179.2 430.4h.9v.9h-.9zM177.2 415.3h.9v.9h-.9zM177.7 419.1h.9v.9h-.9zM179.6 413.1h.9v.9h-.9zM176.7 420.9h.9v.9h-.9zM169.8 416.7h.9v.9h-.9zM182.4 416.3h.9v.9h-.9zM177.5 428.5h.9v.9h-.9zM172.0 418.7h.9v.9h-.9zM185.8 419.3h.9v.9h-.9zM174.3 410.5h.9v.9h-.9zM167.5 412.2h.9v.9h-.9zM185.5 410.6h.9v.9h-.9zM176.7 416.4h.9v.9h-.9zM184.1 415.0h.9v.9h-.9zM181.5 417.6h.9v.9h-.9zM177.6 420.0h.9v.9h-.9zM173.5 411.7h.9v.9h-.9zM174.9 414.2h.9v.9h-.9zM176.2 421.7h.9v.9h-.9zM177.6 415.9h.9v.9h-.9zM187.0 415.1h.9v.9h-.9zM186.6 414.8h.9v.9h-.9zM182.4 413.4h.9v.9h-.9zM175.6 409.8h.9v.9h-.9zM180.0 413.2h.9v.9h-.9zM180.9 423.6h.9v.9h-.9zM180.2 416.7h.9v.9h-.9zM173.5 420.5h.9v.9h-.9zM176.5 418.7h.9v.9h-.9zM172.6 412.5h.9v.9h-.9zM185.4 416.3h.9v.9h-.9zM168.0 411.8h.9v.9h-.9zM171.9 411.8h.9v.9h-.9zM181.2 429.8h.9v.9h-.9zM181.5 415.5h.9v.9h-.9zM176.3 415.9h.9v.9h-.9zM177.3 422.1h.9v.9h-.9zM167.7 412.8h.9v.9h-.9zM175.8 413.3h.9v.9h-.9zM177.4 412.4h.9v.9h-.9zM179.6 414.9h.9v.9h-.9zM179.3 413.3h.9v.9h-.9zM178.7 425.9h.9v.9h-.9zM172.0 414.6h.9v.9h-.9zM178.5 412.5h.9v.9h-.9zM183.7 408.6h.9v.9h-.9zM175.8 416.7h.9v.9h-.9zM175.7 413.1h.9v.9h-.9zM179.4 424.4h.9v.9h-.9zM179.8 413.6h.9v.9h-.9zM181.6 417.2h.9v.9h-.9zM180.9 437.2h.9v.9h-.9zM179.7 423.5h.9v.9h-.9zM180.4 409.0h.9v.9h-.9zM169.4 419.1h.9v.9h-.9zM178.5 410.7h.9v.9h-.9zM172.1 423.8h.9v.9h-.9zM179.4 419.5h.9v.9h-.9zM181.6 415.4h.9v.9h-.9zM180.8 415.7h.9v.9h-.9zM174.6 414.6h.9v.9h-.9zM177.9 420.4h.9v.9h-.9zM173.3 417.9h.9v.9h-.9zM178.0 424.0h.9v.9h-.9zM182.1 426.0h.9v.9h-.9zM181.0 423.5h.9v.9h-.9zM185.4 417.0h.9v.9h-.9zM183.1 421.0h.9v.9h-.9zM183.7 426.2h.9v.9h-.9zM176.6 408.6h.9v.9h-.9zM172.2 412.8h.9v.9h-.9zM179.5 417.7h.9v.9h-.9zM176.2 425.5h.9v.9h-.9zM182.0 413.9h.9v.9h-.9zM179.4 416.1h.9v.9h-.9zM187.5 410.5h.9v.9h-.9zM183.4 416.1h.9v.9h-.9zM180.8 423.9h.9v.9h-.9zM168.2 410.4h.9v.9h-.9zM177.6 429.0h.9v.9h-.9zM173.3 418.3h.9v.9h-.9zM180.4 419.8h.9v.9h-.9zM178.3 418.1h.9v.9h-.9zM178.9 418.3h.9v.9h-.9zM186.9 416.2h.9v.9h-.9zM179.2 410.7h.9v.9h-.9zM174.2 409.9h.9v.9h-.9zM184.1 410.5h.9v.9h-.9zM169.4 416.4h.9v.9h-.9zM177.5 414.1h.9v.9h-.9zM184.0 426.2h.9v.9h-.9zM172.6 419.1h.9v.9h-.9zM176.5 419.9h.9v.9h-.9zM177.4 413.0h.9v.9h-.9zM176.0 414.2h.9v.9h-.9zM175.0 418.8h.9v.9h-.9zM170.1 419.6h.9v.9h-.9zM173.9 415.1h.9v.9h-.9zM184.1 414.7h.9v.9h-.9zM169.8 412.9h.9v.9h-.9zM182.9 419.6h.9v.9h-.9zM184.0 415.2h.9v.9h-.9zM174.1 411.7h.9v.9h-.9zM183.7 413.6h.9v.9h-.9zM178.2 419.6h.9v.9h-.9zM186.5 409.3h.9v.9h-.9zM177.5 408.9h.9v.9h-.9zM182.9 421.1h.9v.9h-.9zM170.2 414.2h.9v.9h-.9zM169.9 417.0h.9v.9h-.9zM185.3 410.6h.9v.9h-.9zM180.0 429.3h.9v.9h-.9zM187.2 413.3h.9v.9h-.9zM175.3 416.2h.9v.9h-.9zM181.3 422.4h.9v.9h-.9zM172.9 409.8h.9v.9h-.9zM170.5 411.8h.9v.9h-.9zM180.7 416.1h.9v.9h-.9zM179.8 410.8h.9v.9h-.9zM177.7 416.3h.9v.9h-.9zM182.9 419.3h.9v.9h-.9zM175.4 412.4h.9v.9h-.9zM180.0 414.7h.9v.9h-.9zM181.7 415.3h.9v.9h-.9zM174.8 418.3h.9v.9h-.9zM183.9 416.2h.9v.9h-.9zM182.7 414.0h.9v.9h-.9zM178.2 420.4h.9v.9h-.9zM168.0 409.8h.9v.9h-.9zM179.9 423.5h.9v.9h-.9zM172.8 414.2h.9v.9h-.9zM177.1 422.7h.9v.9h-.9zM179.2 422.8h.9v.9h-.9zM174.5 420.8h.9v.9h-.9zM175.6 419.9h.9v.9h-.9zM186.1 414.5h.9v.9h-.9zM174.5 410.0h.9v.9h-.9zM177.9 417.9h.9v.9h-.9zM166.2 415.6h.9v.9h-.9zM172.8 413.0h.9v.9h-.9zM170.2 414.9h.9v.9h-.9zM182.0 419.5h.9v.9h-.9zM183.3 416.7h.9v.9h-.9zM182.5 415.3h.9v.9h-.9zM177.3 411.4h.9v.9h-.9zM179.8 411.5h.9v.9h-.9zM178.1 410.8h.9v.9h-.9zM187.4 412.5h.9v.9h-.9zM184.7 411.1h.9v.9h-.9zM176.6 413.7h.9v.9h-.9zM180.5 417.7h.9v.9h-.9zM175.1 424.2h.9v.9h-.9zM177.9 426.0h.9v.9h-.9zM177.6 422.0h.9v.9h-.9zM186.6 414.1h.9v.9h-.9zM175.6 411.2h.9v.9h-.9zM170.9 413.1h.9v.9h-.9zM177.0 419.1h.9v.9h-.9zM175.1 419.0h.9v.9h-.9zM178.8 423.6h.9v.9h-.9zM182.0 415.2h.9v.9h-.9zM168.1 409.5h.9v.9h-.9zM179.2 413.2h.9v.9h-.9zM166.1 411.3h.9v.9h-.9zM174.9 414.4h.9v.9h-.9zM181.8 428.2h.9v.9h-.9zM177.1 424.5h.9v.9h-.9zM177.6 414.5h.9v.9h-.9zM167.1 411.0h.9v.9h-.9zM179.8 410.5h.9v.9h-.9zM172.5 417.9h.9v.9h-.9zM174.6 416.4h.9v.9h-.9zM176.3 414.0h.9v.9h-.9zM173.3 429.4h.9v.9h-.9zM176.5 418.8h.9v.9h-.9zM173.9 416.9h.9v.9h-.9zM181.9 413.3h.9v.9h-.9zM188.6 417.4h.9v.9h-.9zM177.9 428.8h.9v.9h-.9zM170.7 414.8h.9v.9h-.9zM168.6 418.9h.9v.9h-.9zM181.9 420.3h.9v.9h-.9zM186.0 415.9h.9v.9h-.9zM180.1 420.0h.9v.9h-.9zM176.1 411.8h.9v.9h-.9zM178.2 411.3h.9v.9h-.9zM176.8 413.9h.9v.9h-.9zM172.3 420.2h.9v.9h-.9zM170.4 419.1h.9v.9h-.9zM172.3 416.8h.9v.9h-.9zM183.5 414.8h.9v.9h-.9zM184.5 414.0h.9v.9h-.9zM175.9 416.9h.9v.9h-.9zM175.3 419.3h.9v.9h-.9zM176.5 414.5h.9v.9h-.9zM185.1 413.5h.9v.9h-.9zM178.6 426.0h.9v.9h-.9zM177.4 424.0h.9v.9h-.9zM176.5 418.4h.9v.9h-.9zM179.8 421.8h.9v.9h-.9zM177.8 412.6h.9v.9h-.9zM170.4 422.3h.9v.9h-.9zM166.0 415.3h.9v.9h-.9zM173.4 425.4h.9v.9h-.9zM176.6 426.5h.9v.9h-.9zM171.9 412.6h.9v.9h-.9zM178.5 414.3h.9v.9h-.9zM167.7 420.7h.9v.9h-.9zM174.9 414.0h.9v.9h-.9zM179.3 419.6h.9v.9h-.9zM173.7 417.1h.9v.9h-.9zM183.9 409.0h.9v.9h-.9zM184.8 409.2h.9v.9h-.9zM183.6 423.9h.9v.9h-.9zM165.3 414.5h.9v.9h-.9zM181.2 420.3h.9v.9h-.9zM178.7 410.7h.9v.9h-.9zM185.5 413.7h.9v.9h-.9zM176.8 428.9h.9v.9h-.9zM175.6 418.8h.9v.9h-.9zM176.5 426.3h.9v.9h-.9zM175.2 416.4h.9v.9h-.9zM179.7 416.1h.9v.9h-.9zM178.3 411.4h.9v.9h-.9zM186.2 413.7h.9v.9h-.9zM172.4 420.4h.9v.9h-.9zM177.8 422.7h.9v.9h-.9zM178.0 421.4h.9v.9h-.9zM178.1 418.7h.9v.9h-.9zM181.6 411.1h.9v.9h-.9zM182.2 411.3h.9v.9h-.9zM172.9 413.4h.9v.9h-.9zM172.3 422.4h.9v.9h-.9zM181.6 419.1h.9v.9h-.9zM177.7 413.9h.9v.9h-.9zM181.6 417.3h.9v.9h-.9zM171.3 409.6h.9v.9h-.9zM173.4 418.6h.9v.9h-.9zM175.1 412.9h.9v.9h-.9zM182.4 413.4h.9v.9h-.9zM175.3 419.5h.9v.9h-.9zM174.0 421.3h.9v.9h-.9zM177.5 412.9h.9v.9h-.9zM178.5 418.8h.9v.9h-.9zM183.9 424.8h.9v.9h-.9zM171.4 410.3h.9v.9h-.9zM187.0 410.0h.9v.9h-.9zM181.2 413.4h.9v.9h-.9zM177.6 415.8h.9v.9h-.9zM179.9 413.7h.9v.9h-.9zM180.2 411.0h.9v.9h-.9zM175.5 414.4h.9v.9h-.9zM176.5 420.4h.9v.9h-.9zM172.2 414.6h.9v.9h-.9zM175.0 426.9h.9v.9h-.9zM186.6 411.2h.9v.9h-.9zM176.0 421.4h.9v.9h-.9zM172.3 411.6h.9v.9h-.9zM184.2 411.3h.9v.9h-.9zM182.3 410.7h.9v.9h-.9zM180.2 419.9h.9v.9h-.9zM179.9 427.1h.9v.9h-.9zM180.4 409.2h.9v.9h-.9zM181.4 422.1h.9v.9h-.9zM187.5 409.8h.9v.9h-.9zM175.3 412.2h.9v.9h-.9zM179.3 418.7h.9v.9h-.9zM177.7 410.4h.9v.9h-.9zM167.6 415.6h.9v.9h-.9zM181.9 412.6h.9v.9h-.9zM183.1 418.7h.9v.9h-.9zM179.5 412.2h.9v.9h-.9zM166.4 409.6h.9v.9h-.9zM184.4 416.2h.9v.9h-.9zM172.6 413.4h.9v.9h-.9zM176.7 411.6h.9v.9h-.9zM177.1 417.7h.9v.9h-.9zM176.1 413.6h.9v.9h-.9zM176.6 427.0h.9v.9h-.9zM181.0 418.4h.9v.9h-.9zM177.4 415.4h.9v.9h-.9zM189.2 418.0h.9v.9h-.9zM165.0 411.7h.9v.9h-.9zM170.4 420.6h.9v.9h-.9zM171.6 414.8h.9v.9h-.9zM183.0 410.3h.9v.9h-.9zM178.3 421.5h.9v.9h-.9zM177.7 415.6h.9v.9h-.9zM179.8 421.9h.9v.9h-.9zM185.2 419.5h.9v.9h-.9zM173.6 412.4h.9v.9h-.9zM174.3 411.4h.9v.9h-.9zM170.8 415.5h.9v.9h-.9zM172.8 418.2h.9v.9h-.9zM172.0 409.7h.9v.9h-.9zM183.2 411.8h.9v.9h-.9zM179.1 408.4h.9v.9h-.9zM170.4 416.2h.9v.9h-.9zM176.3 414.0h.9v.9h-.9zM179.6 417.2h.9v.9h-.9zM175.5 413.4h.9v.9h-.9zM186.6 411.6h.9v.9h-.9zM172.8 419.6h.9v.9h-.9zM169.1 415.0h.9v.9h-.9zM170.3 412.3h.9v.9h-.9zM173.9 415.3h.9v.9h-.9zM177.2 413.9h.9v.9h-.9zM187.7 414.3h.9v.9h-.9zM185.9 416.9h.9v.9h-.9zM180.8 416.3h.9v.9h-.9zM179.0 423.7h.9v.9h-.9zM172.6 416.9h.9v.9h-.9zM178.8 416.9h.9v.9h-.9zM182.7 417.0h.9v.9h-.9zM172.0 410.3h.9v.9h-.9zM178.2 413.7h.9v.9h-.9zM170.2 410.7h.9v.9h-.9zM186.2 411.9h.9v.9h-.9zM182.0 425.3h.9v.9h-.9zM182.2 416.3h.9v.9h-.9zM171.2 410.6h.9v.9h-.9zM178.9 414.2h.9v.9h-.9zM180.2 416.3h.9v.9h-.9zM182.1 413.0h.9v.9h-.9zM174.0 410.6h.9v.9h-.9zM186.4 416.6h.9v.9h-.9zM173.6 413.7h.9v.9h-.9zM179.9 410.2h.9v.9h-.9zM181.0 409.3h.9v.9h-.9zM180.7 419.4h.9v.9h-.9zM183.1 417.7h.9v.9h-.9zM177.9 415.6h.9v.9h-.9zM177.7 419.7h.9v.9h-.9zM180.1 415.8h.9v.9h-.9zM181.2 410.5h.9v.9h-.9zM176.1 419.9h.9v.9h-.9zM176.8 420.4h.9v.9h-.9zM172.5 415.9h.9v.9h-.9zM174.4 410.4h.9v.9h-.9zM174.1 415.0h.9v.9h-.9zM176.5 419.5h.9v.9h-.9zM176.9 430.2h.9v.9h-.9zM171.8 412.2h.9v.9h-.9zM180.8 414.1h.9v.9h-.9zM184.2 414.2h.9v.9h-.9zM181.9 416.2h.9v.9h-.9zM173.9 420.3h.9v.9h-.9zM179.3 415.4h.9v.9h-.9zM174.0 419.7h.9v.9h-.9zM181.0 409.6h.9v.9h-.9zM174.2 431.5h.9v.9h-.9zM178.7 419.8h.9v.9h-.9zM171.2 413.9h.9v.9h-.9zM183.6 411.7h.9v.9h-.9zM182.6 419.5h.9v.9h-.9zM182.1 415.2h.9v.9h-.9zM176.0 416.9h.9v.9h-.9zM170.5 415.9h.9v.9h-.9zM170.4 413.4h.9v.9h-.9zM181.7 412.4h.9v.9h-.9zM173.7 419.8h.9v.9h-.9zM181.2 422.4h.9v.9h-.9zM189.4 411.9h.9v.9h-.9zM176.9 418.7h.9v.9h-.9zM173.3 410.6h.9v.9h-.9zM167.8 414.9h.9v.9h-.9zM189.7 413.9h.9v.9h-.9zM176.6 410.9h.9v.9h-.9zM181.5 413.7h.9v.9h-.9zM176.6 413.9h.9v.9h-.9zM172.5 418.5h.9v.9h-.9zM173.4 426.1h.9v.9h-.9zM189.7 415.0h.9v.9h-.9zM178.1 413.5h.9v.9h-.9zM174.5 414.6h.9v.9h-.9zM181.3 421.9h.9v.9h-.9zM179.5 418.8h.9v.9h-.9zM182.0 415.5h.9v.9h-.9zM166.2 411.5h.9v.9h-.9zM174.1 411.3h.9v.9h-.9zM176.6 417.7h.9v.9h-.9zM166.9 409.7h.9v.9h-.9zM179.0 415.0h.9v.9h-.9zM170.8 417.5h.9v.9h-.9zM183.6 419.4h.9v.9h-.9zM178.4 425.0h.9v.9h-.9zM176.8 410.3h.9v.9h-.9zM175.8 418.0h.9v.9h-.9z" fill="#000"/>
<rect x="159.1" y="362.4" width="77.1" height="76.60000000000002" fill="none" stroke="#000" stroke-width="1.2"/>
<line x1="246.80" y1="439.40" x2="246.80" y2="442.40" stroke="#000" stroke-width="1.0" />
<line x1="243.80" y1="439.40" x2="246.80" y2="439.40" stroke="#000" stroke-width="1.0" />
<line x1="251.51" y1="439.40" x2="251.51" y2="442.00" stroke="#000" stroke-width="1.0" />
<line x1="244.20" y1="434.76" x2="246.80" y2="434.76" stroke="#000" stroke-width="1.0" />
<line x1="254.26" y1="439.40" x2="254.26" y2="442.00" stroke="#000" stroke-width="1.0" />
<line x1="244.20" y1="432.04" x2="246.80" y2="432.04" stroke="#000" stroke-width="1.0" />
<line x1="256.22" y1="439.40" x2="256.22" y2="442.00" stroke="#000" stroke-width="1.0" />
<line x1="244.20" y1="430.12" x2="246.80" y2="430.12" stroke="#000" stroke-width="1.0" />
<line x1="257.73" y1="439.40" x2="257.73" y2="442.00" stroke="#000" stroke-width="1.0" />
<line x1="244.20" y1="428.62" x2="246.80" y2="428.62" stroke="#000" stroke-width="1.0" />
<line x1="258.97" y1="439.40" x2="258.97" y2="442.00" stroke="#000" stroke-width="1.0" />
<line x1="244.20" y1="427.40" x2="246.80" y2="427.40" stroke="#000" stroke-width="1.0" />
<line x1="260.02" y1="439.40" x2="260.02" y2="442.00" stroke="#000" stroke-width="1.0" />
<line x1="244.20" y1="426.37" x2="246.80" y2="426.37" stroke="#000" stroke-width="1.0" />
<line x1="260.92" y1="439.40" x2="260.92" y2="442.00" stroke="#000" stroke-width="1.0" />
<line x1="244.20" y1="425.47" x2="246.80" y2="425.47" stroke="#000" stroke-width="1.0" />
<line x1="261.72" y1="439.40" x2="261.72" y2="442.00" stroke="#000" stroke-width="1.0" />
<line x1="244.20" y1="424.69" x2="246.80" y2="424.69" stroke="#000" stroke-width="1.0" />
<line x1="262.44" y1="439.40" x2="262.44" y2="442.40" stroke="#000" stroke-width="1.0" />
<line x1="243.80" y1="423.98" x2="246.80" y2="423.98" stroke="#000" stroke-width="1.0" />
<line x1="267.15" y1="439.40" x2="267.15" y2="442.00" stroke="#000" stroke-width="1.0" />
<line x1="244.20" y1="419.34" x2="246.80" y2="419.34" stroke="#000" stroke-width="1.0" />
<line x1="269.90" y1="439.40" x2="269.90" y2="442.00" stroke="#000" stroke-width="1.0" />
<line x1="244.20" y1="416.62" x2="246.80" y2="416.62" stroke="#000" stroke-width="1.0" />
<line x1="271.86" y1="439.40" x2="271.86" y2="442.00" stroke="#000" stroke-width="1.0" />
<line x1="244.20" y1="414.70" x2="246.80" y2="414.70" stroke="#000" stroke-width="1.0" />
<line x1="273.37" y1="439.40" x2="273.37" y2="442.00" stroke="#000" stroke-width="1.0" />
<line x1="244.20" y1="413.20" x2="246.80" y2="413.20" stroke="#000" stroke-width="1.0" />
<line x1="274.61" y1="439.40" x2="274.61" y2="442.00" stroke="#000" stroke-width="1.0" />
<line x1="244.20" y1="411.98" x2="246.80" y2="411.98" stroke="#000" stroke-width="1.0" />
<line x1="275.66" y1="439.40" x2="275.66" y2="442.00" stroke="#000" stroke-width="1.0" />
<line x1="244.20" y1="410.95" x2="246.80" y2="410.95" stroke="#000" stroke-width="1.0" />
<line x1="276.56" y1="439.40" x2="276.56" y2="442.00" stroke="#000" stroke-width="1.0" />
<line x1="244.20" y1="410.05" x2="246.80" y2="410.05" stroke="#000" stroke-width="1.0" />
<line x1="277.36" y1="439.40" x2="277.36" y2="442.00" stroke="#000" stroke-width="1.0" />
<line x1="244.20" y1="409.27" x2="246.80" y2="409.27" stroke="#000" stroke-width="1.0" />
<line x1="278.08" y1="439.40" x2="278.08" y2="442.40" stroke="#000" stroke-width="1.0" />
<line x1="243.80" y1="408.56" x2="246.80" y2="408.56" stroke="#000" stroke-width="1.0" />
<line x1="282.79" y1="439.40" x2="282.79" y2="442.00" stroke="#000" stroke-width="1.0" />
<line x1="244.20" y1="403.92" x2="246.80" y2="403.92" stroke="#000" stroke-width="1.0" />
<line x1="285.54" y1="439.40" x2="285.54" y2="442.00" stroke="#000" stroke-width="1.0" />
<line x1="244.20" y1="401.20" x2="246.80" y2="401.20" stroke="#000" stroke-width="1.0" />
<line x1="287.50" y1="439.40" x2="287.50" y2="442.00" stroke="#000" stroke-width="1.0" />
<line x1="244.20" y1="399.28" x2="246.80" y2="399.28" stroke="#000" stroke-width="1.0" />
<line x1="289.01" y1="439.40" x2="289.01" y2="442.00" stroke="#000" stroke-width="1.0" />
<line x1="244.20" y1="397.78" x2="246.80" y2="397.78" stroke="#000" stroke-width="1.0" />
<line x1="290.25" y1="439.40" x2="290.25" y2="442.00" stroke="#000" stroke-width="1.0" />
<line x1="244.20" y1="396.56" x2="246.80" y2="396.56" stroke="#000" stroke-width="1.0" />
<line x1="291.30" y1="439.40" x2="291.30" y2="442.00" stroke="#000" stroke-width="1.0" />
<line x1="244.20" y1="395.53" x2="246.80" y2="395.53" stroke="#000" stroke-width="1.0" />
<line x1="292.20" y1="439.40" x2="292.20" y2="442.00" stroke="#000" stroke-width="1.0" />
<line x1="244.20" y1="394.63" x2="246.80" y2="394.63" stroke="#000" stroke-width="1.0" />
<line x1="293.00" y1="439.40" x2="293.00" y2="442.00" stroke="#000" stroke-width="1.0" />
<line x1="244.20" y1="393.85" x2="246.80" y2="393.85" stroke="#000" stroke-width="1.0" />
<line x1="293.72" y1="439.40" x2="293.72" y2="442.40" stroke="#000" stroke-width="1.0" />
<line x1="243.80" y1="393.14" x2="246.80" y2="393.14" stroke="#000" stroke-width="1.0" />
<line x1="298.43" y1="439.40" x2="298.43" y2="442.00" stroke="#000" stroke-width="1.0" />
<line x1="244.20" y1="388.50" x2="246.80" y2="388.50" stroke="#000" stroke-width="1.0" />
<line x1="301.18" y1="439.40" x2="301.18" y2="442.00" stroke="#000" stroke-width="1.0" />
<line x1="244.20" y1="385.78" x2="246.80" y2="385.78" stroke="#000" stroke-width="1.0" />
<line x1="303.14" y1="439.40" x2="303.14" y2="442.00" stroke="#000" stroke-width="1.0" />
<line x1="244.20" y1="383.86" x2="246.80" y2="383.86" stroke="#000" stroke-width="1.0" />
<line x1="304.65" y1="439.40" x2="304.65" y2="442.00" stroke="#000" stroke-width="1.0" />
<line x1="244.20" y1="382.36" x2="246.80" y2="382.36" stroke="#000" stroke-width="1.0" />
<line x1="305.89" y1="439.40" x2="305.89" y2="442.00" stroke="#000" stroke-width="1.0" />
<line x1="244.20" y1="381.14" x2="246.80" y2="381.14" stroke="#000" stroke-width="1.0" />
<line x1="306.94" y1="439.40" x2="306.94" y2="442.00" stroke="#000" stroke-width="1.0" />
<line x1="244.20" y1="380.11" x2="246.80" y2="380.11" stroke="#000" stroke-width="1.0" />
<line x1="307.84" y1="439.40" x2="307.84" y2="442.00" stroke="#000" stroke-width="1.0" />
<line x1="244.20" y1="379.21" x2="246.80" y2="379.21" stroke="#000" stroke-width="1.0" />
<line x1="308.64" y1="439.40" x2="308.64" y2="442.00" stroke="#000" stroke-width="1.0" />
<line x1="244.20" y1="378.43" x2="246.80" y2="378.43" stroke="#000" stroke-width="1.0" />
<line x1="309.36" y1="439.40" x2="309.36" y2="442.40" stroke="#000" stroke-width="1.0" />
<line x1="243.80" y1="377.72" x2="246.80" y2="377.72" stroke="#000" stroke-width="1.0" />
<line x1="314.07" y1="439.40" x2="314.07" y2="442.00" stroke="#000" stroke-width="1.0" />
<line x1="244.20" y1="373.08" x2="246.80" y2="373.08" stroke="#000" stroke-width="1.0" />
<line x1="316.82" y1="439.40" x2="316.82" y2="442.00" stroke="#000" stroke-width="1.0" />
<line x1="244.20" y1="370.36" x2="246.80" y2="370.36" stroke="#000" stroke-width="1.0" />
<line x1="318.78" y1="439.40" x2="318.78" y2="442.00" stroke="#000" stroke-width="1.0" />
<line x1="244.20" y1="368.44" x2="246.80" y2="368.44" stroke="#000" stroke-width="1.0" />
<line x1="320.29" y1="439.40" x2="320.29" y2="442.00" stroke="#000" stroke-width="1.0" />
<line x1="244.20" y1="366.94" x2="246.80" y2="366.94" stroke="#000" stroke-width="1.0" />
<line x1="321.53" y1="439.40" x2="321.53" y2="442.00" stroke="#000" stroke-width="1.0" />
<line x1="244.20" y1="365.72" x2="246.80" y2="365.72" stroke="#000" stroke-width="1.0" />
<line x1="322.58" y1="439.40" x2="322.58" y2="442.00" stroke="#000" stroke-width="1.0" />
<line x1="244.20" y1="364.69" x2="246.80" y2="364.69" stroke="#000" stroke-width="1.0" />
<line x1="323.48" y1="439.40" x2="323.48" y2="442.00" stroke="#000" stroke-width="1.0" />
<line x1="244.20" y1="363.79" x2="246.80" y2="363.79" stroke="#000" stroke-width="1.0" />
<line x1="324.28" y1="439.40" x2="324.28" y2="442.00" stroke="#000" stroke-width="1.0" />
<line x1="244.20" y1="363.01" x2="246.80" y2="363.01" stroke="#000" stroke-width="1.0" />
<line x1="274.50" y1="362.30" x2="274.50" y2="439.40" stroke="#555" stroke-width="1.0" />
<line x1="246.80" y1="410.00" x2="325.00" y2="410.00" stroke="#555" stroke-width="1.0" />
<path d="M271.6 403.8h.9v.9h-.9zM261.3 398.5h.9v.9h-.9zM266.9 388.5h.9v.9h-.9zM273.9 415.5h.9v.9h-.9zM274.8 420.9h.9v.9h-.9zM257.8 414.7h.9v.9h-.9zM265.5 404.5h.9v.9h-.9zM268.8 405.1h.9v.9h-.9zM253.4 407.3h.9v.9h-.9zM262.6 400.8h.9v.9h-.9zM255.9 411.3h.9v.9h-.9zM259.9 417.0h.9v.9h-.9zM261.5 421.7h.9v.9h-.9zM260.2 405.8h.9v.9h-.9zM275.0 438.5h.9v.9h-.9zM259.7 408.0h.9v.9h-.9zM271.5 396.8h.9v.9h-.9zM257.5 410.6h.9v.9h-.9zM265.7 412.4h.9v.9h-.9zM251.5 415.4h.9v.9h-.9zM263.6 408.0h.9v.9h-.9zM265.4 414.3h.9v.9h-.9zM249.0 433.3h.9v.9h-.9zM262.5 408.5h.9v.9h-.9zM257.5 407.9h.9v.9h-.9zM263.2 422.4h.9v.9h-.9zM262.2 422.0h.9v.9h-.9zM263.3 422.9h.9v.9h-.9zM252.8 403.7h.9v.9h-.9zM261.1 402.4h.9v.9h-.9zM272.9 414.7h.9v.9h-.9zM259.8 419.6h.9v.9h-.9zM251.0 400.9h.9v.9h-.9zM272.2 416.1h.9v.9h-.9zM256.7 389.2h.9v.9h-.9zM262.2 408.1h.9v.9h-.9zM263.5 411.8h.9v.9h-.9zM263.2 398.6h.9v.9h-.9zM280.6 399.4h.9v.9h-.9zM261.9 407.0h.9v.9h-.9zM259.4 407.2h.9v.9h-.9zM258.0 414.9h.9v.9h-.9zM261.1 415.7h.9v.9h-.9zM258.4 410.7h.9v.9h-.9zM262.6 432.8h.9v.9h-.9zM259.0 427.2h.9v.9h-.9zM270.0 399.2h.9v.9h-.9zM270.3 386.7h.9v.9h-.9zM262.2 419.7h.9v.9h-.9zM281.0 411.0h.9v.9h-.9zM267.2 416.4h.9v.9h-.9zM264.6 407.7h.9v.9h-.9zM265.9 405.5h.9v.9h-.9zM262.6 405.8h.9v.9h-.9zM250.9 411.9h.9v.9h-.9zM275.0 416.1h.9v.9h-.9zM268.2 400.4h.9v.9h-.9zM263.4 433.4h.9v.9h-.9zM256.0 416.0h.9v.9h-.9zM264.1 391.8h.9v.9h-.9zM266.5 399.5h.9v.9h-.9zM263.9 412.2h.9v.9h-.9zM259.8 410.9h.9v.9h-.9zM258.7 407.6h.9v.9h-.9zM262.3 409.6h.9v.9h-.9zM259.8 404.1h.9v.9h-.9zM271.6 411.9h.9v.9h-.9zM261.4 415.2h.9v.9h-.9zM260.5 423.3h.9v.9h-.9zM259.4 409.4h.9v.9h-.9zM274.2 400.3h.9v.9h-.9zM274.2 417.9h.9v.9h-.9zM265.3 406.1h.9v.9h-.9zM257.2 416.2h.9v.9h-.9zM270.6 405.9h.9v.9h-.9zM265.1 404.0h.9v.9h-.9zM250.7 400.1h.9v.9h-.9zM258.3 419.9h.9v.9h-.9zM272.3 420.6h.9v.9h-.9zM257.2 416.3h.9v.9h-.9zM258.8 421.5h.9v.9h-.9zM270.1 423.4h.9v.9h-.9zM265.3 418.9h.9v.9h-.9zM260.5 404.0h.9v.9h-.9zM273.2 388.5h.9v.9h-.9zM254.6 400.9h.9v.9h-.9zM272.5 401.9h.9v.9h-.9zM250.0 389.4h.9v.9h-.9zM258.2 413.5h.9v.9h-.9zM275.6 412.9h.9v.9h-.9zM268.4 410.4h.9v.9h-.9zM265.5 426.9h.9v.9h-.9zM265.9 412.7h.9v.9h-.9zM268.4 416.5h.9v.9h-.9zM256.8 414.9h.9v.9h-.9zM256.5 393.3h.9v.9h-.9zM267.3 398.9h.9v.9h-.9zM262.4 390.6h.9v.9h-.9zM261.0 401.6h.9v.9h-.9zM247.9 401.8h.9v.9h-.9zM262.2 423.3h.9v.9h-.9zM273.5 413.1h.9v.9h-.9zM268.9 420.6h.9v.9h-.9zM263.6 417.5h.9v.9h-.9zM267.8 405.1h.9v.9h-.9zM275.4 406.9h.9v.9h-.9zM253.7 404.8h.9v.9h-.9zM252.8 394.3h.9v.9h-.9zM265.9 425.9h.9v.9h-.9zM261.3 419.7h.9v.9h-.9zM265.0 432.7h.9v.9h-.9zM270.3 406.8h.9v.9h-.9zM264.4 418.7h.9v.9h-.9zM259.1 422.8h.9v.9h-.9zM269.7 402.2h.9v.9h-.9zM250.1 413.0h.9v.9h-.9zM265.6 422.4h.9v.9h-.9zM259.1 413.6h.9v.9h-.9zM258.2 426.7h.9v.9h-.9zM256.7 406.3h.9v.9h-.9zM271.9 418.9h.9v.9h-.9zM262.4 412.9h.9v.9h-.9zM275.4 407.6h.9v.9h-.9zM268.9 407.9h.9v.9h-.9zM264.1 388.7h.9v.9h-.9zM260.5 409.7h.9v.9h-.9zM260.7 423.5h.9v.9h-.9zM251.7 417.9h.9v.9h-.9zM264.4 419.8h.9v.9h-.9zM270.5 413.7h.9v.9h-.9zM266.6 417.9h.9v.9h-.9zM278.2 414.7h.9v.9h-.9zM263.4 426.1h.9v.9h-.9zM259.8 410.4h.9v.9h-.9zM262.9 428.9h.9v.9h-.9zM260.3 396.8h.9v.9h-.9zM255.6 423.2h.9v.9h-.9zM257.5 400.8h.9v.9h-.9zM260.8 392.1h.9v.9h-.9zM262.1 399.2h.9v.9h-.9zM265.2 417.9h.9v.9h-.9zM258.9 426.8h.9v.9h-.9zM268.8 415.8h.9v.9h-.9zM268.3 423.9h.9v.9h-.9zM269.4 416.4h.9v.9h-.9zM261.7 389.3h.9v.9h-.9zM269.9 401.3h.9v.9h-.9zM259.3 418.9h.9v.9h-.9zM260.9 408.1h.9v.9h-.9zM258.4 405.0h.9v.9h-.9zM266.5 427.3h.9v.9h-.9zM259.8 414.6h.9v.9h-.9zM270.9 429.0h.9v.9h-.9zM250.7 425.4h.9v.9h-.9zM261.5 411.4h.9v.9h-.9zM255.7 425.6h.9v.9h-.9zM262.2 418.4h.9v.9h-.9zM269.5 412.0h.9v.9h-.9zM257.0 401.1h.9v.9h-.9zM268.1 411.4h.9v.9h-.9zM274.1 415.4h.9v.9h-.9zM256.4 390.6h.9v.9h-.9zM266.1 416.8h.9v.9h-.9zM255.2 413.6h.9v.9h-.9zM265.2 416.8h.9v.9h-.9zM270.7 415.4h.9v.9h-.9zM263.4 414.2h.9v.9h-.9zM273.0 422.5h.9v.9h-.9zM257.2 403.2h.9v.9h-.9zM262.9 408.6h.9v.9h-.9zM266.6 414.2h.9v.9h-.9zM254.2 413.4h.9v.9h-.9zM276.8 421.5h.9v.9h-.9zM264.9 396.6h.9v.9h-.9zM252.6 419.7h.9v.9h-.9zM251.0 412.0h.9v.9h-.9zM255.3 431.9h.9v.9h-.9zM255.8 410.9h.9v.9h-.9zM249.3 401.4h.9v.9h-.9zM254.5 412.1h.9v.9h-.9zM249.5 407.0h.9v.9h-.9zM269.3 434.8h.9v.9h-.9zM254.5 418.7h.9v.9h-.9zM247.8 409.6h.9v.9h-.9zM264.6 418.7h.9v.9h-.9zM260.5 412.2h.9v.9h-.9zM257.9 414.5h.9v.9h-.9zM264.6 422.9h.9v.9h-.9zM271.3 402.0h.9v.9h-.9zM259.7 428.8h.9v.9h-.9zM261.5 412.0h.9v.9h-.9zM249.7 418.9h.9v.9h-.9zM272.2 413.5h.9v.9h-.9zM255.3 420.9h.9v.9h-.9zM265.9 400.3h.9v.9h-.9zM248.2 406.6h.9v.9h-.9zM269.7 400.4h.9v.9h-.9zM258.1 411.1h.9v.9h-.9zM258.1 417.5h.9v.9h-.9zM263.8 394.3h.9v.9h-.9zM269.3 423.9h.9v.9h-.9zM273.6 395.4h.9v.9h-.9zM256.2 420.0h.9v.9h-.9zM253.3 409.6h.9v.9h-.9zM278.4 408.2h.9v.9h-.9zM278.2 429.9h.9v.9h-.9zM257.7 419.1h.9v.9h-.9zM255.1 404.8h.9v.9h-.9zM263.5 416.6h.9v.9h-.9zM249.6 426.0h.9v.9h-.9zM265.2 399.6h.9v.9h-.9zM258.2 415.7h.9v.9h-.9zM266.2 392.7h.9v.9h-.9zM264.5 429.5h.9v.9h-.9zM268.3 404.9h.9v.9h-.9zM263.6 431.7h.9v.9h-.9zM255.9 403.6h.9v.9h-.9zM269.5 412.3h.9v.9h-.9zM260.5 404.6h.9v.9h-.9zM247.5 414.4h.9v.9h-.9zM259.5 417.1h.9v.9h-.9zM256.2 395.7h.9v.9h-.9zM247.6 395.5h.9v.9h-.9zM255.0 422.4h.9v.9h-.9zM259.0 419.8h.9v.9h-.9zM251.3 428.5h.9v.9h-.9zM261.8 404.3h.9v.9h-.9zM254.2 430.1h.9v.9h-.9zM257.9 396.4h.9v.9h-.9zM262.0 412.5h.9v.9h-.9zM267.2 404.1h.9v.9h-.9zM269.4 390.9h.9v.9h-.9zM270.6 396.7h.9v.9h-.9zM259.6 390.0h.9v.9h-.9zM279.8 402.4h.9v.9h-.9zM267.4 404.7h.9v.9h-.9zM265.3 409.5h.9v.9h-.9zM268.9 434.1h.9v.9h-.9zM260.5 415.9h.9v.9h-.9zM272.4 432.1h.9v.9h-.9zM265.2 400.1h.9v.9h-.9zM260.7 409.3h.9v.9h-.9zM268.4 408.2h.9v.9h-.9zM265.1 425.2h.9v.9h-.9zM252.3 413.9h.9v.9h-.9zM260.9 404.5h.9v.9h-.9zM264.1 401.8h.9v.9h-.9zM261.1 392.7h.9v.9h-.9zM264.4 399.9h.9v.9h-.9zM256.1 424.0h.9v.9h-.9zM265.0 405.9h.9v.9h-.9zM259.1 399.0h.9v.9h-.9zM274.6 405.5h.9v.9h-.9zM269.8 406.2h.9v.9h-.9zM255.7 414.2h.9v.9h-.9zM263.9 422.0h.9v.9h-.9zM264.7 428.4h.9v.9h-.9zM249.4 403.8h.9v.9h-.9zM250.4 409.1h.9v.9h-.9zM252.5 409.5h.9v.9h-.9zM258.0 420.7h.9v.9h-.9zM257.0 424.4h.9v.9h-.9zM251.9 417.2h.9v.9h-.9zM257.3 427.0h.9v.9h-.9zM253.9 405.5h.9v.9h-.9zM256.0 414.2h.9v.9h-.9zM265.3 411.5h.9v.9h-.9zM265.4 399.1h.9v.9h-.9zM257.9 420.5h.9v.9h-.9zM269.2 408.4h.9v.9h-.9zM254.2 406.1h.9v.9h-.9zM256.3 399.0h.9v.9h-.9zM258.1 410.9h.9v.9h-.9zM274.2 414.9h.9v.9h-.9zM272.3 412.2h.9v.9h-.9zM260.8 415.4h.9v.9h-.9zM266.1 421.0h.9v.9h-.9zM253.9 397.1h.9v.9h-.9zM259.5 410.7h.9v.9h-.9zM258.0 402.3h.9v.9h-.9zM257.9 407.4h.9v.9h-.9zM256.9 417.4h.9v.9h-.9zM255.2 422.5h.9v.9h-.9zM252.5 396.6h.9v.9h-.9zM257.8 419.4h.9v.9h-.9zM257.9 403.5h.9v.9h-.9zM250.0 412.3h.9v.9h-.9zM258.6 418.8h.9v.9h-.9zM263.8 408.7h.9v.9h-.9zM264.9 419.8h.9v.9h-.9zM264.4 393.9h.9v.9h-.9zM269.6 430.3h.9v.9h-.9zM272.3 395.5h.9v.9h-.9zM267.4 421.3h.9v.9h-.9zM256.7 433.0h.9v.9h-.9zM262.9 397.3h.9v.9h-.9zM255.1 409.7h.9v.9h-.9zM259.7 410.1h.9v.9h-.9zM252.9 415.6h.9v.9h-.9zM254.9 406.0h.9v.9h-.9zM267.3 408.4h.9v.9h-.9zM249.0 413.4h.9v.9h-.9zM261.8 401.7h.9v.9h-.9zM271.4 424.7h.9v.9h-.9zM273.2 427.9h.9v.9h-.9zM279.4 415.0h.9v.9h-.9zM266.0 398.9h.9v.9h-.9zM273.4 398.7h.9v.9h-.9zM258.9 403.8h.9v.9h-.9zM265.6 415.2h.9v.9h-.9zM272.5 422.2h.9v.9h-.9zM256.0 419.7h.9v.9h-.9zM271.7 395.7h.9v.9h-.9zM263.2 411.8h.9v.9h-.9zM270.4 408.5h.9v.9h-.9zM263.7 404.2h.9v.9h-.9zM248.3 406.8h.9v.9h-.9zM259.5 393.8h.9v.9h-.9zM278.0 426.1h.9v.9h-.9zM276.8 419.5h.9v.9h-.9zM251.1 405.3h.9v.9h-.9zM264.6 432.8h.9v.9h-.9zM262.4 402.9h.9v.9h-.9zM270.0 406.7h.9v.9h-.9zM265.9 405.3h.9v.9h-.9zM257.9 417.9h.9v.9h-.9zM266.6 413.4h.9v.9h-.9zM267.9 423.9h.9v.9h-.9zM258.0 412.6h.9v.9h-.9zM272.5 403.5h.9v.9h-.9zM255.2 410.9h.9v.9h-.9zM253.1 418.5h.9v.9h-.9zM269.6 406.3h.9v.9h-.9zM263.9 408.4h.9v.9h-.9zM260.9 406.1h.9v.9h-.9zM261.5 417.0h.9v.9h-.9zM275.2 394.7h.9v.9h-.9zM264.7 398.4h.9v.9h-.9zM269.9 421.4h.9v.9h-.9zM272.9 400.6h.9v.9h-.9zM272.7 406.9h.9v.9h-.9zM275.3 414.6h.9v.9h-.9zM261.5 411.2h.9v.9h-.9zM260.5 412.8h.9v.9h-.9zM273.9 418.9h.9v.9h-.9zM262.7 401.4h.9v.9h-.9zM265.8 420.0h.9v.9h-.9zM263.5 427.2h.9v.9h-.9zM259.3 438.2h.9v.9h-.9zM268.1 412.8h.9v.9h-.9zM255.4 402.8h.9v.9h-.9zM269.3 417.9h.9v.9h-.9zM259.1 433.1h.9v.9h-.9zM262.8 429.1h.9v.9h-.9zM258.0 400.9h.9v.9h-.9zM272.1 416.2h.9v.9h-.9zM266.9 417.6h.9v.9h-.9zM266.7 408.6h.9v.9h-.9zM266.8 410.1h.9v.9h-.9zM264.1 412.6h.9v.9h-.9zM271.6 390.4h.9v.9h-.9zM260.9 422.9h.9v.9h-.9zM255.5 426.3h.9v.9h-.9zM258.8 424.7h.9v.9h-.9zM258.1 404.1h.9v.9h-.9zM270.2 425.1h.9v.9h-.9zM261.6 411.1h.9v.9h-.9zM251.4 402.0h.9v.9h-.9zM267.7 410.8h.9v.9h-.9zM258.2 416.2h.9v.9h-.9zM271.1 402.5h.9v.9h-.9zM270.7 399.5h.9v.9h-.9zM254.9 428.0h.9v.9h-.9zM260.7 426.1h.9v.9h-.9zM251.7 397.1h.9v.9h-.9zM262.4 432.1h.9v.9h-.9zM250.5 407.5h.9v.9h-.9zM270.6 420.3h.9v.9h-.9zM272.0 421.3h.9v.9h-.9zM264.2 400.6h.9v.9h-.9zM251.1 418.8h.9v.9h-.9zM269.1 396.7h.9v.9h-.9zM260.3 415.3h.9v.9h-.9zM259.3 404.3h.9v.9h-.9zM258.5 395.3h.9v.9h-.9zM263.9 408.8h.9v.9h-.9zM254.3 413.2h.9v.9h-.9zM258.4 419.8h.9v.9h-.9zM266.7 400.5h.9v.9h-.9zM258.0 410.1h.9v.9h-.9zM250.7 406.1h.9v.9h-.9zM267.5 419.7h.9v.9h-.9zM260.9 427.1h.9v.9h-.9zM275.8 416.3h.9v.9h-.9zM269.4 404.4h.9v.9h-.9zM253.6 423.9h.9v.9h-.9zM259.8 420.5h.9v.9h-.9zM272.5 403.1h.9v.9h-.9zM252.6 412.1h.9v.9h-.9zM265.9 393.1h.9v.9h-.9zM260.6 422.2h.9v.9h-.9zM259.6 414.2h.9v.9h-.9zM258.3 414.9h.9v.9h-.9zM258.1 402.7h.9v.9h-.9zM259.3 419.5h.9v.9h-.9zM262.0 420.7h.9v.9h-.9zM269.1 403.3h.9v.9h-.9zM254.9 409.0h.9v.9h-.9zM273.0 407.3h.9v.9h-.9zM268.2 427.9h.9v.9h-.9zM261.7 403.7h.9v.9h-.9zM264.2 391.2h.9v.9h-.9zM257.1 408.2h.9v.9h-.9zM255.5 399.2h.9v.9h-.9zM263.7 415.3h.9v.9h-.9zM256.3 427.1h.9v.9h-.9zM275.8 427.0h.9v.9h-.9zM267.5 405.4h.9v.9h-.9zM259.3 392.7h.9v.9h-.9zM268.7 414.9h.9v.9h-.9zM273.8 427.1h.9v.9h-.9zM261.5 403.4h.9v.9h-.9zM256.5 399.9h.9v.9h-.9zM254.0 406.9h.9v.9h-.9zM252.0 405.8h.9v.9h-.9zM258.6 422.4h.9v.9h-.9zM268.2 426.5h.9v.9h-.9zM264.6 404.2h.9v.9h-.9zM254.8 405.7h.9v.9h-.9zM263.3 415.9h.9v.9h-.9zM275.6 416.6h.9v.9h-.9zM266.6 419.3h.9v.9h-.9zM256.4 411.5h.9v.9h-.9zM253.6 405.4h.9v.9h-.9zM264.1 429.8h.9v.9h-.9zM248.7 389.3h.9v.9h-.9zM254.5 429.8h.9v.9h-.9zM254.1 401.1h.9v.9h-.9zM269.1 414.3h.9v.9h-.9zM259.7 413.6h.9v.9h-.9zM274.9 425.0h.9v.9h-.9zM270.3 421.9h.9v.9h-.9zM262.8 426.6h.9v.9h-.9zM256.8 417.9h.9v.9h-.9zM255.4 414.6h.9v.9h-.9zM270.9 407.5h.9v.9h-.9zM271.8 426.1h.9v.9h-.9zM269.2 429.0h.9v.9h-.9zM248.0 409.7h.9v.9h-.9zM266.0 390.7h.9v.9h-.9zM247.8 396.4h.9v.9h-.9zM261.7 400.2h.9v.9h-.9zM250.9 428.9h.9v.9h-.9zM269.4 406.8h.9v.9h-.9zM275.4 402.1h.9v.9h-.9zM259.4 401.7h.9v.9h-.9zM260.9 421.8h.9v.9h-.9zM258.3 399.7h.9v.9h-.9zM262.8 418.7h.9v.9h-.9zM264.0 404.7h.9v.9h-.9zM267.0 425.0h.9v.9h-.9zM270.2 416.1h.9v.9h-.9zM266.9 434.7h.9v.9h-.9zM252.7 407.3h.9v.9h-.9zM260.4 412.5h.9v.9h-.9zM273.4 388.0h.9v.9h-.9zM273.0 412.8h.9v.9h-.9zM265.7 389.3h.9v.9h-.9zM279.8 405.2h.9v.9h-.9zM265.6 407.5h.9v.9h-.9zM251.2 392.6h.9v.9h-.9zM261.4 424.7h.9v.9h-.9zM269.4 420.6h.9v.9h-.9zM275.3 411.0h.9v.9h-.9zM254.8 414.6h.9v.9h-.9zM264.1 424.4h.9v.9h-.9zM259.7 425.5h.9v.9h-.9zM254.2 406.7h.9v.9h-.9zM254.7 405.1h.9v.9h-.9zM252.2 412.2h.9v.9h-.9zM271.9 390.8h.9v.9h-.9zM249.7 401.7h.9v.9h-.9zM260.4 418.8h.9v.9h-.9zM260.2 418.0h.9v.9h-.9zM258.3 405.4h.9v.9h-.9zM271.9 427.1h.9v.9h-.9zM257.7 409.0h.9v.9h-.9zM276.2 411.2h.9v.9h-.9zM266.7 409.5h.9v.9h-.9zM256.0 424.2h.9v.9h-.9zM258.8 406.8h.9v.9h-.9zM260.0 432.5h.9v.9h-.9zM271.4 409.2h.9v.9h-.9zM277.8 401.9h.9v.9h-.9zM266.5 407.5h.9v.9h-.9zM252.6 423.8h.9v.9h-.9zM268.1 391.1h.9v.9h-.9zM271.3 424.4h.9v.9h-.9zM269.2 413.7h.9v.9h-.9zM271.6 416.6h.9v.9h-.9zM270.8 424.5h.9v.9h-.9zM249.0 424.0h.9v.9h-.9zM264.6 415.4h.9v.9h-.9zM252.0 412.0h.9v.9h-.9zM263.1 409.7h.9v.9h-.9zM264.7 420.2h.9v.9h-.9zM247.6 421.0h.9v.9h-.9zM258.8 404.4h.9v.9h-.9zM250.9 425.3h.9v.9h-.9zM258.2 410.0h.9v.9h-.9zM260.8 414.0h.9v.9h-.9zM256.1 414.4h.9v.9h-.9zM259.6 422.4h.9v.9h-.9zM264.3 408.2h.9v.9h-.9zM265.8 415.4h.9v.9h-.9zM253.8 417.6h.9v.9h-.9zM274.4 403.9h.9v.9h-.9zM261.5 418.3h.9v.9h-.9zM267.1 410.0h.9v.9h-.9zM265.9 396.9h.9v.9h-.9zM254.2 421.4h.9v.9h-.9zM270.1 404.3h.9v.9h-.9zM252.9 406.5h.9v.9h-.9zM276.2 415.1h.9v.9h-.9zM276.4 427.7h.9v.9h-.9zM273.0 412.7h.9v.9h-.9zM252.1 397.9h.9v.9h-.9zM266.6 417.8h.9v.9h-.9zM257.4 417.0h.9v.9h-.9zM254.7 410.4h.9v.9h-.9zM275.6 422.3h.9v.9h-.9zM268.1 418.6h.9v.9h-.9zM274.2 427.6h.9v.9h-.9zM251.0 417.4h.9v.9h-.9zM270.7 416.1h.9v.9h-.9zM251.9 424.1h.9v.9h-.9zM257.1 424.7h.9v.9h-.9zM254.3 414.0h.9v.9h-.9zM264.2 413.2h.9v.9h-.9zM258.6 407.8h.9v.9h-.9zM264.6 421.9h.9v.9h-.9zM269.6 414.3h.9v.9h-.9zM260.5 422.4h.9v.9h-.9zM267.7 398.9h.9v.9h-.9zM269.3 412.0h.9v.9h-.9zM275.0 420.7h.9v.9h-.9zM259.8 390.1h.9v.9h-.9zM251.2 427.9h.9v.9h-.9zM273.0 423.2h.9v.9h-.9zM258.1 397.5h.9v.9h-.9zM254.9 403.1h.9v.9h-.9zM253.3 417.8h.9v.9h-.9zM249.2 397.4h.9v.9h-.9zM256.4 425.1h.9v.9h-.9zM258.0 416.7h.9v.9h-.9zM261.7 410.7h.9v.9h-.9zM264.0 409.4h.9v.9h-.9zM268.8 429.3h.9v.9h-.9zM255.4 416.1h.9v.9h-.9zM257.1 403.0h.9v.9h-.9zM268.0 409.1h.9v.9h-.9zM273.5 422.9h.9v.9h-.9zM266.9 391.8h.9v.9h-.9zM251.7 423.0h.9v.9h-.9zM263.7 421.2h.9v.9h-.9zM277.5 403.7h.9v.9h-.9zM272.1 406.9h.9v.9h-.9zM260.0 401.0h.9v.9h-.9zM267.1 422.1h.9v.9h-.9zM278.9 398.4h.9v.9h-.9zM269.4 389.3h.9v.9h-.9zM269.4 420.2h.9v.9h-.9zM271.0 412.9h.9v.9h-.9zM265.0 423.6h.9v.9h-.9zM255.9 396.2h.9v.9h-.9zM276.6 393.1h.9v.9h-.9zM259.3 422.1h.9v.9h-.9zM256.3 416.5h.9v.9h-.9zM270.4 394.3h.9v.9h-.9zM255.7 397.1h.9v.9h-.9zM260.2 421.3h.9v.9h-.9zM262.2 406.7h.9v.9h-.9zM266.7 411.6h.9v.9h-.9zM266.2 408.3h.9v.9h-.9zM271.4 406.7h.9v.9h-.9zM269.6 422.7h.9v.9h-.9zM263.4 429.2h.9v.9h-.9zM250.8 395.6h.9v.9h-.9zM276.8 400.5h.9v.9h-.9zM255.7 394.7h.9v.9h-.9zM273.0 395.2h.9v.9h-.9zM267.5 410.1h.9v.9h-.9zM264.8 428.1h.9v.9h-.9zM253.5 408.5h.9v.9h-.9zM256.2 412.1h.9v.9h-.9zM252.1 420.0h.9v.9h-.9zM262.2 393.2h.9v.9h-.9zM266.7 417.0h.9v.9h-.9zM247.5 414.2h.9v.9h-.9zM262.9 422.1h.9v.9h-.9zM265.3 405.6h.9v.9h-.9zM267.8 399.2h.9v.9h-.9zM271.5 414.2h.9v.9h-.9zM257.8 410.4h.9v.9h-.9zM255.2 421.9h.9v.9h-.9zM248.3 428.7h.9v.9h-.9zM268.3 425.2h.9v.9h-.9zM261.7 389.5h.9v.9h-.9zM275.3 418.3h.9v.9h-.9zM274.5 437.7h.9v.9h-.9zM256.4 434.2h.9v.9h-.9zM256.2 410.0h.9v.9h-.9zM274.9 401.2h.9v.9h-.9zM260.5 399.5h.9v.9h-.9zM263.4 428.9h.9v.9h-.9zM270.1 396.0h.9v.9h-.9zM261.3 407.8h.9v.9h-.9zM255.1 414.3h.9v.9h-.9zM249.7 408.2h.9v.9h-.9zM261.5 411.5h.9v.9h-.9zM259.6 421.2h.9v.9h-.9zM255.9 416.6h.9v.9h-.9zM264.1 420.0h.9v.9h-.9zM252.7 390.1h.9v.9h-.9zM272.7 398.7h.9v.9h-.9zM266.8 408.0h.9v.9h-.9zM256.5 403.7h.9v.9h-.9zM265.4 420.4h.9v.9h-.9zM259.2 406.9h.9v.9h-.9zM275.1 426.1h.9v.9h-.9zM262.8 409.2h.9v.9h-.9zM262.2 412.9h.9v.9h-.9zM268.4 424.9h.9v.9h-.9zM249.2 419.1h.9v.9h-.9zM250.3 401.6h.9v.9h-.9zM280.4 432.5h.9v.9h-.9zM262.9 406.4h.9v.9h-.9zM277.5 413.4h.9v.9h-.9zM263.4 400.4h.9v.9h-.9zM272.8 404.6h.9v.9h-.9zM259.5 411.7h.9v.9h-.9zM253.7 413.1h.9v.9h-.9zM254.8 416.3h.9v.9h-.9zM266.8 402.6h.9v.9h-.9zM267.3 417.2h.9v.9h-.9zM267.3 399.6h.9v.9h-.9zM251.7 431.8h.9v.9h-.9zM270.8 410.8h.9v.9h-.9zM266.8 420.1h.9v.9h-.9zM275.2 427.8h.9v.9h-.9zM260.2 401.7h.9v.9h-.9zM252.2 393.3h.9v.9h-.9zM267.2 411.8h.9v.9h-.9zM250.1 416.4h.9v.9h-.9zM252.2 417.2h.9v.9h-.9zM253.6 415.3h.9v.9h-.9zM254.4 406.7h.9v.9h-.9zM259.5 423.9h.9v.9h-.9zM262.9 405.2h.9v.9h-.9zM255.9 413.5h.9v.9h-.9zM263.0 411.3h.9v.9h-.9zM260.5 403.5h.9v.9h-.9zM261.1 397.9h.9v.9h-.9zM265.3 415.1h.9v.9h-.9zM268.7 414.7h.9v.9h-.9zM270.3 402.3h.9v.9h-.9zM256.1 397.5h.9v.9h-.9zM265.1 401.3h.9v.9h-.9zM258.5 405.2h.9v.9h-.9zM263.0 421.4h.9v.9h-.9zM256.1 417.7h.9v.9h-.9zM260.0 410.0h.9v.9h-.9zM257.3 427.0h.9v.9h-.9zM266.2 391.7h.9v.9h-.9zM251.2 419.1h.9v.9h-.9zM281.1 416.4h.9v.9h-.9zM254.4 393.6h.9v.9h-.9zM268.9 419.7h.9v.9h-.9zM262.3 405.0h.9v.9h-.9zM267.7 410.4h.9v.9h-.9zM269.3 423.5h.9v.9h-.9zM279.8 419.5h.9v.9h-.9zM260.3 401.8h.9v.9h-.9zM269.7 427.3h.9v.9h-.9zM268.9 414.0h.9v.9h-.9zM268.8 417.5h.9v.9h-.9zM278.4 411.0h.9v.9h-.9zM250.4 406.6h.9v.9h-.9zM251.9 396.5h.9v.9h-.9zM269.3 408.3h.9v.9h-.9zM268.1 409.1h.9v.9h-.9zM271.3 423.4h.9v.9h-.9zM278.6 419.1h.9v.9h-.9zM277.2 409.1h.9v.9h-.9zM261.5 426.7h.9v.9h-.9zM270.7 416.3h.9v.9h-.9zM264.5 404.9h.9v.9h-.9zM266.4 421.4h.9v.9h-.9zM257.4 420.7h.9v.9h-.9zM260.5 416.1h.9v.9h-.9zM255.8 401.1h.9v.9h-.9zM256.2 405.1h.9v.9h-.9zM274.0 400.2h.9v.9h-.9zM254.1 408.0h.9v.9h-.9zM267.5 401.7h.9v.9h-.9zM252.4 419.7h.9v.9h-.9zM271.3 416.9h.9v.9h-.9zM278.5 425.4h.9v.9h-.9zM263.1 406.1h.9v.9h-.9zM265.0 429.2h.9v.9h-.9zM253.6 408.7h.9v.9h-.9zM256.9 416.7h.9v.9h-.9zM259.7 414.1h.9v.9h-.9zM267.7 415.6h.9v.9h-.9zM268.2 413.5h.9v.9h-.9zM264.5 422.7h.9v.9h-.9zM257.6 390.7h.9v.9h-.9zM248.6 404.6h.9v.9h-.9zM261.3 410.9h.9v.9h-.9zM259.0 416.7h.9v.9h-.9zM258.8 401.5h.9v.9h-.9zM257.5 414.8h.9v.9h-.9zM268.7 410.2h.9v.9h-.9zM267.2 420.9h.9v.9h-.9zM259.7 419.1h.9v.9h-.9zM259.0 400.0h.9v.9h-.9zM274.3 428.7h.9v.9h-.9zM272.7 410.8h.9v.9h-.9zM262.1 410.7h.9v.9h-.9zM260.5 406.3h.9v.9h-.9zM261.6 416.7h.9v.9h-.9zM265.2 395.4h.9v.9h-.9zM255.6 424.6h.9v.9h-.9zM255.4 412.0h.9v.9h-.9zM261.0 411.7h.9v.9h-.9zM266.7 423.0h.9v.9h-.9zM251.3 401.9h.9v.9h-.9zM263.1 401.4h.9v.9h-.9zM262.1 400.7h.9v.9h-.9zM263.8 397.9h.9v.9h-.9zM266.4 424.6h.9v.9h-.9zM260.3 415.5h.9v.9h-.9zM263.0 404.2h.9v.9h-.9zM264.3 417.6h.9v.9h-.9zM264.4 393.6h.9v.9h-.9zM257.4 424.2h.9v.9h-.9zM255.8 423.0h.9v.9h-.9zM268.8 414.4h.9v.9h-.9zM269.2 409.3h.9v.9h-.9zM258.4 396.1h.9v.9h-.9zM250.4 415.6h.9v.9h-.9zM258.3 397.2h.9v.9h-.9zM263.6 402.1h.9v.9h-.9zM263.2 425.2h.9v.9h-.9zM264.4 398.3h.9v.9h-.9zM271.5 412.5h.9v.9h-.9zM266.1 407.6h.9v.9h-.9zM255.7 407.7h.9v.9h-.9zM248.1 406.7h.9v.9h-.9zM259.5 418.5h.9v.9h-.9zM269.1 413.7h.9v.9h-.9zM263.9 425.3h.9v.9h-.9zM264.5 397.0h.9v.9h-.9zM256.8 407.5h.9v.9h-.9zM248.2 408.0h.9v.9h-.9zM261.2 414.1h.9v.9h-.9zM271.9 409.3h.9v.9h-.9zM273.4 408.5h.9v.9h-.9zM259.1 418.3h.9v.9h-.9zM275.2 403.7h.9v.9h-.9zM260.5 411.0h.9v.9h-.9zM259.2 423.9h.9v.9h-.9zM270.0 419.4h.9v.9h-.9zM256.4 413.5h.9v.9h-.9zM273.1 396.1h.9v.9h-.9zM259.9 420.2h.9v.9h-.9zM262.8 416.6h.9v.9h-.9zM262.8 410.5h.9v.9h-.9zM261.0 411.3h.9v.9h-.9zM260.4 407.4h.9v.9h-.9zM252.5 415.3h.9v.9h-.9zM264.3 417.5h.9v.9h-.9zM258.8 423.2h.9v.9h-.9zM269.2 408.9h.9v.9h-.9zM263.4 410.5h.9v.9h-.9zM257.3 413.4h.9v.9h-.9zM268.5 415.7h.9v.9h-.9zM258.1 396.6h.9v.9h-.9zM258.8 430.8h.9v.9h-.9zM257.2 389.0h.9v.9h-.9zM260.6 407.2h.9v.9h-.9zM270.9 399.8h.9v.9h-.9zM274.0 429.1h.9v.9h-.9zM248.3 412.8h.9v.9h-.9zM267.3 408.3h.9v.9h-.9zM264.8 408.8h.9v.9h-.9zM254.2 402.4h.9v.9h-.9zM264.1 411.9h.9v.9h-.9zM258.6 417.0h.9v.9h-.9zM272.9 408.2h.9v.9h-.9zM270.4 404.9h.9v.9h-.9zM267.6 409.5h.9v.9h-.9zM270.1 390.9h.9v.9h-.9zM261.1 423.7h.9v.9h-.9zM269.6 421.3h.9v.9h-.9zM266.6 404.3h.9v.9h-.9zM266.9 405.6h.9v.9h-.9zM283.6 412.7h.9v.9h-.9zM309.0 433.1h.9v.9h-.9zM275.2 392.9h.9v.9h-.9zM305.1 422.5h.9v.9h-.9zM307.4 383.9h.9v.9h-.9zM312.9 420.2h.9v.9h-.9z" fill="#000" fill-opacity="0.6"/>
<path d="M265.7 396.3h.9v.9h-.9zM266.3 404.5h.9v.9h-.9zM267.9 408.2h.9v.9h-.9zM273.4 405.1h.9v.9h-.9zM266.8 396.1h.9v.9h-.9zM269.2 398.4h.9v.9h-.9zM268.3 399.7h.9v.9h-.9zM271.3 398.3h.9v.9h-.9zM267.9 395.7h.9v.9h-.9zM272.5 404.3h.9v.9h-.9zM264.3 402.6h.9v.9h-.9zM271.8 398.2h.9v.9h-.9zM271.3 406.9h.9v.9h-.9zM272.1 397.7h.9v.9h-.9zM272.6 400.8h.9v.9h-.9zM263.1 406.8h.9v.9h-.9zM270.1 402.1h.9v.9h-.9zM255.3 404.5h.9v.9h-.9zM266.1 407.0h.9v.9h-.9zM265.7 405.5h.9v.9h-.9zM258.0 405.5h.9v.9h-.9zM267.5 399.3h.9v.9h-.9zM272.9 405.9h.9v.9h-.9zM260.0 397.2h.9v.9h-.9zM266.1 407.8h.9v.9h-.9zM268.9 400.7h.9v.9h-.9zM261.2 404.1h.9v.9h-.9zM268.6 408.8h.9v.9h-.9zM272.3 402.1h.9v.9h-.9zM268.0 409.7h.9v.9h-.9zM268.8 395.6h.9v.9h-.9zM253.9 403.3h.9v.9h-.9zM258.2 402.9h.9v.9h-.9zM259.3 405.1h.9v.9h-.9zM268.5 402.7h.9v.9h-.9zM271.4 403.4h.9v.9h-.9zM269.1 399.9h.9v.9h-.9zM272.5 398.3h.9v.9h-.9zM269.9 394.0h.9v.9h-.9zM270.6 411.0h.9v.9h-.9zM260.5 409.9h.9v.9h-.9zM267.8 392.6h.9v.9h-.9zM269.0 399.2h.9v.9h-.9zM256.4 393.1h.9v.9h-.9zM267.1 400.3h.9v.9h-.9zM268.7 393.6h.9v.9h-.9zM266.3 392.6h.9v.9h-.9zM266.3 403.8h.9v.9h-.9zM270.7 393.3h.9v.9h-.9zM258.2 398.9h.9v.9h-.9zM272.7 402.2h.9v.9h-.9zM270.5 402.6h.9v.9h-.9zM272.1 399.8h.9v.9h-.9zM269.8 399.0h.9v.9h-.9zM265.1 409.7h.9v.9h-.9zM270.4 396.3h.9v.9h-.9zM265.6 397.5h.9v.9h-.9zM265.0 399.7h.9v.9h-.9zM265.4 400.3h.9v.9h-.9zM263.6 407.0h.9v.9h-.9zM264.6 408.1h.9v.9h-.9zM261.8 397.4h.9v.9h-.9zM266.8 400.5h.9v.9h-.9zM271.1 403.6h.9v.9h-.9zM258.0 398.9h.9v.9h-.9zM270.6 399.1h.9v.9h-.9zM258.3 403.5h.9v.9h-.9zM271.2 407.2h.9v.9h-.9zM261.2 401.1h.9v.9h-.9zM267.6 403.7h.9v.9h-.9zM268.6 397.4h.9v.9h-.9zM269.0 404.1h.9v.9h-.9zM261.6 403.0h.9v.9h-.9zM266.4 409.0h.9v.9h-.9zM272.8 402.0h.9v.9h-.9zM267.6 400.8h.9v.9h-.9zM254.6 397.6h.9v.9h-.9zM273.2 404.2h.9v.9h-.9zM272.7 405.4h.9v.9h-.9zM268.3 396.0h.9v.9h-.9zM267.9 403.3h.9v.9h-.9zM269.1 401.7h.9v.9h-.9zM268.0 414.6h.9v.9h-.9zM268.5 403.5h.9v.9h-.9zM270.8 400.3h.9v.9h-.9zM262.5 400.9h.9v.9h-.9zM265.4 406.1h.9v.9h-.9zM269.2 411.5h.9v.9h-.9zM260.9 393.0h.9v.9h-.9zM270.0 399.5h.9v.9h-.9zM269.1 410.9h.9v.9h-.9zM272.9 399.9h.9v.9h-.9zM268.3 404.5h.9v.9h-.9zM258.1 404.6h.9v.9h-.9zM261.7 398.2h.9v.9h-.9zM273.4 397.0h.9v.9h-.9zM268.3 397.9h.9v.9h-.9zM264.3 403.2h.9v.9h-.9zM271.6 398.7h.9v.9h-.9zM271.5 398.9h.9v.9h-.9zM268.0 413.1h.9v.9h-.9zM266.4 401.5h.9v.9h-.9zM271.9 401.5h.9v.9h-.9zM268.9 400.8h.9v.9h-.9zM260.8 404.3h.9v.9h-.9zM266.9 410.8h.9v.9h-.9zM269.9 402.1h.9v.9h-.9zM271.9 404.0h.9v.9h-.9zM266.7 403.0h.9v.9h-.9zM273.3 394.8h.9v.9h-.9zM259.0 399.4h.9v.9h-.9zM265.5 414.2h.9v.9h-.9zM265.9 397.1h.9v.9h-.9zM269.2 401.4h.9v.9h-.9zM271.6 405.9h.9v.9h-.9zM270.3 410.1h.9v.9h-.9zM267.8 411.5h.9v.9h-.9zM260.6 396.8h.9v.9h-.9zM260.8 408.3h.9v.9h-.9zM262.7 401.6h.9v.9h-.9zM273.1 411.5h.9v.9h-.9zM263.4 407.5h.9v.9h-.9zM270.2 400.3h.9v.9h-.9zM269.8 411.8h.9v.9h-.9zM262.7 402.9h.9v.9h-.9zM261.8 399.2h.9v.9h-.9zM269.7 408.2h.9v.9h-.9zM260.8 403.5h.9v.9h-.9zM265.4 405.3h.9v.9h-.9zM273.4 410.3h.9v.9h-.9zM273.7 406.2h.9v.9h-.9zM272.0 415.1h.9v.9h-.9zM263.2 411.7h.9v.9h-.9zM273.4 397.1h.9v.9h-.9zM273.0 401.7h.9v.9h-.9zM263.7 398.4h.9v.9h-.9zM266.6 406.9h.9v.9h-.9zM262.1 402.3h.9v.9h-.9zM269.7 415.2h.9v.9h-.9zM271.8 400.3h.9v.9h-.9zM267.0 390.3h.9v.9h-.9zM269.8 411.2h.9v.9h-.9zM263.4 392.1h.9v.9h-.9zM260.2 407.1h.9v.9h-.9zM273.8 413.2h.9v.9h-.9zM270.5 395.6h.9v.9h-.9zM262.2 395.5h.9v.9h-.9zM253.8 401.4h.9v.9h-.9zM262.3 397.5h.9v.9h-.9zM270.1 396.5h.9v.9h-.9zM264.5 402.1h.9v.9h-.9zM272.7 406.7h.9v.9h-.9zM265.3 392.1h.9v.9h-.9zM270.0 393.0h.9v.9h-.9zM263.6 401.5h.9v.9h-.9zM273.5 401.3h.9v.9h-.9zM254.2 407.7h.9v.9h-.9zM271.5 408.7h.9v.9h-.9zM268.6 404.2h.9v.9h-.9zM273.1 400.6h.9v.9h-.9zM269.7 391.4h.9v.9h-.9zM269.8 398.5h.9v.9h-.9zM267.0 399.5h.9v.9h-.9zM255.3 406.7h.9v.9h-.9zM262.4 399.4h.9v.9h-.9zM273.4 402.4h.9v.9h-.9zM273.7 404.9h.9v.9h-.9zM271.3 397.8h.9v.9h-.9zM262.4 399.5h.9v.9h-.9zM269.5 411.1h.9v.9h-.9zM269.9 408.9h.9v.9h-.9zM260.6 407.4h.9v.9h-.9zM271.6 394.0h.9v.9h-.9zM271.3 396.7h.9v.9h-.9zM269.1 406.0h.9v.9h-.9zM273.3 394.0h.9v.9h-.9zM270.1 405.4h.9v.9h-.9zM272.7 402.2h.9v.9h-.9zM265.6 403.9h.9v.9h-.9zM262.8 411.7h.9v.9h-.9zM264.8 409.5h.9v.9h-.9zM272.1 396.8h.9v.9h-.9zM268.1 397.9h.9v.9h-.9zM267.9 401.3h.9v.9h-.9zM267.4 400.5h.9v.9h-.9zM267.9 404.6h.9v.9h-.9zM264.4 391.5h.9v.9h-.9zM272.1 398.4h.9v.9h-.9zM261.2 401.4h.9v.9h-.9zM258.4 401.5h.9v.9h-.9zM265.6 407.2h.9v.9h-.9zM270.9 391.5h.9v.9h-.9zM272.7 400.0h.9v.9h-.9zM267.7 402.7h.9v.9h-.9zM267.7 398.1h.9v.9h-.9zM264.4 404.1h.9v.9h-.9zM259.7 395.1h.9v.9h-.9zM272.7 406.9h.9v.9h-.9zM272.4 404.8h.9v.9h-.9zM263.5 390.7h.9v.9h-.9zM268.7 406.2h.9v.9h-.9zM260.8 395.0h.9v.9h-.9zM273.0 404.2h.9v.9h-.9zM274.0 409.3h.9v.9h-.9zM267.9 402.5h.9v.9h-.9zM262.1 403.6h.9v.9h-.9zM271.7 404.6h.9v.9h-.9zM272.3 404.4h.9v.9h-.9zM271.3 404.0h.9v.9h-.9zM268.9 389.9h.9v.9h-.9zM260.1 405.0h.9v.9h-.9zM267.6 394.5h.9v.9h-.9zM269.4 412.9h.9v.9h-.9zM271.8 402.9h.9v.9h-.9zM268.6 400.8h.9v.9h-.9zM262.5 396.7h.9v.9h-.9zM270.6 402.8h.9v.9h-.9zM271.3 399.2h.9v.9h-.9zM268.0 394.0h.9v.9h-.9zM272.9 409.0h.9v.9h-.9zM270.2 414.2h.9v.9h-.9zM265.6 395.0h.9v.9h-.9zM272.0 400.5h.9v.9h-.9zM263.5 394.9h.9v.9h-.9zM263.4 401.2h.9v.9h-.9zM260.6 402.5h.9v.9h-.9zM267.7 401.0h.9v.9h-.9zM268.5 401.6h.9v.9h-.9zM264.3 402.2h.9v.9h-.9zM265.2 394.8h.9v.9h-.9zM271.6 409.1h.9v.9h-.9zM264.9 397.9h.9v.9h-.9zM264.8 403.8h.9v.9h-.9zM267.8 390.2h.9v.9h-.9zM260.1 400.9h.9v.9h-.9zM272.3 399.2h.9v.9h-.9zM273.6 407.4h.9v.9h-.9zM268.3 407.7h.9v.9h-.9zM273.2 396.1h.9v.9h-.9zM268.4 388.6h.9v.9h-.9zM267.9 409.4h.9v.9h-.9zM266.5 400.5h.9v.9h-.9zM263.6 394.2h.9v.9h-.9zM272.1 405.1h.9v.9h-.9zM271.1 396.0h.9v.9h-.9zM268.7 407.6h.9v.9h-.9zM262.2 396.7h.9v.9h-.9zM270.5 407.3h.9v.9h-.9zM268.7 402.2h.9v.9h-.9zM271.3 405.3h.9v.9h-.9zM269.8 402.5h.9v.9h-.9zM269.3 396.8h.9v.9h-.9zM273.8 411.4h.9v.9h-.9zM273.2 403.2h.9v.9h-.9zM266.9 393.2h.9v.9h-.9zM269.2 398.4h.9v.9h-.9zM272.9 411.5h.9v.9h-.9zM261.4 414.9h.9v.9h-.9zM268.2 395.6h.9v.9h-.9zM267.8 403.6h.9v.9h-.9zM267.4 408.6h.9v.9h-.9zM255.2 409.8h.9v.9h-.9zM274.0 398.1h.9v.9h-.9zM273.9 403.8h.9v.9h-.9zM270.9 401.2h.9v.9h-.9zM272.1 405.6h.9v.9h-.9zM261.6 396.7h.9v.9h-.9zM271.6 404.9h.9v.9h-.9zM263.4 409.6h.9v.9h-.9zM262.5 408.4h.9v.9h-.9zM260.2 399.0h.9v.9h-.9zM272.8 403.6h.9v.9h-.9zM263.6 407.8h.9v.9h-.9zM260.4 401.5h.9v.9h-.9zM272.0 406.8h.9v.9h-.9zM270.3 413.7h.9v.9h-.9zM272.7 398.6h.9v.9h-.9zM273.7 400.3h.9v.9h-.9zM268.0 403.0h.9v.9h-.9zM272.8 392.2h.9v.9h-.9zM271.9 398.2h.9v.9h-.9zM263.0 404.4h.9v.9h-.9zM273.6 401.2h.9v.9h-.9zM265.0 390.8h.9v.9h-.9zM267.8 407.7h.9v.9h-.9zM263.4 390.5h.9v.9h-.9zM268.3 396.0h.9v.9h-.9zM272.9 394.9h.9v.9h-.9zM264.1 403.6h.9v.9h-.9zM267.8 404.9h.9v.9h-.9zM269.5 404.7h.9v.9h-.9zM269.0 411.5h.9v.9h-.9zM267.4 397.5h.9v.9h-.9zM271.7 399.4h.9v.9h-.9zM260.8 401.0h.9v.9h-.9zM272.5 396.0h.9v.9h-.9zM264.0 415.7h.9v.9h-.9zM265.0 396.3h.9v.9h-.9zM271.8 404.5h.9v.9h-.9zM266.6 399.3h.9v.9h-.9zM264.9 396.2h.9v.9h-.9zM273.6 394.0h.9v.9h-.9zM273.9 398.7h.9v.9h-.9zM263.5 401.8h.9v.9h-.9zM269.8 399.7h.9v.9h-.9zM263.5 407.3h.9v.9h-.9zM272.2 392.9h.9v.9h-.9zM273.7 409.2h.9v.9h-.9zM272.7 393.2h.9v.9h-.9zM271.1 400.6h.9v.9h-.9zM273.8 401.0h.9v.9h-.9zM267.0 396.6h.9v.9h-.9zM266.6 404.9h.9v.9h-.9zM266.1 391.2h.9v.9h-.9zM265.5 405.4h.9v.9h-.9zM272.9 399.0h.9v.9h-.9zM259.2 392.8h.9v.9h-.9zM271.0 405.5h.9v.9h-.9zM270.6 405.5h.9v.9h-.9zM263.1 406.7h.9v.9h-.9zM264.6 398.9h.9v.9h-.9zM265.9 400.1h.9v.9h-.9zM273.9 401.9h.9v.9h-.9zM272.5 402.7h.9v.9h-.9zM264.2 410.3h.9v.9h-.9zM268.9 405.4h.9v.9h-.9zM264.4 400.8h.9v.9h-.9zM270.2 402.6h.9v.9h-.9zM270.4 396.3h.9v.9h-.9zM266.4 405.9h.9v.9h-.9zM269.2 403.2h.9v.9h-.9zM265.0 405.6h.9v.9h-.9zM260.6 399.4h.9v.9h-.9zM266.4 407.0h.9v.9h-.9zM260.2 415.3h.9v.9h-.9zM271.1 393.9h.9v.9h-.9zM273.6 408.6h.9v.9h-.9zM266.3 401.0h.9v.9h-.9zM270.8 400.9h.9v.9h-.9zM266.3 406.4h.9v.9h-.9zM273.3 395.9h.9v.9h-.9zM272.7 398.0h.9v.9h-.9zM272.9 401.3h.9v.9h-.9zM272.2 405.6h.9v.9h-.9zM266.2 410.1h.9v.9h-.9zM257.8 403.7h.9v.9h-.9zM257.6 410.3h.9v.9h-.9zM263.5 399.3h.9v.9h-.9zM263.8 389.6h.9v.9h-.9zM259.1 405.9h.9v.9h-.9zM260.4 404.3h.9v.9h-.9zM265.7 393.4h.9v.9h-.9zM272.0 404.1h.9v.9h-.9zM263.2 400.8h.9v.9h-.9zM272.1 398.4h.9v.9h-.9zM254.8 395.2h.9v.9h-.9zM273.7 413.5h.9v.9h-.9zM262.4 399.7h.9v.9h-.9zM266.3 404.4h.9v.9h-.9zM270.0 402.6h.9v.9h-.9zM268.2 404.3h.9v.9h-.9zM266.1 413.8h.9v.9h-.9zM263.4 411.6h.9v.9h-.9zM258.2 396.9h.9v.9h-.9zM264.0 396.1h.9v.9h-.9zM268.3 403.5h.9v.9h-.9zM267.6 399.9h.9v.9h-.9zM272.9 400.4h.9v.9h-.9zM269.2 397.7h.9v.9h-.9zM265.2 405.7h.9v.9h-.9zM261.5 414.2h.9v.9h-.9zM264.6 399.9h.9v.9h-.9zM269.1 400.4h.9v.9h-.9zM271.7 395.1h.9v.9h-.9zM265.2 395.3h.9v.9h-.9zM270.0 401.0h.9v.9h-.9zM271.2 402.6h.9v.9h-.9zM270.9 404.3h.9v.9h-.9zM271.4 402.9h.9v.9h-.9zM269.5 399.2h.9v.9h-.9zM271.7 410.6h.9v.9h-.9zM272.8 401.5h.9v.9h-.9zM271.7 394.0h.9v.9h-.9zM265.7 402.5h.9v.9h-.9zM266.6 402.4h.9v.9h-.9zM266.8 401.2h.9v.9h-.9zM266.7 401.8h.9v.9h-.9zM265.7 392.7h.9v.9h-.9zM271.4 395.1h.9v.9h-.9zM258.6 402.0h.9v.9h-.9zM269.8 405.0h.9v.9h-.9zM264.7 402.6h.9v.9h-.9zM254.9 406.5h.9v.9h-.9zM266.6 399.3h.9v.9h-.9zM270.2 402.1h.9v.9h-.9zM273.8 394.5h.9v.9h-.9zM265.9 413.0h.9v.9h-.9zM269.0 403.1h.9v.9h-.9zM269.9 405.7h.9v.9h-.9zM272.1 396.6h.9v.9h-.9zM272.6 401.5h.9v.9h-.9zM273.5 407.3h.9v.9h-.9zM271.9 399.7h.9v.9h-.9zM266.3 390.5h.9v.9h-.9zM259.7 400.2h.9v.9h-.9zM265.3 404.2h.9v.9h-.9zM273.2 405.1h.9v.9h-.9zM273.4 412.1h.9v.9h-.9zM270.2 400.5h.9v.9h-.9zM273.3 404.2h.9v.9h-.9zM262.0 397.4h.9v.9h-.9zM253.9 404.7h.9v.9h-.9zM268.6 401.4h.9v.9h-.9zM273.9 406.0h.9v.9h-.9zM266.5 396.0h.9v.9h-.9zM260.3 400.8h.9v.9h-.9zM267.2 401.0h.9v.9h-.9zM264.4 388.8h.9v.9h-.9zM265.2 404.2h.9v.9h-.9zM265.5 409.9h.9v.9h-.9zM260.1 406.9h.9v.9h-.9zM264.2 388.3h.9v.9h-.9zM264.6 398.0h.9v.9h-.9zM259.8 400.2h.9v.9h-.9zM272.0 404.5h.9v.9h-.9zM271.4 400.9h.9v.9h-.9zM257.5 395.3h.9v.9h-.9zM263.7 389.2h.9v.9h-.9zM263.7 395.6h.9v.9h-.9zM269.3 399.5h.9v.9h-.9zM262.4 406.9h.9v.9h-.9zM270.1 403.0h.9v.9h-.9zM268.2 400.2h.9v.9h-.9zM272.7 414.6h.9v.9h-.9zM264.2 395.0h.9v.9h-.9zM270.5 395.9h.9v.9h-.9zM265.9 404.0h.9v.9h-.9zM265.3 410.4h.9v.9h-.9zM269.0 398.5h.9v.9h-.9zM272.7 397.8h.9v.9h-.9zM261.9 402.5h.9v.9h-.9zM272.8 396.5h.9v.9h-.9zM261.3 401.7h.9v.9h-.9zM268.2 411.5h.9v.9h-.9zM271.6 399.2h.9v.9h-.9zM266.7 398.5h.9v.9h-.9zM272.8 408.0h.9v.9h-.9zM264.4 400.6h.9v.9h-.9zM273.2 404.1h.9v.9h-.9zM265.3 394.8h.9v.9h-.9zM271.3 396.1h.9v.9h-.9zM273.1 401.1h.9v.9h-.9zM272.9 402.9h.9v.9h-.9zM264.8 399.5h.9v.9h-.9zM272.6 409.5h.9v.9h-.9zM271.8 402.0h.9v.9h-.9zM257.8 399.0h.9v.9h-.9zM263.4 405.8h.9v.9h-.9zM264.1 401.6h.9v.9h-.9zM267.8 394.5h.9v.9h-.9zM262.7 398.6h.9v.9h-.9zM270.6 400.4h.9v.9h-.9zM270.9 397.1h.9v.9h-.9zM261.6 396.8h.9v.9h-.9zM260.9 399.8h.9v.9h-.9zM266.5 406.8h.9v.9h-.9zM273.4 399.9h.9v.9h-.9zM263.9 400.0h.9v.9h-.9zM272.5 396.4h.9v.9h-.9zM263.7 395.7h.9v.9h-.9zM265.1 408.4h.9v.9h-.9zM267.7 398.6h.9v.9h-.9zM264.9 400.8h.9v.9h-.9zM270.6 397.8h.9v.9h-.9zM272.2 408.0h.9v.9h-.9zM271.3 399.1h.9v.9h-.9zM264.6 401.0h.9v.9h-.9zM273.0 395.7h.9v.9h-.9zM266.2 403.0h.9v.9h-.9zM270.9 400.8h.9v.9h-.9zM263.4 401.0h.9v.9h-.9zM272.1 402.4h.9v.9h-.9zM273.8 407.6h.9v.9h-.9zM271.1 398.9h.9v.9h-.9zM267.7 402.5h.9v.9h-.9zM262.8 398.3h.9v.9h-.9zM260.8 400.8h.9v.9h-.9zM271.6 400.2h.9v.9h-.9zM268.9 396.1h.9v.9h-.9zM264.7 411.7h.9v.9h-.9zM272.5 410.9h.9v.9h-.9zM259.1 402.4h.9v.9h-.9zM265.7 404.3h.9v.9h-.9zM266.3 402.1h.9v.9h-.9zM272.5 411.4h.9v.9h-.9zM272.1 400.5h.9v.9h-.9zM272.6 407.1h.9v.9h-.9zM267.2 399.2h.9v.9h-.9zM270.1 405.2h.9v.9h-.9zM269.9 407.9h.9v.9h-.9zM271.5 411.1h.9v.9h-.9zM271.7 400.4h.9v.9h-.9zM270.2 402.5h.9v.9h-.9zM272.4 405.1h.9v.9h-.9zM267.1 404.4h.9v.9h-.9zM265.7 401.1h.9v.9h-.9zM271.4 399.4h.9v.9h-.9zM261.2 393.8h.9v.9h-.9zM270.7 399.7h.9v.9h-.9zM265.3 413.5h.9v.9h-.9zM269.6 392.1h.9v.9h-.9zM263.9 405.5h.9v.9h-.9zM261.1 403.5h.9v.9h-.9zM272.0 396.7h.9v.9h-.9zM261.0 402.2h.9v.9h-.9zM262.9 401.9h.9v.9h-.9zM269.2 406.1h.9v.9h-.9zM270.3 405.3h.9v.9h-.9zM265.6 401.9h.9v.9h-.9zM267.5 403.9h.9v.9h-.9zM258.6 404.3h.9v.9h-.9zM267.2 405.8h.9v.9h-.9zM273.6 392.3h.9v.9h-.9zM265.6 389.7h.9v.9h-.9zM264.6 399.8h.9v.9h-.9zM273.3 402.5h.9v.9h-.9zM266.6 401.0h.9v.9h-.9zM267.4 415.4h.9v.9h-.9zM266.5 402.6h.9v.9h-.9zM271.5 392.9h.9v.9h-.9zM269.7 395.7h.9v.9h-.9zM261.3 408.3h.9v.9h-.9zM273.4 395.0h.9v.9h-.9zM260.6 397.7h.9v.9h-.9zM264.9 402.2h.9v.9h-.9zM261.0 403.0h.9v.9h-.9zM273.3 396.4h.9v.9h-.9zM272.7 396.1h.9v.9h-.9zM270.4 396.6h.9v.9h-.9zM258.7 393.3h.9v.9h-.9zM272.6 396.0h.9v.9h-.9zM268.9 407.3h.9v.9h-.9zM272.3 401.0h.9v.9h-.9zM256.4 398.0h.9v.9h-.9zM258.5 407.1h.9v.9h-.9zM271.8 392.3h.9v.9h-.9zM273.8 395.5h.9v.9h-.9zM262.4 410.2h.9v.9h-.9zM264.8 395.1h.9v.9h-.9zM272.1 409.1h.9v.9h-.9zM266.4 401.5h.9v.9h-.9zM265.2 402.5h.9v.9h-.9zM262.8 400.9h.9v.9h-.9zM256.7 400.0h.9v.9h-.9zM267.9 411.6h.9v.9h-.9zM266.1 407.7h.9v.9h-.9zM261.9 398.1h.9v.9h-.9zM270.2 410.9h.9v.9h-.9zM264.5 409.9h.9v.9h-.9zM262.5 402.4h.9v.9h-.9zM267.5 401.9h.9v.9h-.9zM257.0 402.4h.9v.9h-.9zM262.6 400.6h.9v.9h-.9zM265.8 390.6h.9v.9h-.9zM264.0 408.3h.9v.9h-.9zM270.3 396.9h.9v.9h-.9zM267.3 404.9h.9v.9h-.9zM269.5 407.3h.9v.9h-.9zM272.4 400.2h.9v.9h-.9zM259.9 401.3h.9v.9h-.9zM263.3 398.8h.9v.9h-.9zM269.8 412.0h.9v.9h-.9zM268.5 397.7h.9v.9h-.9zM268.4 402.0h.9v.9h-.9zM268.5 396.7h.9v.9h-.9zM270.7 398.9h.9v.9h-.9zM266.5 402.1h.9v.9h-.9zM269.4 400.2h.9v.9h-.9zM267.1 400.6h.9v.9h-.9zM273.0 412.1h.9v.9h-.9zM265.6 409.8h.9v.9h-.9zM274.0 396.0h.9v.9h-.9zM258.9 404.4h.9v.9h-.9zM264.0 399.4h.9v.9h-.9zM270.0 394.8h.9v.9h-.9zM273.1 401.5h.9v.9h-.9zM263.1 400.3h.9v.9h-.9zM259.4 409.4h.9v.9h-.9zM265.5 396.9h.9v.9h-.9zM262.8 402.5h.9v.9h-.9zM265.1 406.2h.9v.9h-.9zM271.9 399.1h.9v.9h-.9zM270.1 397.6h.9v.9h-.9zM274.0 403.7h.9v.9h-.9zM269.0 405.0h.9v.9h-.9zM255.3 399.3h.9v.9h-.9zM270.9 406.5h.9v.9h-.9zM266.0 408.3h.9v.9h-.9zM266.8 409.3h.9v.9h-.9zM272.6 403.5h.9v.9h-.9zM262.7 397.2h.9v.9h-.9zM272.3 403.5h.9v.9h-.9zM272.6 400.0h.9v.9h-.9zM263.1 397.7h.9v.9h-.9zM269.6 407.4h.9v.9h-.9zM270.8 402.9h.9v.9h-.9zM264.2 412.2h.9v.9h-.9zM262.7 396.4h.9v.9h-.9zM267.1 395.8h.9v.9h-.9zM262.3 401.4h.9v.9h-.9zM265.9 402.1h.9v.9h-.9zM270.5 397.5h.9v.9h-.9zM264.0 407.2h.9v.9h-.9zM266.8 400.7h.9v.9h-.9zM266.6 404.6h.9v.9h-.9zM272.1 407.6h.9v.9h-.9zM272.7 398.1h.9v.9h-.9zM267.5 402.7h.9v.9h-.9zM261.8 397.0h.9v.9h-.9zM267.1 406.8h.9v.9h-.9zM269.6 410.3h.9v.9h-.9zM271.5 398.1h.9v.9h-.9zM273.2 407.2h.9v.9h-.9zM266.0 413.5h.9v.9h-.9zM264.0 394.2h.9v.9h-.9zM267.0 406.2h.9v.9h-.9zM271.3 408.6h.9v.9h-.9zM270.7 401.2h.9v.9h-.9zM269.8 404.5h.9v.9h-.9zM270.2 397.7h.9v.9h-.9zM271.4 402.2h.9v.9h-.9zM270.5 395.1h.9v.9h-.9zM270.0 392.6h.9v.9h-.9zM273.8 397.2h.9v.9h-.9zM273.9 410.4h.9v.9h-.9zM256.1 406.4h.9v.9h-.9zM272.3 394.9h.9v.9h-.9zM271.9 403.9h.9v.9h-.9zM261.0 398.4h.9v.9h-.9zM271.3 403.9h.9v.9h-.9zM270.5 395.6h.9v.9h-.9zM271.9 395.8h.9v.9h-.9zM257.9 400.6h.9v.9h-.9zM269.7 408.9h.9v.9h-.9zM266.5 398.5h.9v.9h-.9zM268.8 393.2h.9v.9h-.9zM271.4 397.7h.9v.9h-.9zM264.0 401.8h.9v.9h-.9zM272.8 401.4h.9v.9h-.9zM270.7 395.8h.9v.9h-.9zM265.5 412.2h.9v.9h-.9zM261.7 398.5h.9v.9h-.9zM273.3 393.4h.9v.9h-.9zM271.7 400.9h.9v.9h-.9zM271.6 405.2h.9v.9h-.9zM270.3 398.7h.9v.9h-.9zM269.7 402.6h.9v.9h-.9zM269.4 408.9h.9v.9h-.9zM265.4 403.9h.9v.9h-.9zM264.2 402.6h.9v.9h-.9zM273.9 404.7h.9v.9h-.9zM269.7 403.2h.9v.9h-.9zM270.1 404.2h.9v.9h-.9zM269.3 402.8h.9v.9h-.9zM272.6 404.1h.9v.9h-.9zM270.7 401.4h.9v.9h-.9zM266.1 393.6h.9v.9h-.9zM257.2 403.4h.9v.9h-.9zM266.3 409.9h.9v.9h-.9zM259.8 394.7h.9v.9h-.9zM269.0 396.6h.9v.9h-.9zM258.5 401.1h.9v.9h-.9zM269.5 405.3h.9v.9h-.9zM268.7 402.8h.9v.9h-.9zM262.3 413.0h.9v.9h-.9zM271.3 407.4h.9v.9h-.9zM261.9 400.5h.9v.9h-.9zM270.5 403.2h.9v.9h-.9zM269.6 405.9h.9v.9h-.9zM266.1 399.9h.9v.9h-.9zM267.7 401.2h.9v.9h-.9zM257.6 405.9h.9v.9h-.9zM261.4 407.0h.9v.9h-.9zM268.6 399.1h.9v.9h-.9zM269.7 396.3h.9v.9h-.9zM263.8 401.2h.9v.9h-.9zM256.7 397.0h.9v.9h-.9zM265.3 408.7h.9v.9h-.9zM272.4 393.0h.9v.9h-.9zM261.9 403.4h.9v.9h-.9zM273.6 397.9h.9v.9h-.9zM271.5 403.3h.9v.9h-.9zM270.4 401.2h.9v.9h-.9zM269.2 396.8h.9v.9h-.9zM261.0 401.7h.9v.9h-.9zM269.4 403.7h.9v.9h-.9zM264.2 405.8h.9v.9h-.9zM263.1 392.0h.9v.9h-.9zM273.2 403.2h.9v.9h-.9zM267.8 393.9h.9v.9h-.9zM265.3 393.1h.9v.9h-.9zM269.7 394.0h.9v.9h-.9zM272.2 399.1h.9v.9h-.9zM262.8 398.9h.9v.9h-.9zM270.0 404.1h.9v.9h-.9zM269.7 397.9h.9v.9h-.9zM268.0 400.1h.9v.9h-.9zM264.6 402.6h.9v.9h-.9zM267.7 400.1h.9v.9h-.9zM264.0 395.8h.9v.9h-.9zM256.5 395.7h.9v.9h-.9zM264.1 395.1h.9v.9h-.9zM271.7 401.5h.9v.9h-.9zM271.9 410.8h.9v.9h-.9zM265.5 408.0h.9v.9h-.9zM269.5 407.0h.9v.9h-.9zM267.2 391.3h.9v.9h-.9zM273.9 395.3h.9v.9h-.9zM264.2 398.2h.9v.9h-.9zM258.8 408.4h.9v.9h-.9zM270.2 402.9h.9v.9h-.9zM271.1 398.6h.9v.9h-.9zM273.7 392.6h.9v.9h-.9zM265.1 413.7h.9v.9h-.9zM262.3 401.9h.9v.9h-.9zM259.7 400.8h.9v.9h-.9zM259.3 403.9h.9v.9h-.9zM262.6 398.4h.9v.9h-.9zM267.3 405.0h.9v.9h-.9zM271.8 396.3h.9v.9h-.9zM269.6 407.9h.9v.9h-.9zM268.3 407.4h.9v.9h-.9zM263.5 407.8h.9v.9h-.9zM269.7 416.1h.9v.9h-.9zM265.2 407.5h.9v.9h-.9zM270.7 398.8h.9v.9h-.9zM267.0 396.4h.9v.9h-.9zM270.2 399.4h.9v.9h-.9zM258.9 403.7h.9v.9h-.9zM269.6 398.9h.9v.9h-.9zM265.7 413.0h.9v.9h-.9zM265.4 404.3h.9v.9h-.9zM265.5 401.5h.9v.9h-.9zM270.2 402.0h.9v.9h-.9zM269.2 396.3h.9v.9h-.9zM271.7 408.6h.9v.9h-.9zM270.9 402.8h.9v.9h-.9zM267.6 392.8h.9v.9h-.9zM271.7 407.1h.9v.9h-.9zM267.8 404.5h.9v.9h-.9zM260.7 400.6h.9v.9h-.9zM258.5 401.6h.9v.9h-.9zM263.6 401.9h.9v.9h-.9zM269.9 402.9h.9v.9h-.9zM272.0 399.1h.9v.9h-.9zM271.8 400.8h.9v.9h-.9zM265.5 406.4h.9v.9h-.9zM270.7 400.2h.9v.9h-.9zM270.1 407.1h.9v.9h-.9zM272.9 391.2h.9v.9h-.9zM272.3 398.3h.9v.9h-.9zM256.7 405.3h.9v.9h-.9zM270.6 407.1h.9v.9h-.9zM261.9 403.5h.9v.9h-.9zM264.5 403.8h.9v.9h-.9zM272.1 399.7h.9v.9h-.9zM268.3 398.9h.9v.9h-.9zM273.6 392.2h.9v.9h-.9zM270.0 403.8h.9v.9h-.9zM272.9 392.4h.9v.9h-.9zM261.8 398.0h.9v.9h-.9zM268.3 400.5h.9v.9h-.9zM268.6 391.6h.9v.9h-.9zM266.2 416.3h.9v.9h-.9zM263.6 394.8h.9v.9h-.9zM267.9 407.0h.9v.9h-.9zM261.7 396.2h.9v.9h-.9zM259.2 408.7h.9v.9h-.9zM272.0 409.4h.9v.9h-.9zM271.0 405.0h.9v.9h-.9zM273.4 403.9h.9v.9h-.9zM263.9 398.3h.9v.9h-.9zM262.7 408.8h.9v.9h-.9zM262.4 399.3h.9v.9h-.9zM267.8 404.8h.9v.9h-.9zM269.3 402.5h.9v.9h-.9zM271.5 399.3h.9v.9h-.9zM267.6 398.6h.9v.9h-.9zM266.4 390.9h.9v.9h-.9zM266.1 400.7h.9v.9h-.9zM260.5 401.2h.9v.9h-.9zM272.8 407.4h.9v.9h-.9zM258.7 400.2h.9v.9h-.9zM260.3 409.6h.9v.9h-.9zM268.9 394.7h.9v.9h-.9zM267.5 405.4h.9v.9h-.9zM263.5 407.5h.9v.9h-.9zM262.2 405.5h.9v.9h-.9zM271.6 400.1h.9v.9h-.9zM255.1 403.7h.9v.9h-.9zM268.9 412.7h.9v.9h-.9zM269.3 404.5h.9v.9h-.9zM265.6 402.5h.9v.9h-.9zM271.8 400.8h.9v.9h-.9zM267.4 402.4h.9v.9h-.9zM264.2 395.0h.9v.9h-.9zM273.7 408.3h.9v.9h-.9zM263.1 406.9h.9v.9h-.9zM272.4 407.7h.9v.9h-.9zM268.1 401.9h.9v.9h-.9zM262.0 406.4h.9v.9h-.9zM271.3 401.9h.9v.9h-.9zM267.9 408.5h.9v.9h-.9zM273.1 408.1h.9v.9h-.9zM266.9 399.8h.9v.9h-.9zM267.3 413.5h.9v.9h-.9zM258.0 407.4h.9v.9h-.9zM265.6 406.4h.9v.9h-.9zM266.1 400.2h.9v.9h-.9zM262.3 392.9h.9v.9h-.9zM272.8 404.0h.9v.9h-.9zM268.9 414.1h.9v.9h-.9zM263.1 396.0h.9v.9h-.9zM268.6 405.5h.9v.9h-.9zM270.2 394.5h.9v.9h-.9zM270.0 400.1h.9v.9h-.9zM267.2 409.9h.9v.9h-.9zM266.5 398.2h.9v.9h-.9zM273.1 399.1h.9v.9h-.9zM269.4 397.7h.9v.9h-.9zM271.7 397.1h.9v.9h-.9zM271.6 406.5h.9v.9h-.9zM271.9 392.3h.9v.9h-.9zM266.9 398.7h.9v.9h-.9zM260.7 406.5h.9v.9h-.9zM273.5 411.9h.9v.9h-.9zM265.4 402.5h.9v.9h-.9zM268.4 402.9h.9v.9h-.9zM273.9 395.1h.9v.9h-.9zM263.3 394.4h.9v.9h-.9zM265.9 402.1h.9v.9h-.9zM271.4 401.6h.9v.9h-.9zM270.9 399.4h.9v.9h-.9zM268.4 399.6h.9v.9h-.9zM267.4 406.7h.9v.9h-.9zM272.8 405.7h.9v.9h-.9zM268.4 394.5h.9v.9h-.9zM255.2 410.1h.9v.9h-.9zM269.5 404.7h.9v.9h-.9zM272.5 407.8h.9v.9h-.9zM256.7 402.8h.9v.9h-.9zM265.6 406.8h.9v.9h-.9zM269.6 398.6h.9v.9h-.9zM268.7 407.3h.9v.9h-.9zM263.5 395.0h.9v.9h-.9zM271.0 402.3h.9v.9h-.9zM264.8 410.9h.9v.9h-.9zM266.7 404.5h.9v.9h-.9zM272.5 400.6h.9v.9h-.9zM266.7 394.4h.9v.9h-.9zM267.7 406.2h.9v.9h-.9zM270.1 398.2h.9v.9h-.9zM266.8 400.9h.9v.9h-.9zM266.5 400.0h.9v.9h-.9zM263.9 413.7h.9v.9h-.9zM269.4 408.0h.9v.9h-.9zM263.3 411.3h.9v.9h-.9zM265.9 408.9h.9v.9h-.9zM269.6 408.9h.9v.9h-.9zM260.8 413.4h.9v.9h-.9zM267.3 399.7h.9v.9h-.9zM256.4 397.5h.9v.9h-.9zM268.8 391.2h.9v.9h-.9zM263.8 398.5h.9v.9h-.9zM264.4 411.0h.9v.9h-.9zM266.6 395.1h.9v.9h-.9zM269.5 411.9h.9v.9h-.9zM267.1 401.1h.9v.9h-.9zM260.3 401.5h.9v.9h-.9zM267.4 391.3h.9v.9h-.9zM271.4 396.2h.9v.9h-.9zM257.3 398.3h.9v.9h-.9zM269.9 396.2h.9v.9h-.9zM271.6 402.0h.9v.9h-.9zM262.4 394.5h.9v.9h-.9zM266.6 398.1h.9v.9h-.9zM273.5 400.8h.9v.9h-.9zM269.1 404.8h.9v.9h-.9zM268.2 398.4h.9v.9h-.9zM260.6 393.8h.9v.9h-.9zM270.7 403.6h.9v.9h-.9zM258.9 403.0h.9v.9h-.9zM265.5 403.3h.9v.9h-.9zM270.3 402.5h.9v.9h-.9zM257.0 402.1h.9v.9h-.9zM267.3 403.6h.9v.9h-.9zM263.7 403.4h.9v.9h-.9zM272.0 410.8h.9v.9h-.9zM268.4 404.9h.9v.9h-.9zM268.7 405.1h.9v.9h-.9zM273.5 403.5h.9v.9h-.9zM271.7 397.3h.9v.9h-.9zM273.5 400.7h.9v.9h-.9zM260.6 395.7h.9v.9h-.9zM266.7 395.8h.9v.9h-.9zM260.7 407.2h.9v.9h-.9zM266.7 400.8h.9v.9h-.9zM265.0 402.2h.9v.9h-.9zM269.4 410.6h.9v.9h-.9zM268.1 394.2h.9v.9h-.9zM265.9 402.4h.9v.9h-.9zM273.6 398.7h.9v.9h-.9zM261.9 401.7h.9v.9h-.9zM267.0 400.8h.9v.9h-.9zM261.6 403.0h.9v.9h-.9zM268.6 409.3h.9v.9h-.9zM261.3 400.5h.9v.9h-.9zM257.5 412.8h.9v.9h-.9zM268.9 411.1h.9v.9h-.9zM265.0 408.7h.9v.9h-.9zM271.4 396.0h.9v.9h-.9zM265.9 399.8h.9v.9h-.9zM261.6 404.0h.9v.9h-.9zM264.1 412.7h.9v.9h-.9zM265.7 413.3h.9v.9h-.9zM271.5 404.5h.9v.9h-.9zM269.0 399.5h.9v.9h-.9zM269.0 403.5h.9v.9h-.9zM271.9 392.0h.9v.9h-.9zM272.3 398.9h.9v.9h-.9zM263.9 404.4h.9v.9h-.9zM262.9 406.8h.9v.9h-.9zM256.2 397.8h.9v.9h-.9zM269.2 393.8h.9v.9h-.9zM269.6 395.5h.9v.9h-.9zM273.3 404.1h.9v.9h-.9zM270.6 393.2h.9v.9h-.9zM267.6 396.5h.9v.9h-.9zM256.8 405.9h.9v.9h-.9zM270.9 404.4h.9v.9h-.9zM261.1 398.8h.9v.9h-.9zM269.7 403.4h.9v.9h-.9zM264.7 402.3h.9v.9h-.9zM263.3 409.1h.9v.9h-.9zM272.5 406.9h.9v.9h-.9zM271.2 398.0h.9v.9h-.9zM273.0 397.1h.9v.9h-.9zM266.4 405.8h.9v.9h-.9zM273.7 413.5h.9v.9h-.9zM257.0 396.9h.9v.9h-.9zM273.0 403.2h.9v.9h-.9zM261.8 405.7h.9v.9h-.9zM254.5 397.4h.9v.9h-.9zM261.9 401.3h.9v.9h-.9zM273.4 408.3h.9v.9h-.9zM266.7 404.5h.9v.9h-.9zM273.9 396.6h.9v.9h-.9zM270.1 409.1h.9v.9h-.9zM264.8 396.6h.9v.9h-.9zM267.4 406.2h.9v.9h-.9zM272.1 413.2h.9v.9h-.9zM266.5 405.3h.9v.9h-.9zM269.2 398.4h.9v.9h-.9zM270.5 409.2h.9v.9h-.9zM269.7 397.5h.9v.9h-.9zM268.2 397.3h.9v.9h-.9zM269.0 395.1h.9v.9h-.9zM272.5 394.0h.9v.9h-.9zM271.4 396.2h.9v.9h-.9zM269.4 406.7h.9v.9h-.9zM273.4 402.9h.9v.9h-.9zM272.8 394.5h.9v.9h-.9zM261.6 403.2h.9v.9h-.9zM270.2 403.3h.9v.9h-.9zM273.5 400.3h.9v.9h-.9zM267.5 396.6h.9v.9h-.9zM258.5 399.5h.9v.9h-.9zM267.8 405.1h.9v.9h-.9zM261.5 406.3h.9v.9h-.9zM261.6 404.4h.9v.9h-.9zM260.7 401.4h.9v.9h-.9zM260.9 401.1h.9v.9h-.9zM263.5 402.3h.9v.9h-.9zM257.6 409.0h.9v.9h-.9zM263.7 401.4h.9v.9h-.9zM270.5 401.0h.9v.9h-.9zM257.1 396.3h.9v.9h-.9zM273.3 412.7h.9v.9h-.9zM273.6 411.8h.9v.9h-.9zM271.8 410.2h.9v.9h-.9zM273.7 400.4h.9v.9h-.9zM268.8 395.6h.9v.9h-.9zM273.7 407.3h.9v.9h-.9zM261.6 398.6h.9v.9h-.9zM272.7 404.1h.9v.9h-.9zM272.7 410.7h.9v.9h-.9zM262.9 408.0h.9v.9h-.9zM272.9 396.1h.9v.9h-.9zM270.2 400.1h.9v.9h-.9zM265.1 396.3h.9v.9h-.9zM273.0 411.2h.9v.9h-.9zM260.2 414.7h.9v.9h-.9zM256.7 397.9h.9v.9h-.9zM271.3 398.2h.9v.9h-.9zM272.8 393.5h.9v.9h-.9zM265.1 408.6h.9v.9h-.9zM273.2 392.7h.9v.9h-.9zM266.8 398.4h.9v.9h-.9zM271.1 405.3h.9v.9h-.9zM273.7 409.2h.9v.9h-.9zM270.4 405.6h.9v.9h-.9zM273.8 400.8h.9v.9h-.9zM267.8 397.9h.9v.9h-.9zM272.5 397.4h.9v.9h-.9zM268.5 402.6h.9v.9h-.9zM258.1 403.2h.9v.9h-.9zM269.5 405.9h.9v.9h-.9zM267.0 399.6h.9v.9h-.9zM269.7 401.1h.9v.9h-.9zM260.1 408.7h.9v.9h-.9zM267.3 391.8h.9v.9h-.9zM269.0 399.7h.9v.9h-.9zM270.0 403.1h.9v.9h-.9zM268.1 395.7h.9v.9h-.9zM265.4 409.2h.9v.9h-.9zM271.9 410.3h.9v.9h-.9zM270.2 403.7h.9v.9h-.9zM273.2 398.1h.9v.9h-.9zM269.8 392.0h.9v.9h-.9zM265.9 404.6h.9v.9h-.9zM272.8 405.3h.9v.9h-.9zM271.5 396.4h.9v.9h-.9zM266.9 399.7h.9v.9h-.9zM273.5 405.7h.9v.9h-.9zM273.3 395.4h.9v.9h-.9zM264.7 412.3h.9v.9h-.9zM270.7 405.7h.9v.9h-.9zM268.4 408.6h.9v.9h-.9zM273.7 400.5h.9v.9h-.9zM262.9 397.6h.9v.9h-.9zM269.9 396.3h.9v.9h-.9zM270.7 403.1h.9v.9h-.9zM272.7 414.5h.9v.9h-.9zM270.2 415.0h.9v.9h-.9zM265.0 389.9h.9v.9h-.9zM268.7 407.0h.9v.9h-.9zM270.5 397.4h.9v.9h-.9zM273.9 403.3h.9v.9h-.9zM264.1 400.4h.9v.9h-.9zM272.5 406.7h.9v.9h-.9zM270.7 399.2h.9v.9h-.9zM270.4 389.7h.9v.9h-.9zM270.3 403.6h.9v.9h-.9zM268.0 399.8h.9v.9h-.9zM264.1 408.0h.9v.9h-.9zM268.1 400.2h.9v.9h-.9zM273.8 411.9h.9v.9h-.9zM267.5 399.1h.9v.9h-.9zM269.1 399.8h.9v.9h-.9zM263.7 403.8h.9v.9h-.9zM270.3 409.9h.9v.9h-.9zM271.7 401.5h.9v.9h-.9zM267.9 406.4h.9v.9h-.9zM268.0 408.2h.9v.9h-.9zM264.7 397.2h.9v.9h-.9zM265.8 396.4h.9v.9h-.9zM273.5 399.0h.9v.9h-.9zM261.1 391.8h.9v.9h-.9zM261.4 395.7h.9v.9h-.9zM265.9 400.0h.9v.9h-.9zM269.1 408.0h.9v.9h-.9zM270.8 391.3h.9v.9h-.9zM266.4 397.4h.9v.9h-.9zM266.7 400.0h.9v.9h-.9zM265.6 402.8h.9v.9h-.9zM260.7 399.3h.9v.9h-.9zM273.8 403.4h.9v.9h-.9zM273.1 398.0h.9v.9h-.9zM267.8 395.6h.9v.9h-.9zM267.6 407.7h.9v.9h-.9zM273.2 397.6h.9v.9h-.9zM271.4 401.4h.9v.9h-.9zM267.6 408.7h.9v.9h-.9zM269.2 394.5h.9v.9h-.9zM269.2 400.1h.9v.9h-.9zM264.5 404.2h.9v.9h-.9zM269.2 407.0h.9v.9h-.9zM260.9 409.8h.9v.9h-.9zM271.3 411.3h.9v.9h-.9zM268.0 399.9h.9v.9h-.9zM268.8 399.5h.9v.9h-.9zM272.4 405.9h.9v.9h-.9zM270.3 392.9h.9v.9h-.9zM271.4 404.3h.9v.9h-.9zM268.0 398.8h.9v.9h-.9zM262.9 399.2h.9v.9h-.9zM271.6 402.0h.9v.9h-.9zM267.2 390.7h.9v.9h-.9zM269.2 404.3h.9v.9h-.9zM260.5 407.2h.9v.9h-.9zM266.7 416.5h.9v.9h-.9zM259.4 409.3h.9v.9h-.9zM263.8 404.9h.9v.9h-.9zM261.4 400.2h.9v.9h-.9zM267.6 399.0h.9v.9h-.9zM257.4 398.3h.9v.9h-.9zM271.9 412.5h.9v.9h-.9zM269.2 399.9h.9v.9h-.9zM263.3 408.7h.9v.9h-.9zM258.0 395.8h.9v.9h-.9zM266.0 404.7h.9v.9h-.9zM270.8 406.3h.9v.9h-.9zM269.6 398.6h.9v.9h-.9zM262.5 395.2h.9v.9h-.9zM267.9 399.8h.9v.9h-.9zM270.0 402.0h.9v.9h-.9zM264.5 388.2h.9v.9h-.9zM267.7 400.8h.9v.9h-.9zM266.1 399.4h.9v.9h-.9zM262.2 412.0h.9v.9h-.9zM268.9 393.5h.9v.9h-.9zM273.1 404.9h.9v.9h-.9zM271.4 406.4h.9v.9h-.9zM270.3 409.5h.9v.9h-.9zM271.8 406.0h.9v.9h-.9zM268.5 397.9h.9v.9h-.9zM272.9 402.0h.9v.9h-.9zM272.1 401.5h.9v.9h-.9zM272.3 401.5h.9v.9h-.9zM263.1 403.6h.9v.9h-.9zM268.6 400.9h.9v.9h-.9zM266.8 388.8h.9v.9h-.9zM266.5 400.9h.9v.9h-.9zM266.0 400.3h.9v.9h-.9zM272.9 398.3h.9v.9h-.9zM272.7 408.7h.9v.9h-.9zM273.6 402.5h.9v.9h-.9zM261.5 410.2h.9v.9h-.9zM266.0 406.2h.9v.9h-.9zM261.6 395.1h.9v.9h-.9zM268.9 409.5h.9v.9h-.9zM267.3 399.8h.9v.9h-.9zM266.4 393.9h.9v.9h-.9zM268.9 393.6h.9v.9h-.9zM264.5 408.5h.9v.9h-.9zM270.5 405.6h.9v.9h-.9zM265.8 406.6h.9v.9h-.9zM270.9 406.4h.9v.9h-.9zM271.7 407.7h.9v.9h-.9zM255.2 410.4h.9v.9h-.9zM264.0 400.7h.9v.9h-.9zM265.8 406.6h.9v.9h-.9zM270.2 395.1h.9v.9h-.9zM266.6 401.6h.9v.9h-.9zM271.8 405.9h.9v.9h-.9zM268.5 404.7h.9v.9h-.9zM266.0 403.6h.9v.9h-.9zM270.5 400.6h.9v.9h-.9zM273.7 395.2h.9v.9h-.9zM268.0 397.4h.9v.9h-.9zM270.7 393.0h.9v.9h-.9zM266.7 407.4h.9v.9h-.9zM272.8 412.2h.9v.9h-.9zM270.1 405.2h.9v.9h-.9zM269.5 405.2h.9v.9h-.9zM271.7 401.2h.9v.9h-.9zM266.8 405.5h.9v.9h-.9zM268.1 392.2h.9v.9h-.9zM267.1 401.1h.9v.9h-.9zM269.2 404.2h.9v.9h-.9zM267.7 402.2h.9v.9h-.9zM261.7 393.0h.9v.9h-.9zM268.9 404.9h.9v.9h-.9zM265.8 396.7h.9v.9h-.9zM271.5 403.4h.9v.9h-.9zM268.7 403.5h.9v.9h-.9zM271.9 400.6h.9v.9h-.9zM259.2 401.8h.9v.9h-.9zM267.4 402.1h.9v.9h-.9zM264.6 406.4h.9v.9h-.9zM272.9 392.7h.9v.9h-.9zM267.3 404.3h.9v.9h-.9zM267.8 397.1h.9v.9h-.9zM265.1 398.7h.9v.9h-.9zM263.8 397.3h.9v.9h-.9zM264.7 402.8h.9v.9h-.9zM268.4 394.8h.9v.9h-.9zM267.2 402.0h.9v.9h-.9zM270.0 394.8h.9v.9h-.9zM272.3 405.7h.9v.9h-.9zM266.7 405.3h.9v.9h-.9zM268.4 404.0h.9v.9h-.9zM263.6 403.0h.9v.9h-.9zM264.6 407.4h.9v.9h-.9zM272.7 398.0h.9v.9h-.9zM274.0 403.7h.9v.9h-.9zM262.2 403.7h.9v.9h-.9zM264.9 406.4h.9v.9h-.9zM272.1 400.9h.9v.9h-.9zM265.0 404.4h.9v.9h-.9zM262.9 397.6h.9v.9h-.9zM268.2 403.6h.9v.9h-.9zM266.2 408.6h.9v.9h-.9zM273.3 395.8h.9v.9h-.9zM268.5 404.6h.9v.9h-.9zM270.4 391.7h.9v.9h-.9zM260.5 409.6h.9v.9h-.9zM272.7 402.9h.9v.9h-.9zM269.3 414.5h.9v.9h-.9zM273.1 399.5h.9v.9h-.9zM272.2 408.1h.9v.9h-.9zM272.2 402.2h.9v.9h-.9zM265.3 398.4h.9v.9h-.9zM273.8 403.6h.9v.9h-.9zM257.2 395.8h.9v.9h-.9zM270.9 390.0h.9v.9h-.9zM265.7 395.5h.9v.9h-.9zM267.5 403.9h.9v.9h-.9zM266.8 398.8h.9v.9h-.9zM273.4 404.3h.9v.9h-.9zM266.1 395.1h.9v.9h-.9zM271.3 408.7h.9v.9h-.9zM270.9 399.5h.9v.9h-.9zM270.0 398.7h.9v.9h-.9zM262.1 395.7h.9v.9h-.9zM266.6 400.0h.9v.9h-.9zM267.0 401.7h.9v.9h-.9zM262.2 414.4h.9v.9h-.9zM266.2 398.1h.9v.9h-.9zM264.7 390.5h.9v.9h-.9zM257.7 407.8h.9v.9h-.9zM272.1 397.2h.9v.9h-.9zM266.2 409.3h.9v.9h-.9zM270.8 406.1h.9v.9h-.9zM272.7 404.8h.9v.9h-.9zM269.9 395.4h.9v.9h-.9zM273.7 392.6h.9v.9h-.9zM265.0 404.7h.9v.9h-.9zM269.9 405.3h.9v.9h-.9zM269.8 406.8h.9v.9h-.9zM270.8 398.1h.9v.9h-.9zM272.7 414.6h.9v.9h-.9zM273.0 398.0h.9v.9h-.9zM258.9 402.9h.9v.9h-.9zM272.0 397.8h.9v.9h-.9zM263.4 402.9h.9v.9h-.9zM268.0 402.3h.9v.9h-.9zM273.4 392.8h.9v.9h-.9zM264.2 404.6h.9v.9h-.9zM266.7 401.0h.9v.9h-.9zM262.7 407.2h.9v.9h-.9zM272.8 395.4h.9v.9h-.9zM272.2 390.5h.9v.9h-.9zM268.8 391.5h.9v.9h-.9zM271.8 401.6h.9v.9h-.9zM265.8 399.6h.9v.9h-.9zM271.7 392.0h.9v.9h-.9zM265.3 406.8h.9v.9h-.9zM263.0 407.3h.9v.9h-.9zM269.9 407.1h.9v.9h-.9zM271.9 413.2h.9v.9h-.9zM269.7 398.0h.9v.9h-.9zM273.7 398.0h.9v.9h-.9zM270.5 394.0h.9v.9h-.9zM272.9 393.5h.9v.9h-.9zM261.7 401.1h.9v.9h-.9zM263.6 403.9h.9v.9h-.9zM268.0 399.9h.9v.9h-.9zM269.0 412.4h.9v.9h-.9zM270.3 395.2h.9v.9h-.9zM264.1 407.9h.9v.9h-.9zM262.6 390.0h.9v.9h-.9zM273.9 395.9h.9v.9h-.9zM273.6 403.9h.9v.9h-.9zM272.4 395.6h.9v.9h-.9zM271.9 403.3h.9v.9h-.9zM256.9 402.4h.9v.9h-.9zM271.8 412.1h.9v.9h-.9zM273.3 392.9h.9v.9h-.9zM269.0 399.3h.9v.9h-.9zM269.2 394.7h.9v.9h-.9zM264.6 400.5h.9v.9h-.9zM263.4 412.7h.9v.9h-.9zM268.8 398.0h.9v.9h-.9zM271.3 399.1h.9v.9h-.9zM267.8 413.9h.9v.9h-.9zM260.0 404.5h.9v.9h-.9zM272.0 408.8h.9v.9h-.9zM272.8 413.1h.9v.9h-.9zM267.4 398.4h.9v.9h-.9zM269.9 404.8h.9v.9h-.9zM271.0 411.2h.9v.9h-.9zM272.6 404.7h.9v.9h-.9zM267.4 406.5h.9v.9h-.9zM266.1 401.5h.9v.9h-.9zM256.4 411.5h.9v.9h-.9zM272.4 395.2h.9v.9h-.9zM269.4 404.6h.9v.9h-.9zM268.8 407.7h.9v.9h-.9zM271.6 399.7h.9v.9h-.9zM269.1 402.6h.9v.9h-.9zM268.1 398.6h.9v.9h-.9zM266.9 392.6h.9v.9h-.9zM267.5 405.4h.9v.9h-.9zM269.1 404.0h.9v.9h-.9zM263.5 394.2h.9v.9h-.9zM259.9 415.0h.9v.9h-.9zM267.4 399.0h.9v.9h-.9zM262.4 399.7h.9v.9h-.9zM270.4 407.2h.9v.9h-.9zM272.4 395.0h.9v.9h-.9zM264.5 405.1h.9v.9h-.9zM267.3 406.7h.9v.9h-.9zM272.7 405.6h.9v.9h-.9zM261.7 400.5h.9v.9h-.9zM264.7 400.8h.9v.9h-.9zM270.0 396.3h.9v.9h-.9zM268.5 401.5h.9v.9h-.9zM263.6 402.4h.9v.9h-.9zM271.4 396.3h.9v.9h-.9zM268.1 405.4h.9v.9h-.9zM273.4 413.0h.9v.9h-.9zM269.8 398.2h.9v.9h-.9zM265.8 399.3h.9v.9h-.9zM265.2 409.4h.9v.9h-.9zM259.4 394.8h.9v.9h-.9zM273.7 405.0h.9v.9h-.9zM272.6 399.2h.9v.9h-.9zM272.1 398.4h.9v.9h-.9zM273.3 400.0h.9v.9h-.9zM260.3 408.5h.9v.9h-.9zM265.3 401.3h.9v.9h-.9zM260.2 400.1h.9v.9h-.9zM272.1 411.6h.9v.9h-.9zM267.3 406.6h.9v.9h-.9zM271.8 406.1h.9v.9h-.9zM271.9 406.7h.9v.9h-.9zM267.9 413.7h.9v.9h-.9zM266.6 407.5h.9v.9h-.9zM269.5 393.3h.9v.9h-.9zM263.0 414.8h.9v.9h-.9zM260.1 397.1h.9v.9h-.9zM266.8 412.3h.9v.9h-.9zM272.7 400.8h.9v.9h-.9zM265.1 408.7h.9v.9h-.9zM255.3 397.9h.9v.9h-.9zM270.2 390.6h.9v.9h-.9zM266.7 401.3h.9v.9h-.9zM273.5 401.8h.9v.9h-.9zM273.0 399.5h.9v.9h-.9zM265.4 402.0h.9v.9h-.9zM263.8 405.8h.9v.9h-.9zM272.7 397.7h.9v.9h-.9zM273.6 412.6h.9v.9h-.9zM272.5 401.8h.9v.9h-.9zM267.3 415.9h.9v.9h-.9zM272.9 407.1h.9v.9h-.9zM258.1 405.9h.9v.9h-.9zM271.1 396.3h.9v.9h-.9zM273.0 400.7h.9v.9h-.9zM266.9 404.4h.9v.9h-.9zM271.1 399.5h.9v.9h-.9zM258.9 405.2h.9v.9h-.9zM273.0 403.9h.9v.9h-.9zM271.2 403.3h.9v.9h-.9zM271.6 409.9h.9v.9h-.9zM270.4 397.8h.9v.9h-.9zM266.8 401.5h.9v.9h-.9zM270.6 400.6h.9v.9h-.9zM273.9 401.9h.9v.9h-.9zM269.2 400.0h.9v.9h-.9zM269.1 400.7h.9v.9h-.9zM268.1 403.7h.9v.9h-.9zM265.2 393.7h.9v.9h-.9zM264.3 404.2h.9v.9h-.9zM270.1 406.1h.9v.9h-.9zM261.5 405.5h.9v.9h-.9zM269.2 409.5h.9v.9h-.9zM272.8 411.8h.9v.9h-.9zM267.1 402.1h.9v.9h-.9zM273.3 402.2h.9v.9h-.9zM259.7 409.8h.9v.9h-.9zM267.0 405.1h.9v.9h-.9zM272.9 400.5h.9v.9h-.9zM269.1 400.2h.9v.9h-.9zM265.7 400.4h.9v.9h-.9zM264.7 397.7h.9v.9h-.9zM265.9 405.9h.9v.9h-.9zM273.9 391.1h.9v.9h-.9zM272.8 392.7h.9v.9h-.9zM268.3 406.6h.9v.9h-.9zM271.7 401.9h.9v.9h-.9zM273.6 399.1h.9v.9h-.9zM268.2 400.1h.9v.9h-.9zM263.7 415.1h.9v.9h-.9zM264.5 395.1h.9v.9h-.9zM265.9 397.0h.9v.9h-.9zM272.0 400.4h.9v.9h-.9zM269.9 405.0h.9v.9h-.9zM267.4 398.5h.9v.9h-.9zM268.9 399.8h.9v.9h-.9zM272.5 395.5h.9v.9h-.9zM264.9 409.2h.9v.9h-.9zM266.4 410.0h.9v.9h-.9zM271.9 413.1h.9v.9h-.9zM258.1 408.2h.9v.9h-.9zM272.9 400.9h.9v.9h-.9zM264.5 413.6h.9v.9h-.9zM271.2 397.3h.9v.9h-.9zM270.7 394.2h.9v.9h-.9zM273.8 411.5h.9v.9h-.9zM270.2 403.7h.9v.9h-.9zM266.4 394.1h.9v.9h-.9zM273.7 408.5h.9v.9h-.9zM270.8 396.6h.9v.9h-.9zM273.5 409.6h.9v.9h-.9zM270.6 401.2h.9v.9h-.9zM273.9 409.1h.9v.9h-.9zM262.6 402.5h.9v.9h-.9zM270.5 405.2h.9v.9h-.9zM267.8 407.5h.9v.9h-.9zM253.2 401.3h.9v.9h-.9zM262.5 411.8h.9v.9h-.9zM272.8 399.7h.9v.9h-.9zM268.8 399.1h.9v.9h-.9zM269.8 401.6h.9v.9h-.9zM266.2 397.6h.9v.9h-.9zM268.9 401.6h.9v.9h-.9zM260.5 402.8h.9v.9h-.9zM257.1 399.1h.9v.9h-.9zM265.3 409.5h.9v.9h-.9zM260.6 394.5h.9v.9h-.9zM269.4 407.9h.9v.9h-.9zM271.6 397.6h.9v.9h-.9zM263.3 410.7h.9v.9h-.9zM268.5 396.2h.9v.9h-.9zM260.5 403.0h.9v.9h-.9zM268.9 404.3h.9v.9h-.9zM270.7 404.2h.9v.9h-.9zM266.3 392.7h.9v.9h-.9zM262.3 400.0h.9v.9h-.9zM269.6 407.5h.9v.9h-.9zM273.6 402.0h.9v.9h-.9zM271.5 404.9h.9v.9h-.9zM270.9 406.4h.9v.9h-.9zM271.8 400.4h.9v.9h-.9zM268.3 397.1h.9v.9h-.9zM272.3 404.5h.9v.9h-.9zM266.7 401.1h.9v.9h-.9zM270.2 402.0h.9v.9h-.9zM268.2 407.8h.9v.9h-.9zM265.9 405.7h.9v.9h-.9zM268.2 395.0h.9v.9h-.9zM266.2 408.4h.9v.9h-.9zM270.2 403.7h.9v.9h-.9zM264.2 402.5h.9v.9h-.9zM271.2 406.5h.9v.9h-.9zM261.7 411.0h.9v.9h-.9zM266.7 409.3h.9v.9h-.9zM271.0 395.6h.9v.9h-.9zM267.7 399.2h.9v.9h-.9zM268.9 393.4h.9v.9h-.9zM263.0 406.5h.9v.9h-.9zM268.2 407.5h.9v.9h-.9zM270.3 408.5h.9v.9h-.9zM266.7 393.7h.9v.9h-.9zM272.8 403.9h.9v.9h-.9zM257.1 406.2h.9v.9h-.9zM263.5 399.2h.9v.9h-.9zM272.9 393.2h.9v.9h-.9zM255.1 397.1h.9v.9h-.9zM273.0 390.8h.9v.9h-.9zM270.1 405.8h.9v.9h-.9zM271.4 394.1h.9v.9h-.9zM265.1 393.9h.9v.9h-.9zM271.6 405.3h.9v.9h-.9zM271.9 399.5h.9v.9h-.9zM267.6 402.2h.9v.9h-.9zM264.5 407.3h.9v.9h-.9zM266.6 395.6h.9v.9h-.9zM258.3 406.9h.9v.9h-.9zM269.1 389.0h.9v.9h-.9zM265.2 396.2h.9v.9h-.9zM263.9 395.4h.9v.9h-.9zM272.5 400.7h.9v.9h-.9zM261.4 403.5h.9v.9h-.9zM269.5 397.0h.9v.9h-.9zM271.9 408.5h.9v.9h-.9zM266.7 393.3h.9v.9h-.9zM270.3 405.0h.9v.9h-.9zM270.5 411.9h.9v.9h-.9zM269.5 404.1h.9v.9h-.9zM270.2 403.7h.9v.9h-.9zM272.7 401.1h.9v.9h-.9zM267.2 405.0h.9v.9h-.9zM268.5 403.0h.9v.9h-.9zM258.2 401.2h.9v.9h-.9zM259.7 408.0h.9v.9h-.9zM260.8 395.3h.9v.9h-.9zM272.5 394.1h.9v.9h-.9zM261.3 401.3h.9v.9h-.9zM266.7 414.0h.9v.9h-.9zM273.7 395.3h.9v.9h-.9zM270.2 397.8h.9v.9h-.9zM265.9 407.1h.9v.9h-.9zM268.1 401.1h.9v.9h-.9zM267.3 394.6h.9v.9h-.9zM268.1 399.5h.9v.9h-.9zM265.3 390.9h.9v.9h-.9zM264.8 395.6h.9v.9h-.9zM267.9 394.6h.9v.9h-.9zM269.1 400.7h.9v.9h-.9zM271.8 401.4h.9v.9h-.9zM272.0 406.3h.9v.9h-.9zM271.2 398.7h.9v.9h-.9zM273.5 397.9h.9v.9h-.9zM262.5 416.0h.9v.9h-.9zM266.5 407.8h.9v.9h-.9zM271.9 412.3h.9v.9h-.9zM263.0 405.8h.9v.9h-.9zM268.3 410.1h.9v.9h-.9zM255.4 404.6h.9v.9h-.9zM262.2 391.8h.9v.9h-.9zM273.9 399.8h.9v.9h-.9zM273.7 395.9h.9v.9h-.9zM268.9 414.4h.9v.9h-.9zM270.2 397.1h.9v.9h-.9zM263.6 405.9h.9v.9h-.9zM268.5 403.7h.9v.9h-.9zM269.3 403.1h.9v.9h-.9zM273.9 397.1h.9v.9h-.9zM267.6 401.6h.9v.9h-.9zM270.0 392.4h.9v.9h-.9zM267.2 395.4h.9v.9h-.9zM264.4 411.0h.9v.9h-.9zM265.3 398.4h.9v.9h-.9zM272.7 404.4h.9v.9h-.9zM271.3 406.6h.9v.9h-.9zM271.9 401.7h.9v.9h-.9zM270.6 391.6h.9v.9h-.9zM273.3 403.4h.9v.9h-.9zM262.2 395.4h.9v.9h-.9zM273.5 397.8h.9v.9h-.9zM263.0 399.5h.9v.9h-.9zM272.4 398.3h.9v.9h-.9zM265.7 396.7h.9v.9h-.9zM272.8 400.9h.9v.9h-.9zM270.8 412.7h.9v.9h-.9zM268.8 402.4h.9v.9h-.9zM264.4 405.5h.9v.9h-.9zM264.9 410.3h.9v.9h-.9zM260.7 405.2h.9v.9h-.9zM271.3 407.5h.9v.9h-.9zM272.0 396.6h.9v.9h-.9zM267.3 399.9h.9v.9h-.9zM269.7 398.6h.9v.9h-.9zM272.9 397.0h.9v.9h-.9zM262.7 406.7h.9v.9h-.9zM271.9 399.0h.9v.9h-.9zM271.4 405.8h.9v.9h-.9zM272.7 392.8h.9v.9h-.9zM271.0 391.0h.9v.9h-.9zM273.0 409.2h.9v.9h-.9zM266.5 402.2h.9v.9h-.9zM269.0 399.1h.9v.9h-.9zM272.5 397.9h.9v.9h-.9zM262.7 405.4h.9v.9h-.9zM271.9 411.0h.9v.9h-.9zM272.0 403.1h.9v.9h-.9zM264.8 407.5h.9v.9h-.9zM268.7 393.6h.9v.9h-.9zM266.3 395.0h.9v.9h-.9zM271.3 390.4h.9v.9h-.9zM265.9 397.7h.9v.9h-.9zM270.9 405.9h.9v.9h-.9zM270.7 403.5h.9v.9h-.9zM268.8 405.2h.9v.9h-.9zM260.1 397.5h.9v.9h-.9zM272.0 415.1h.9v.9h-.9zM271.4 398.5h.9v.9h-.9zM269.5 399.8h.9v.9h-.9zM268.8 403.7h.9v.9h-.9zM273.7 402.7h.9v.9h-.9zM259.7 403.8h.9v.9h-.9zM263.4 392.7h.9v.9h-.9zM272.4 402.6h.9v.9h-.9zM269.2 397.3h.9v.9h-.9zM267.0 410.0h.9v.9h-.9zM267.0 400.9h.9v.9h-.9zM271.7 404.5h.9v.9h-.9zM269.9 388.9h.9v.9h-.9zM268.5 403.1h.9v.9h-.9zM267.8 401.2h.9v.9h-.9zM264.6 402.5h.9v.9h-.9zM273.7 405.1h.9v.9h-.9zM261.2 407.5h.9v.9h-.9zM267.6 407.9h.9v.9h-.9zM270.1 394.5h.9v.9h-.9zM263.5 413.7h.9v.9h-.9zM271.2 408.8h.9v.9h-.9zM259.4 405.6h.9v.9h-.9zM266.6 396.6h.9v.9h-.9zM257.2 400.8h.9v.9h-.9zM271.4 404.6h.9v.9h-.9zM271.3 406.1h.9v.9h-.9zM255.9 411.6h.9v.9h-.9zM260.5 398.2h.9v.9h-.9zM264.7 404.1h.9v.9h-.9zM271.4 414.9h.9v.9h-.9zM266.8 405.0h.9v.9h-.9zM264.8 401.9h.9v.9h-.9zM260.7 407.3h.9v.9h-.9zM269.2 403.9h.9v.9h-.9zM267.2 402.7h.9v.9h-.9zM273.4 412.7h.9v.9h-.9zM267.5 409.1h.9v.9h-.9zM272.7 404.9h.9v.9h-.9zM271.3 391.5h.9v.9h-.9zM270.9 393.8h.9v.9h-.9zM269.7 408.5h.9v.9h-.9zM267.0 392.6h.9v.9h-.9zM264.5 397.3h.9v.9h-.9zM272.7 403.8h.9v.9h-.9zM273.1 401.0h.9v.9h-.9zM273.8 408.3h.9v.9h-.9zM270.2 392.9h.9v.9h-.9zM261.7 391.4h.9v.9h-.9zM273.2 406.6h.9v.9h-.9zM268.9 405.9h.9v.9h-.9zM257.7 411.5h.9v.9h-.9zM265.7 398.7h.9v.9h-.9zM257.5 406.8h.9v.9h-.9zM273.6 412.6h.9v.9h-.9zM272.2 406.7h.9v.9h-.9zM267.6 407.8h.9v.9h-.9zM271.8 409.9h.9v.9h-.9zM272.8 397.7h.9v.9h-.9zM267.5 407.5h.9v.9h-.9zM267.0 406.0h.9v.9h-.9zM270.7 404.7h.9v.9h-.9zM264.8 409.0h.9v.9h-.9zM265.9 394.9h.9v.9h-.9zM267.8 396.3h.9v.9h-.9zM268.2 415.0h.9v.9h-.9zM265.3 400.6h.9v.9h-.9zM273.5 408.0h.9v.9h-.9zM265.9 401.2h.9v.9h-.9zM272.6 399.0h.9v.9h-.9zM268.8 399.1h.9v.9h-.9zM273.3 407.2h.9v.9h-.9zM264.9 407.4h.9v.9h-.9zM260.7 408.8h.9v.9h-.9zM265.2 412.1h.9v.9h-.9zM260.9 406.3h.9v.9h-.9zM269.1 404.9h.9v.9h-.9zM265.0 396.6h.9v.9h-.9zM272.3 394.6h.9v.9h-.9zM270.1 406.2h.9v.9h-.9zM262.7 394.1h.9v.9h-.9zM267.5 397.7h.9v.9h-.9zM257.4 409.8h.9v.9h-.9zM272.6 405.6h.9v.9h-.9zM270.8 406.6h.9v.9h-.9zM267.2 405.0h.9v.9h-.9zM271.9 402.4h.9v.9h-.9zM268.8 408.2h.9v.9h-.9zM265.4 404.4h.9v.9h-.9zM264.4 396.9h.9v.9h-.9zM259.0 397.9h.9v.9h-.9zM272.3 402.0h.9v.9h-.9zM264.2 405.0h.9v.9h-.9zM270.1 397.4h.9v.9h-.9zM264.9 409.7h.9v.9h-.9zM265.3 400.3h.9v.9h-.9zM266.9 407.7h.9v.9h-.9zM262.7 397.6h.9v.9h-.9zM271.4 400.6h.9v.9h-.9zM270.6 397.2h.9v.9h-.9zM267.7 404.9h.9v.9h-.9zM270.9 395.7h.9v.9h-.9zM265.8 405.0h.9v.9h-.9zM273.1 402.9h.9v.9h-.9zM266.6 403.9h.9v.9h-.9zM273.7 402.1h.9v.9h-.9zM262.7 412.1h.9v.9h-.9zM254.8 397.9h.9v.9h-.9zM271.1 396.3h.9v.9h-.9zM269.7 403.1h.9v.9h-.9zM270.9 393.2h.9v.9h-.9zM272.6 405.5h.9v.9h-.9zM262.2 391.0h.9v.9h-.9zM268.7 401.1h.9v.9h-.9zM268.8 410.9h.9v.9h-.9zM269.1 400.2h.9v.9h-.9zM273.7 405.4h.9v.9h-.9zM272.5 406.3h.9v.9h-.9zM268.9 404.3h.9v.9h-.9zM270.9 398.1h.9v.9h-.9zM273.1 408.4h.9v.9h-.9zM272.7 403.8h.9v.9h-.9zM273.3 402.3h.9v.9h-.9zM272.8 400.3h.9v.9h-.9zM257.4 403.7h.9v.9h-.9zM268.9 398.5h.9v.9h-.9zM267.1 405.8h.9v.9h-.9zM272.9 403.9h.9v.9h-.9zM271.5 404.9h.9v.9h-.9zM272.1 407.4h.9v.9h-.9zM265.2 407.2h.9v.9h-.9zM271.0 409.0h.9v.9h-.9zM270.7 395.2h.9v.9h-.9zM273.2 391.2h.9v.9h-.9zM268.8 403.4h.9v.9h-.9zM262.1 404.5h.9v.9h-.9zM269.5 405.8h.9v.9h-.9zM269.6 404.0h.9v.9h-.9zM267.0 397.6h.9v.9h-.9zM265.2 392.2h.9v.9h-.9zM273.9 406.4h.9v.9h-.9zM269.5 399.0h.9v.9h-.9zM258.7 393.6h.9v.9h-.9zM265.8 403.4h.9v.9h-.9zM258.6 398.7h.9v.9h-.9zM262.8 397.7h.9v.9h-.9zM273.6 403.9h.9v.9h-.9zM256.0 403.9h.9v.9h-.9zM258.0 398.6h.9v.9h-.9zM268.3 400.8h.9v.9h-.9zM267.7 401.1h.9v.9h-.9zM271.3 406.5h.9v.9h-.9zM255.0 401.6h.9v.9h-.9zM268.5 407.7h.9v.9h-.9zM267.5 392.0h.9v.9h-.9zM267.9 398.5h.9v.9h-.9zM272.9 409.4h.9v.9h-.9zM263.9 398.6h.9v.9h-.9zM270.3 399.0h.9v.9h-.9zM256.2 401.4h.9v.9h-.9zM261.2 397.3h.9v.9h-.9zM270.9 395.7h.9v.9h-.9zM269.4 393.2h.9v.9h-.9zM265.0 404.8h.9v.9h-.9zM267.9 390.1h.9v.9h-.9zM266.4 401.5h.9v.9h-.9zM269.5 395.0h.9v.9h-.9zM270.5 398.3h.9v.9h-.9zM268.0 403.0h.9v.9h-.9zM269.9 392.8h.9v.9h-.9zM270.2 402.1h.9v.9h-.9zM267.3 408.4h.9v.9h-.9zM272.8 396.4h.9v.9h-.9zM264.7 405.9h.9v.9h-.9zM267.6 397.7h.9v.9h-.9zM273.0 407.7h.9v.9h-.9zM272.4 413.3h.9v.9h-.9zM264.7 408.6h.9v.9h-.9zM268.5 400.6h.9v.9h-.9zM271.8 411.1h.9v.9h-.9zM262.3 391.5h.9v.9h-.9zM270.5 406.0h.9v.9h-.9zM269.8 404.3h.9v.9h-.9zM264.4 408.5h.9v.9h-.9zM264.8 397.8h.9v.9h-.9zM269.3 406.8h.9v.9h-.9zM270.0 405.9h.9v.9h-.9zM265.6 398.7h.9v.9h-.9zM271.0 406.4h.9v.9h-.9zM265.0 396.7h.9v.9h-.9zM268.3 398.7h.9v.9h-.9zM269.9 412.0h.9v.9h-.9zM262.4 402.9h.9v.9h-.9zM263.1 399.6h.9v.9h-.9zM272.0 402.5h.9v.9h-.9zM272.9 398.1h.9v.9h-.9zM263.8 406.2h.9v.9h-.9zM271.0 397.4h.9v.9h-.9zM266.7 389.5h.9v.9h-.9zM266.1 403.2h.9v.9h-.9zM267.6 390.4h.9v.9h-.9zM266.9 388.9h.9v.9h-.9zM274.0 411.3h.9v.9h-.9zM273.0 405.0h.9v.9h-.9zM263.5 414.6h.9v.9h-.9zM272.1 407.1h.9v.9h-.9zM273.6 396.2h.9v.9h-.9zM272.7 400.0h.9v.9h-.9zM271.1 402.1h.9v.9h-.9zM271.0 406.0h.9v.9h-.9zM268.5 396.8h.9v.9h-.9zM268.5 396.2h.9v.9h-.9zM268.9 406.1h.9v.9h-.9zM265.6 404.0h.9v.9h-.9zM270.7 400.8h.9v.9h-.9zM259.8 406.2h.9v.9h-.9zM272.3 403.9h.9v.9h-.9zM273.1 404.5h.9v.9h-.9zM273.2 392.2h.9v.9h-.9zM271.4 401.9h.9v.9h-.9zM269.8 391.5h.9v.9h-.9zM272.6 404.3h.9v.9h-.9zM260.0 400.6h.9v.9h-.9zM269.3 403.7h.9v.9h-.9zM271.3 398.8h.9v.9h-.9zM269.8 403.4h.9v.9h-.9zM266.3 405.9h.9v.9h-.9zM259.0 398.8h.9v.9h-.9zM266.5 402.1h.9v.9h-.9zM264.9 405.4h.9v.9h-.9zM270.4 406.8h.9v.9h-.9zM262.6 400.3h.9v.9h-.9zM268.7 394.6h.9v.9h-.9zM270.4 411.0h.9v.9h-.9zM270.6 401.5h.9v.9h-.9zM270.1 397.2h.9v.9h-.9zM270.5 410.6h.9v.9h-.9zM271.1 399.0h.9v.9h-.9zM270.9 408.9h.9v.9h-.9zM271.3 409.1h.9v.9h-.9zM272.2 401.9h.9v.9h-.9zM269.2 403.8h.9v.9h-.9zM268.7 409.2h.9v.9h-.9zM265.5 399.7h.9v.9h-.9zM262.4 398.5h.9v.9h-.9zM260.8 389.5h.9v.9h-.9zM271.5 405.4h.9v.9h-.9zM264.6 397.8h.9v.9h-.9zM270.7 399.7h.9v.9h-.9zM273.0 399.0h.9v.9h-.9zM271.3 404.3h.9v.9h-.9zM268.6 406.9h.9v.9h-.9zM263.7 389.8h.9v.9h-.9zM264.5 405.5h.9v.9h-.9zM267.3 405.2h.9v.9h-.9zM273.9 402.6h.9v.9h-.9zM273.5 411.9h.9v.9h-.9zM270.3 393.0h.9v.9h-.9zM266.3 404.3h.9v.9h-.9zM271.8 406.3h.9v.9h-.9zM263.4 401.9h.9v.9h-.9zM265.8 406.4h.9v.9h-.9zM267.3 402.2h.9v.9h-.9zM266.6 405.2h.9v.9h-.9zM260.5 394.2h.9v.9h-.9zM271.9 408.6h.9v.9h-.9zM268.0 407.4h.9v.9h-.9zM265.1 402.5h.9v.9h-.9zM272.7 402.3h.9v.9h-.9zM268.5 408.0h.9v.9h-.9zM267.3 402.9h.9v.9h-.9zM267.3 403.8h.9v.9h-.9zM271.8 404.4h.9v.9h-.9zM269.4 399.4h.9v.9h-.9zM261.7 400.1h.9v.9h-.9zM264.6 402.7h.9v.9h-.9zM263.0 392.0h.9v.9h-.9zM268.4 391.0h.9v.9h-.9zM271.0 398.2h.9v.9h-.9zM268.8 392.4h.9v.9h-.9zM255.8 403.2h.9v.9h-.9zM257.3 406.1h.9v.9h-.9zM267.8 408.1h.9v.9h-.9zM272.6 398.4h.9v.9h-.9zM272.6 402.0h.9v.9h-.9zM254.5 405.5h.9v.9h-.9zM272.4 408.4h.9v.9h-.9zM260.5 411.9h.9v.9h-.9zM258.3 401.5h.9v.9h-.9zM272.8 408.8h.9v.9h-.9zM273.8 410.3h.9v.9h-.9zM271.2 394.2h.9v.9h-.9zM268.1 399.3h.9v.9h-.9zM272.5 401.6h.9v.9h-.9zM268.1 410.0h.9v.9h-.9zM258.7 400.0h.9v.9h-.9zM264.0 404.2h.9v.9h-.9zM267.3 395.1h.9v.9h-.9zM261.6 392.9h.9v.9h-.9zM267.2 414.0h.9v.9h-.9zM269.1 410.6h.9v.9h-.9zM267.8 409.4h.9v.9h-.9zM270.0 396.7h.9v.9h-.9zM270.1 401.3h.9v.9h-.9zM273.8 393.0h.9v.9h-.9zM265.2 402.7h.9v.9h-.9zM264.8 407.2h.9v.9h-.9zM270.0 401.1h.9v.9h-.9zM264.4 398.8h.9v.9h-.9zM269.4 398.7h.9v.9h-.9zM270.0 406.5h.9v.9h-.9zM268.8 402.9h.9v.9h-.9zM266.0 402.2h.9v.9h-.9zM273.7 398.6h.9v.9h-.9zM271.4 409.3h.9v.9h-.9zM271.3 397.0h.9v.9h-.9zM272.9 405.1h.9v.9h-.9zM268.9 406.6h.9v.9h-.9zM272.3 397.6h.9v.9h-.9zM266.9 410.6h.9v.9h-.9zM273.4 403.7h.9v.9h-.9zM256.5 399.6h.9v.9h-.9zM271.4 406.6h.9v.9h-.9zM268.7 403.1h.9v.9h-.9zM270.2 389.4h.9v.9h-.9zM272.1 395.9h.9v.9h-.9zM263.9 389.7h.9v.9h-.9zM269.2 410.4h.9v.9h-.9zM271.7 395.9h.9v.9h-.9zM273.6 396.8h.9v.9h-.9zM265.2 404.9h.9v.9h-.9zM266.1 405.1h.9v.9h-.9zM267.7 395.5h.9v.9h-.9zM273.4 406.3h.9v.9h-.9zM265.1 399.4h.9v.9h-.9zM270.0 399.8h.9v.9h-.9zM265.5 403.4h.9v.9h-.9zM270.3 404.8h.9v.9h-.9zM266.6 407.2h.9v.9h-.9zM271.6 407.1h.9v.9h-.9zM255.3 399.5h.9v.9h-.9zM266.7 402.6h.9v.9h-.9zM264.6 403.6h.9v.9h-.9zM271.8 404.6h.9v.9h-.9zM263.1 403.4h.9v.9h-.9zM266.2 410.1h.9v.9h-.9zM272.1 400.4h.9v.9h-.9zM264.7 404.3h.9v.9h-.9zM265.9 397.1h.9v.9h-.9zM273.0 407.6h.9v.9h-.9zM272.4 395.9h.9v.9h-.9zM268.3 401.2h.9v.9h-.9zM267.7 396.9h.9v.9h-.9zM260.6 402.2h.9v.9h-.9zM262.4 398.6h.9v.9h-.9zM267.8 403.0h.9v.9h-.9zM271.6 395.8h.9v.9h-.9zM272.2 404.8h.9v.9h-.9zM264.1 396.0h.9v.9h-.9zM273.4 398.5h.9v.9h-.9zM270.8 410.5h.9v.9h-.9zM262.5 411.4h.9v.9h-.9zM263.9 398.1h.9v.9h-.9zM273.3 409.9h.9v.9h-.9zM273.3 396.3h.9v.9h-.9zM267.6 395.2h.9v.9h-.9zM262.4 396.2h.9v.9h-.9zM269.1 395.2h.9v.9h-.9zM265.6 396.6h.9v.9h-.9zM271.4 397.0h.9v.9h-.9zM266.0 406.9h.9v.9h-.9zM270.9 415.0h.9v.9h-.9zM271.4 405.5h.9v.9h-.9zM267.8 399.5h.9v.9h-.9zM262.9 401.7h.9v.9h-.9zM268.4 405.2h.9v.9h-.9zM266.9 406.7h.9v.9h-.9zM267.1 401.1h.9v.9h-.9zM270.0 396.0h.9v.9h-.9zM268.9 393.5h.9v.9h-.9zM273.2 413.7h.9v.9h-.9zM268.2 402.8h.9v.9h-.9zM254.6 404.7h.9v.9h-.9zM259.0 399.4h.9v.9h-.9zM270.5 401.8h.9v.9h-.9zM272.7 401.3h.9v.9h-.9zM269.7 391.5h.9v.9h-.9zM261.4 410.6h.9v.9h-.9zM273.0 394.8h.9v.9h-.9zM273.1 405.6h.9v.9h-.9zM265.1 405.6h.9v.9h-.9zM268.9 401.4h.9v.9h-.9zM270.8 401.5h.9v.9h-.9zM270.2 410.7h.9v.9h-.9zM268.3 408.1h.9v.9h-.9zM263.0 411.5h.9v.9h-.9zM269.6 415.9h.9v.9h-.9zM256.0 394.1h.9v.9h-.9zM271.6 411.2h.9v.9h-.9zM254.6 409.1h.9v.9h-.9zM273.2 400.4h.9v.9h-.9zM271.6 404.2h.9v.9h-.9zM263.1 413.9h.9v.9h-.9zM272.3 396.7h.9v.9h-.9zM273.6 401.2h.9v.9h-.9zM266.4 400.3h.9v.9h-.9zM258.0 408.4h.9v.9h-.9zM266.9 395.3h.9v.9h-.9zM267.7 407.1h.9v.9h-.9zM265.8 397.2h.9v.9h-.9zM268.3 396.7h.9v.9h-.9zM273.2 402.7h.9v.9h-.9zM273.0 405.9h.9v.9h-.9zM271.8 403.1h.9v.9h-.9zM269.1 390.9h.9v.9h-.9zM270.1 413.7h.9v.9h-.9zM262.5 410.3h.9v.9h-.9zM273.5 407.2h.9v.9h-.9zM268.4 401.3h.9v.9h-.9zM273.3 412.0h.9v.9h-.9zM269.8 397.2h.9v.9h-.9zM263.6 403.6h.9v.9h-.9zM259.1 394.4h.9v.9h-.9zM255.4 395.5h.9v.9h-.9zM265.4 402.9h.9v.9h-.9zM267.0 403.0h.9v.9h-.9zM272.8 402.1h.9v.9h-.9zM270.3 403.1h.9v.9h-.9zM272.2 414.8h.9v.9h-.9zM270.6 400.5h.9v.9h-.9zM266.1 398.2h.9v.9h-.9zM267.7 403.7h.9v.9h-.9zM265.8 400.6h.9v.9h-.9zM271.3 401.0h.9v.9h-.9zM265.7 396.4h.9v.9h-.9zM270.2 409.5h.9v.9h-.9zM258.6 396.7h.9v.9h-.9zM266.8 397.0h.9v.9h-.9zM274.0 395.2h.9v.9h-.9zM271.9 396.2h.9v.9h-.9zM261.8 398.6h.9v.9h-.9zM264.6 397.7h.9v.9h-.9zM268.5 405.8h.9v.9h-.9zM269.1 396.4h.9v.9h-.9zM266.7 404.2h.9v.9h-.9zM271.2 410.4h.9v.9h-.9zM270.2 399.2h.9v.9h-.9zM268.2 395.8h.9v.9h-.9zM266.3 395.1h.9v.9h-.9zM273.1 402.5h.9v.9h-.9zM267.7 407.7h.9v.9h-.9zM261.4 391.7h.9v.9h-.9zM267.6 394.5h.9v.9h-.9zM265.6 410.9h.9v.9h-.9zM262.6 411.4h.9v.9h-.9zM265.2 402.4h.9v.9h-.9zM270.4 394.8h.9v.9h-.9zM269.9 401.9h.9v.9h-.9zM264.1 405.2h.9v.9h-.9zM273.1 406.4h.9v.9h-.9zM264.2 401.9h.9v.9h-.9zM272.0 407.7h.9v.9h-.9zM273.1 406.7h.9v.9h-.9zM259.5 414.7h.9v.9h-.9zM273.3 396.2h.9v.9h-.9zM257.1 412.7h.9v.9h-.9zM271.2 400.2h.9v.9h-.9zM267.1 396.2h.9v.9h-.9zM265.4 401.4h.9v.9h-.9zM273.0 402.3h.9v.9h-.9zM268.8 399.9h.9v.9h-.9zM269.8 399.0h.9v.9h-.9zM268.7 398.3h.9v.9h-.9zM269.6 392.8h.9v.9h-.9zM264.4 398.7h.9v.9h-.9zM270.0 405.7h.9v.9h-.9zM273.6 404.9h.9v.9h-.9zM271.9 407.2h.9v.9h-.9zM273.6 401.3h.9v.9h-.9zM264.5 401.9h.9v.9h-.9zM267.3 410.0h.9v.9h-.9zM270.5 411.9h.9v.9h-.9zM266.0 413.1h.9v.9h-.9zM272.6 404.6h.9v.9h-.9zM270.8 405.4h.9v.9h-.9zM269.3 406.0h.9v.9h-.9zM266.4 400.9h.9v.9h-.9zM263.5 408.4h.9v.9h-.9zM270.9 403.2h.9v.9h-.9zM269.1 398.0h.9v.9h-.9zM271.7 405.5h.9v.9h-.9zM263.8 407.8h.9v.9h-.9zM268.8 403.0h.9v.9h-.9zM271.1 407.2h.9v.9h-.9zM274.0 413.0h.9v.9h-.9zM267.3 405.3h.9v.9h-.9zM273.8 400.4h.9v.9h-.9zM263.2 400.1h.9v.9h-.9zM271.0 398.7h.9v.9h-.9zM269.5 413.4h.9v.9h-.9zM272.6 401.8h.9v.9h-.9zM271.8 398.2h.9v.9h-.9zM264.5 405.9h.9v.9h-.9zM261.3 408.7h.9v.9h-.9zM270.3 397.8h.9v.9h-.9zM268.1 407.9h.9v.9h-.9zM274.0 400.3h.9v.9h-.9zM272.8 398.9h.9v.9h-.9zM270.5 404.6h.9v.9h-.9zM265.4 405.7h.9v.9h-.9zM268.6 415.0h.9v.9h-.9zM263.4 396.3h.9v.9h-.9zM262.5 401.3h.9v.9h-.9zM269.5 408.1h.9v.9h-.9zM266.0 400.1h.9v.9h-.9zM259.3 406.1h.9v.9h-.9zM261.0 401.3h.9v.9h-.9zM269.7 397.9h.9v.9h-.9zM268.9 404.0h.9v.9h-.9zM260.4 402.0h.9v.9h-.9zM272.8 396.9h.9v.9h-.9zM265.4 404.4h.9v.9h-.9zM266.2 413.0h.9v.9h-.9zM265.8 397.7h.9v.9h-.9zM272.1 392.1h.9v.9h-.9zM265.4 401.2h.9v.9h-.9zM260.3 398.8h.9v.9h-.9zM265.9 410.5h.9v.9h-.9zM267.3 400.3h.9v.9h-.9zM266.6 407.9h.9v.9h-.9zM270.6 399.2h.9v.9h-.9zM270.5 409.4h.9v.9h-.9zM266.8 402.5h.9v.9h-.9zM269.4 405.3h.9v.9h-.9zM259.7 397.7h.9v.9h-.9zM265.0 399.8h.9v.9h-.9zM271.1 402.0h.9v.9h-.9zM264.5 405.6h.9v.9h-.9zM271.1 401.9h.9v.9h-.9zM272.6 400.4h.9v.9h-.9zM268.7 401.3h.9v.9h-.9zM270.1 393.7h.9v.9h-.9zM271.6 408.6h.9v.9h-.9zM269.6 403.8h.9v.9h-.9zM271.7 403.4h.9v.9h-.9zM266.2 400.4h.9v.9h-.9zM269.6 401.7h.9v.9h-.9zM273.1 392.5h.9v.9h-.9zM267.8 405.7h.9v.9h-.9zM265.1 408.7h.9v.9h-.9zM257.9 403.2h.9v.9h-.9zM260.0 406.7h.9v.9h-.9zM270.5 409.1h.9v.9h-.9zM270.8 399.5h.9v.9h-.9zM272.2 395.6h.9v.9h-.9zM269.6 408.0h.9v.9h-.9zM272.5 401.5h.9v.9h-.9zM270.8 394.6h.9v.9h-.9zM267.3 397.3h.9v.9h-.9zM264.5 408.0h.9v.9h-.9zM273.3 404.0h.9v.9h-.9zM266.3 412.5h.9v.9h-.9zM264.1 413.6h.9v.9h-.9zM263.0 413.4h.9v.9h-.9zM262.9 404.9h.9v.9h-.9zM263.5 400.2h.9v.9h-.9zM268.9 400.0h.9v.9h-.9zM263.6 401.7h.9v.9h-.9zM271.8 397.6h.9v.9h-.9zM261.2 401.8h.9v.9h-.9zM268.5 402.8h.9v.9h-.9zM266.6 396.5h.9v.9h-.9zM257.4 401.1h.9v.9h-.9zM273.9 392.1h.9v.9h-.9zM266.6 412.2h.9v.9h-.9zM273.2 399.3h.9v.9h-.9zM270.6 403.2h.9v.9h-.9zM271.4 412.3h.9v.9h-.9zM272.7 392.5h.9v.9h-.9zM261.2 412.7h.9v.9h-.9zM270.7 405.6h.9v.9h-.9zM268.2 403.7h.9v.9h-.9zM272.7 390.3h.9v.9h-.9zM273.7 396.5h.9v.9h-.9zM267.9 399.4h.9v.9h-.9zM264.6 399.7h.9v.9h-.9zM265.1 411.8h.9v.9h-.9zM268.7 392.1h.9v.9h-.9zM269.1 404.5h.9v.9h-.9zM260.2 392.3h.9v.9h-.9zM268.9 404.0h.9v.9h-.9zM267.3 402.8h.9v.9h-.9zM263.8 409.4h.9v.9h-.9zM268.4 410.8h.9v.9h-.9zM272.6 401.3h.9v.9h-.9zM258.0 401.2h.9v.9h-.9zM264.6 392.3h.9v.9h-.9zM265.8 403.6h.9v.9h-.9zM269.7 411.9h.9v.9h-.9zM270.8 410.8h.9v.9h-.9zM273.2 401.0h.9v.9h-.9zM268.6 398.4h.9v.9h-.9zM273.8 410.9h.9v.9h-.9zM270.3 398.8h.9v.9h-.9zM273.2 399.6h.9v.9h-.9zM258.3 406.4h.9v.9h-.9zM256.5 395.5h.9v.9h-.9zM260.9 401.7h.9v.9h-.9zM265.1 398.8h.9v.9h-.9zM255.3 398.7h.9v.9h-.9zM265.6 400.6h.9v.9h-.9zM271.0 409.3h.9v.9h-.9zM261.1 407.2h.9v.9h-.9zM264.2 397.9h.9v.9h-.9zM265.4 405.8h.9v.9h-.9zM267.1 407.6h.9v.9h-.9zM269.0 393.6h.9v.9h-.9zM269.4 402.7h.9v.9h-.9zM259.3 396.7h.9v.9h-.9zM271.4 402.1h.9v.9h-.9zM270.4 396.4h.9v.9h-.9zM267.8 405.6h.9v.9h-.9zM273.3 405.4h.9v.9h-.9zM268.3 395.9h.9v.9h-.9zM261.9 406.3h.9v.9h-.9zM269.2 401.9h.9v.9h-.9zM272.8 409.9h.9v.9h-.9zM268.3 394.4h.9v.9h-.9zM273.8 396.2h.9v.9h-.9zM272.9 393.8h.9v.9h-.9zM273.9 405.2h.9v.9h-.9zM263.1 393.5h.9v.9h-.9zM260.0 398.5h.9v.9h-.9zM269.3 394.6h.9v.9h-.9zM273.8 407.2h.9v.9h-.9zM269.9 398.2h.9v.9h-.9zM264.0 402.8h.9v.9h-.9zM270.1 402.3h.9v.9h-.9zM269.6 412.5h.9v.9h-.9zM273.2 399.4h.9v.9h-.9zM266.8 411.6h.9v.9h-.9zM260.1 395.5h.9v.9h-.9zM273.7 399.2h.9v.9h-.9zM272.5 392.2h.9v.9h-.9zM255.5 405.8h.9v.9h-.9zM271.6 408.7h.9v.9h-.9zM263.9 400.8h.9v.9h-.9zM271.3 401.0h.9v.9h-.9zM268.1 396.0h.9v.9h-.9zM266.3 406.2h.9v.9h-.9zM270.8 408.1h.9v.9h-.9zM271.4 391.8h.9v.9h-.9zM270.5 406.3h.9v.9h-.9zM263.0 400.3h.9v.9h-.9zM269.7 409.8h.9v.9h-.9zM274.0 404.4h.9v.9h-.9zM271.9 399.5h.9v.9h-.9zM266.3 409.2h.9v.9h-.9zM271.0 401.5h.9v.9h-.9zM274.0 398.6h.9v.9h-.9zM272.6 402.4h.9v.9h-.9zM261.1 403.3h.9v.9h-.9zM272.9 401.4h.9v.9h-.9zM272.5 403.6h.9v.9h-.9zM268.1 405.0h.9v.9h-.9zM268.8 412.7h.9v.9h-.9zM265.0 407.4h.9v.9h-.9zM266.8 409.1h.9v.9h-.9zM270.4 405.0h.9v.9h-.9zM267.7 401.7h.9v.9h-.9zM262.8 404.8h.9v.9h-.9zM263.9 401.9h.9v.9h-.9zM265.1 408.2h.9v.9h-.9zM269.7 394.5h.9v.9h-.9zM262.9 409.6h.9v.9h-.9zM264.7 405.0h.9v.9h-.9zM256.8 398.2h.9v.9h-.9zM272.9 397.5h.9v.9h-.9zM266.0 407.6h.9v.9h-.9zM271.9 403.5h.9v.9h-.9zM265.2 401.7h.9v.9h-.9zM271.1 404.8h.9v.9h-.9zM256.5 403.3h.9v.9h-.9zM267.4 408.1h.9v.9h-.9zM261.1 398.4h.9v.9h-.9zM268.5 399.2h.9v.9h-.9zM267.3 392.0h.9v.9h-.9zM272.5 406.3h.9v.9h-.9zM264.8 406.4h.9v.9h-.9zM265.8 396.7h.9v.9h-.9zM272.6 411.9h.9v.9h-.9zM271.8 404.4h.9v.9h-.9zM263.5 402.5h.9v.9h-.9zM266.1 398.7h.9v.9h-.9zM269.1 400.7h.9v.9h-.9zM271.4 410.0h.9v.9h-.9zM266.3 406.2h.9v.9h-.9zM266.3 398.4h.9v.9h-.9zM273.9 399.8h.9v.9h-.9zM271.3 402.1h.9v.9h-.9zM272.4 405.8h.9v.9h-.9zM270.5 404.4h.9v.9h-.9zM267.8 399.9h.9v.9h-.9zM273.0 404.2h.9v.9h-.9zM264.5 410.0h.9v.9h-.9zM257.8 398.2h.9v.9h-.9zM265.5 396.0h.9v.9h-.9zM260.4 407.2h.9v.9h-.9zM269.8 403.1h.9v.9h-.9zM271.7 412.9h.9v.9h-.9zM269.3 403.4h.9v.9h-.9zM265.5 395.3h.9v.9h-.9zM262.6 403.9h.9v.9h-.9zM264.6 406.0h.9v.9h-.9zM266.0 403.5h.9v.9h-.9zM263.7 400.7h.9v.9h-.9zM268.0 409.3h.9v.9h-.9zM265.1 401.0h.9v.9h-.9zM261.2 407.8h.9v.9h-.9zM270.6 398.4h.9v.9h-.9zM270.7 397.4h.9v.9h-.9zM265.3 410.9h.9v.9h-.9zM262.5 412.4h.9v.9h-.9zM258.0 403.1h.9v.9h-.9zM268.4 406.6h.9v.9h-.9zM258.5 404.6h.9v.9h-.9zM266.9 397.4h.9v.9h-.9zM268.8 405.5h.9v.9h-.9zM262.4 412.6h.9v.9h-.9zM270.8 394.8h.9v.9h-.9zM272.0 390.3h.9v.9h-.9zM272.1 399.4h.9v.9h-.9zM264.4 391.9h.9v.9h-.9zM265.7 403.0h.9v.9h-.9zM270.8 398.8h.9v.9h-.9zM272.1 411.2h.9v.9h-.9zM270.1 401.9h.9v.9h-.9zM269.2 395.7h.9v.9h-.9zM269.4 402.9h.9v.9h-.9zM269.8 411.0h.9v.9h-.9zM268.8 406.4h.9v.9h-.9zM264.2 394.9h.9v.9h-.9zM258.7 401.7h.9v.9h-.9zM270.3 409.4h.9v.9h-.9zM266.0 397.1h.9v.9h-.9zM267.6 398.5h.9v.9h-.9zM273.1 411.2h.9v.9h-.9zM265.5 395.3h.9v.9h-.9zM263.0 388.9h.9v.9h-.9zM273.8 410.1h.9v.9h-.9zM268.6 394.0h.9v.9h-.9zM264.4 402.1h.9v.9h-.9zM271.8 398.2h.9v.9h-.9zM264.4 404.2h.9v.9h-.9zM261.3 395.1h.9v.9h-.9zM257.5 405.6h.9v.9h-.9zM271.7 396.0h.9v.9h-.9zM268.9 398.5h.9v.9h-.9zM265.3 404.3h.9v.9h-.9zM267.5 403.5h.9v.9h-.9zM272.5 405.5h.9v.9h-.9zM268.7 407.4h.9v.9h-.9zM264.9 410.7h.9v.9h-.9zM268.5 408.4h.9v.9h-.9zM272.4 410.9h.9v.9h-.9zM267.0 406.8h.9v.9h-.9zM273.2 401.1h.9v.9h-.9zM272.9 404.2h.9v.9h-.9zM267.9 394.1h.9v.9h-.9zM269.7 408.4h.9v.9h-.9zM272.6 393.7h.9v.9h-.9zM271.7 402.8h.9v.9h-.9zM266.2 415.7h.9v.9h-.9zM268.6 398.9h.9v.9h-.9zM263.2 404.6h.9v.9h-.9zM268.6 414.4h.9v.9h-.9zM261.8 396.7h.9v.9h-.9zM271.7 391.4h.9v.9h-.9zM270.2 396.7h.9v.9h-.9zM273.8 401.0h.9v.9h-.9zM271.0 395.7h.9v.9h-.9zM260.0 400.9h.9v.9h-.9zM262.0 404.8h.9v.9h-.9zM264.5 397.6h.9v.9h-.9zM268.3 402.2h.9v.9h-.9zM273.4 411.7h.9v.9h-.9zM264.3 397.6h.9v.9h-.9zM273.4 393.2h.9v.9h-.9zM270.3 405.8h.9v.9h-.9zM262.3 396.9h.9v.9h-.9zM263.2 406.6h.9v.9h-.9zM270.5 406.7h.9v.9h-.9zM270.0 407.6h.9v.9h-.9zM270.6 400.6h.9v.9h-.9zM273.1 401.7h.9v.9h-.9zM273.1 396.3h.9v.9h-.9zM267.9 400.1h.9v.9h-.9zM261.9 403.5h.9v.9h-.9zM263.3 409.9h.9v.9h-.9zM269.7 396.2h.9v.9h-.9zM267.6 394.1h.9v.9h-.9zM271.5 405.6h.9v.9h-.9zM268.1 395.4h.9v.9h-.9zM269.5 403.1h.9v.9h-.9zM270.9 403.1h.9v.9h-.9zM266.1 401.0h.9v.9h-.9zM270.2 411.9h.9v.9h-.9zM273.8 399.7h.9v.9h-.9zM273.4 406.4h.9v.9h-.9zM271.3 406.0h.9v.9h-.9zM270.7 406.0h.9v.9h-.9zM259.4 401.9h.9v.9h-.9zM273.7 400.3h.9v.9h-.9zM272.8 393.2h.9v.9h-.9zM273.9 402.7h.9v.9h-.9zM271.3 399.4h.9v.9h-.9zM273.8 407.3h.9v.9h-.9zM260.6 395.9h.9v.9h-.9zM268.9 396.2h.9v.9h-.9zM268.5 403.6h.9v.9h-.9zM271.5 404.4h.9v.9h-.9zM269.4 406.1h.9v.9h-.9zM267.6 403.6h.9v.9h-.9zM270.3 398.4h.9v.9h-.9zM258.4 401.3h.9v.9h-.9zM261.2 403.0h.9v.9h-.9zM272.1 401.6h.9v.9h-.9zM263.0 395.0h.9v.9h-.9zM257.6 411.4h.9v.9h-.9zM263.9 397.9h.9v.9h-.9zM273.5 403.5h.9v.9h-.9zM270.5 392.6h.9v.9h-.9zM273.1 403.5h.9v.9h-.9zM267.9 399.6h.9v.9h-.9zM265.0 412.3h.9v.9h-.9zM270.3 400.8h.9v.9h-.9zM270.0 392.6h.9v.9h-.9zM256.0 395.6h.9v.9h-.9zM262.5 403.4h.9v.9h-.9zM267.6 403.8h.9v.9h-.9zM271.4 408.2h.9v.9h-.9zM270.1 401.8h.9v.9h-.9zM273.0 400.1h.9v.9h-.9zM273.8 410.2h.9v.9h-.9zM266.9 402.8h.9v.9h-.9zM269.3 392.6h.9v.9h-.9zM270.6 404.6h.9v.9h-.9zM266.7 405.2h.9v.9h-.9zM262.2 399.2h.9v.9h-.9zM269.6 413.0h.9v.9h-.9zM262.9 395.0h.9v.9h-.9zM262.5 399.0h.9v.9h-.9zM270.8 397.4h.9v.9h-.9zM272.9 407.9h.9v.9h-.9zM270.0 394.2h.9v.9h-.9zM270.9 415.2h.9v.9h-.9zM266.5 393.7h.9v.9h-.9zM262.1 403.2h.9v.9h-.9zM266.0 406.3h.9v.9h-.9zM270.6 407.3h.9v.9h-.9zM262.7 407.3h.9v.9h-.9zM271.1 405.5h.9v.9h-.9zM268.4 396.5h.9v.9h-.9zM272.8 401.2h.9v.9h-.9zM259.9 406.1h.9v.9h-.9zM273.8 396.2h.9v.9h-.9zM266.0 401.4h.9v.9h-.9zM270.7 402.1h.9v.9h-.9zM271.8 414.5h.9v.9h-.9zM271.7 406.7h.9v.9h-.9zM262.4 398.6h.9v.9h-.9zM269.9 397.7h.9v.9h-.9zM273.3 402.8h.9v.9h-.9zM271.9 396.2h.9v.9h-.9zM272.6 406.1h.9v.9h-.9zM269.4 402.1h.9v.9h-.9zM272.3 404.6h.9v.9h-.9zM270.4 409.1h.9v.9h-.9zM272.2 404.6h.9v.9h-.9zM272.1 400.4h.9v.9h-.9zM268.3 404.7h.9v.9h-.9zM267.7 403.8h.9v.9h-.9zM262.6 405.4h.9v.9h-.9zM273.5 408.0h.9v.9h-.9zM264.8 396.8h.9v.9h-.9zM268.8 403.4h.9v.9h-.9zM273.0 414.1h.9v.9h-.9zM267.6 407.0h.9v.9h-.9zM268.1 402.7h.9v.9h-.9zM273.7 406.2h.9v.9h-.9zM265.0 388.5h.9v.9h-.9zM268.0 412.1h.9v.9h-.9zM270.7 409.8h.9v.9h-.9zM268.0 414.8h.9v.9h-.9zM263.4 401.2h.9v.9h-.9zM271.3 394.7h.9v.9h-.9zM261.4 402.6h.9v.9h-.9zM263.7 403.3h.9v.9h-.9zM272.6 405.4h.9v.9h-.9zM272.7 401.4h.9v.9h-.9zM269.9 409.6h.9v.9h-.9zM271.5 400.6h.9v.9h-.9zM265.7 407.9h.9v.9h-.9zM268.3 391.8h.9v.9h-.9zM270.9 390.8h.9v.9h-.9zM266.6 411.4h.9v.9h-.9zM257.3 393.0h.9v.9h-.9zM269.0 409.7h.9v.9h-.9zM265.3 394.0h.9v.9h-.9zM272.5 398.7h.9v.9h-.9zM270.1 418.7h.9v.9h-.9zM268.0 415.4h.9v.9h-.9zM267.6 416.8h.9v.9h-.9zM269.4 418.9h.9v.9h-.9zM263.6 417.1h.9v.9h-.9zM270.7 415.5h.9v.9h-.9zM273.9 420.6h.9v.9h-.9zM262.4 421.8h.9v.9h-.9zM268.1 417.4h.9v.9h-.9zM267.0 417.5h.9v.9h-.9zM266.0 415.6h.9v.9h-.9zM272.9 424.6h.9v.9h-.9zM271.6 415.5h.9v.9h-.9zM273.9 425.2h.9v.9h-.9zM268.2 420.1h.9v.9h-.9zM264.7 422.1h.9v.9h-.9zM266.6 420.2h.9v.9h-.9zM270.1 416.0h.9v.9h-.9zM269.3 419.4h.9v.9h-.9zM267.5 420.6h.9v.9h-.9zM267.9 419.2h.9v.9h-.9zM272.6 419.0h.9v.9h-.9zM268.4 418.4h.9v.9h-.9zM264.9 415.7h.9v.9h-.9zM272.3 420.4h.9v.9h-.9zM265.3 416.8h.9v.9h-.9zM267.1 416.0h.9v.9h-.9zM267.2 422.4h.9v.9h-.9zM272.5 417.3h.9v.9h-.9zM269.1 418.4h.9v.9h-.9zM267.9 415.3h.9v.9h-.9zM268.7 418.5h.9v.9h-.9zM270.9 423.2h.9v.9h-.9zM269.2 422.3h.9v.9h-.9zM268.5 415.8h.9v.9h-.9zM268.1 414.6h.9v.9h-.9zM263.0 415.3h.9v.9h-.9zM270.7 419.4h.9v.9h-.9zM266.7 414.9h.9v.9h-.9zM269.8 422.5h.9v.9h-.9zM269.4 417.3h.9v.9h-.9zM269.9 429.0h.9v.9h-.9zM269.7 415.9h.9v.9h-.9zM265.5 417.0h.9v.9h-.9zM270.9 415.0h.9v.9h-.9zM268.1 415.0h.9v.9h-.9zM271.0 415.4h.9v.9h-.9zM264.0 427.0h.9v.9h-.9zM269.6 416.6h.9v.9h-.9zM265.8 415.0h.9v.9h-.9zM266.7 421.8h.9v.9h-.9zM271.7 416.1h.9v.9h-.9zM271.5 415.7h.9v.9h-.9zM270.5 419.5h.9v.9h-.9zM270.7 415.8h.9v.9h-.9zM268.9 420.0h.9v.9h-.9zM266.5 422.8h.9v.9h-.9zM268.3 415.9h.9v.9h-.9zM272.1 423.6h.9v.9h-.9zM272.5 422.1h.9v.9h-.9zM270.7 423.0h.9v.9h-.9zM272.8 418.4h.9v.9h-.9zM269.6 426.2h.9v.9h-.9zM270.5 420.1h.9v.9h-.9zM267.3 429.5h.9v.9h-.9zM272.1 419.8h.9v.9h-.9zM266.3 418.1h.9v.9h-.9zM267.8 417.3h.9v.9h-.9zM267.2 414.7h.9v.9h-.9zM272.5 419.3h.9v.9h-.9zM266.5 416.0h.9v.9h-.9zM271.0 415.7h.9v.9h-.9zM264.9 415.9h.9v.9h-.9zM268.9 427.7h.9v.9h-.9zM266.3 427.6h.9v.9h-.9zM274.9 422.3h.9v.9h-.9zM269.3 417.4h.9v.9h-.9zM269.7 415.4h.9v.9h-.9zM268.2 416.0h.9v.9h-.9zM265.6 415.3h.9v.9h-.9zM268.4 416.0h.9v.9h-.9zM267.0 430.1h.9v.9h-.9zM267.6 420.3h.9v.9h-.9zM268.3 419.5h.9v.9h-.9zM274.6 431.9h.9v.9h-.9zM269.1 421.2h.9v.9h-.9zM271.0 420.6h.9v.9h-.9zM261.8 424.8h.9v.9h-.9zM270.7 425.3h.9v.9h-.9zM265.0 420.5h.9v.9h-.9zM270.7 417.9h.9v.9h-.9zM270.2 420.7h.9v.9h-.9zM264.8 419.1h.9v.9h-.9zM266.4 416.8h.9v.9h-.9zM271.0 418.9h.9v.9h-.9zM269.3 424.3h.9v.9h-.9zM272.3 415.0h.9v.9h-.9zM263.8 419.9h.9v.9h-.9zM268.6 416.0h.9v.9h-.9zM270.4 423.2h.9v.9h-.9zM268.5 425.7h.9v.9h-.9zM270.5 426.7h.9v.9h-.9zM263.6 426.1h.9v.9h-.9zM262.5 418.5h.9v.9h-.9zM270.3 415.4h.9v.9h-.9zM264.0 417.2h.9v.9h-.9zM267.6 415.7h.9v.9h-.9zM269.4 415.6h.9v.9h-.9zM270.3 417.0h.9v.9h-.9zM267.3 422.4h.9v.9h-.9zM268.7 419.8h.9v.9h-.9zM268.7 422.0h.9v.9h-.9zM267.8 422.0h.9v.9h-.9zM268.2 417.2h.9v.9h-.9zM267.7 418.8h.9v.9h-.9zM271.6 416.1h.9v.9h-.9zM268.1 424.3h.9v.9h-.9zM271.0 417.6h.9v.9h-.9zM268.2 419.8h.9v.9h-.9zM271.2 414.2h.9v.9h-.9zM268.8 414.1h.9v.9h-.9zM264.2 416.4h.9v.9h-.9zM267.8 420.5h.9v.9h-.9zM265.9 417.4h.9v.9h-.9zM270.0 421.6h.9v.9h-.9zM268.1 415.3h.9v.9h-.9zM270.3 417.4h.9v.9h-.9zM266.3 414.7h.9v.9h-.9zM267.0 419.9h.9v.9h-.9zM265.6 417.3h.9v.9h-.9zM267.1 414.1h.9v.9h-.9zM271.8 414.8h.9v.9h-.9zM265.5 425.0h.9v.9h-.9zM266.9 425.1h.9v.9h-.9zM267.1 415.5h.9v.9h-.9zM266.2 416.4h.9v.9h-.9zM271.4 432.8h.9v.9h-.9zM271.8 416.8h.9v.9h-.9zM270.2 423.1h.9v.9h-.9zM268.0 417.2h.9v.9h-.9zM266.7 416.1h.9v.9h-.9zM268.6 422.7h.9v.9h-.9zM269.5 425.1h.9v.9h-.9zM272.1 415.5h.9v.9h-.9zM271.9 415.3h.9v.9h-.9zM272.0 414.8h.9v.9h-.9zM264.2 425.6h.9v.9h-.9zM260.4 416.3h.9v.9h-.9zM270.1 419.4h.9v.9h-.9zM269.5 414.2h.9v.9h-.9zM268.3 415.6h.9v.9h-.9zM269.1 420.8h.9v.9h-.9zM270.6 416.3h.9v.9h-.9zM273.5 414.3h.9v.9h-.9zM267.9 417.4h.9v.9h-.9zM274.3 419.7h.9v.9h-.9zM274.0 418.7h.9v.9h-.9zM263.7 416.9h.9v.9h-.9zM271.8 420.6h.9v.9h-.9zM266.7 418.7h.9v.9h-.9zM268.0 416.5h.9v.9h-.9zM270.5 424.3h.9v.9h-.9zM272.3 414.5h.9v.9h-.9zM272.5 415.2h.9v.9h-.9zM272.6 428.3h.9v.9h-.9zM266.9 421.2h.9v.9h-.9zM268.0 428.0h.9v.9h-.9zM271.2 414.3h.9v.9h-.9zM269.3 424.6h.9v.9h-.9zM264.1 423.3h.9v.9h-.9zM267.7 417.0h.9v.9h-.9zM267.2 414.8h.9v.9h-.9zM270.7 420.5h.9v.9h-.9zM266.5 416.0h.9v.9h-.9zM270.2 421.1h.9v.9h-.9zM265.0 416.5h.9v.9h-.9zM267.7 417.1h.9v.9h-.9zM269.7 414.2h.9v.9h-.9zM269.9 423.7h.9v.9h-.9zM270.1 418.8h.9v.9h-.9zM265.9 427.8h.9v.9h-.9zM264.2 419.4h.9v.9h-.9zM269.3 415.0h.9v.9h-.9zM269.2 423.2h.9v.9h-.9zM262.4 418.3h.9v.9h-.9zM270.6 422.6h.9v.9h-.9zM269.5 415.9h.9v.9h-.9zM267.1 416.1h.9v.9h-.9zM265.6 419.0h.9v.9h-.9zM269.6 415.4h.9v.9h-.9zM264.1 416.0h.9v.9h-.9zM265.5 418.1h.9v.9h-.9zM265.2 421.5h.9v.9h-.9zM267.6 420.5h.9v.9h-.9zM271.5 425.6h.9v.9h-.9zM270.6 415.1h.9v.9h-.9zM270.1 422.1h.9v.9h-.9zM267.4 416.1h.9v.9h-.9zM264.3 414.8h.9v.9h-.9zM268.0 416.3h.9v.9h-.9zM268.1 419.1h.9v.9h-.9zM267.3 416.2h.9v.9h-.9zM270.9 421.5h.9v.9h-.9zM270.0 421.2h.9v.9h-.9zM271.0 418.2h.9v.9h-.9zM269.8 415.4h.9v.9h-.9zM268.5 414.0h.9v.9h-.9zM267.8 415.2h.9v.9h-.9zM271.5 415.3h.9v.9h-.9zM270.9 414.7h.9v.9h-.9zM265.0 431.8h.9v.9h-.9zM271.3 417.0h.9v.9h-.9zM265.8 424.1h.9v.9h-.9zM268.4 414.3h.9v.9h-.9zM265.0 421.1h.9v.9h-.9zM271.9 415.6h.9v.9h-.9zM265.8 417.4h.9v.9h-.9zM268.0 414.9h.9v.9h-.9zM275.3 422.4h.9v.9h-.9zM268.8 414.1h.9v.9h-.9zM267.8 417.4h.9v.9h-.9zM269.3 427.0h.9v.9h-.9zM261.1 418.4h.9v.9h-.9zM268.8 418.3h.9v.9h-.9zM265.9 418.8h.9v.9h-.9zM270.8 427.9h.9v.9h-.9zM268.5 419.4h.9v.9h-.9zM268.9 419.2h.9v.9h-.9zM264.8 419.8h.9v.9h-.9zM269.8 429.7h.9v.9h-.9zM270.3 416.1h.9v.9h-.9zM262.8 425.0h.9v.9h-.9zM263.6 416.7h.9v.9h-.9zM270.2 420.3h.9v.9h-.9zM264.5 421.8h.9v.9h-.9zM262.1 429.8h.9v.9h-.9zM267.5 430.0h.9v.9h-.9zM262.1 415.1h.9v.9h-.9zM265.9 420.5h.9v.9h-.9zM269.3 416.1h.9v.9h-.9zM267.8 421.4h.9v.9h-.9zM269.4 417.8h.9v.9h-.9zM268.8 416.7h.9v.9h-.9zM266.4 419.9h.9v.9h-.9zM267.7 421.7h.9v.9h-.9zM271.4 422.1h.9v.9h-.9zM265.6 419.3h.9v.9h-.9zM263.5 422.5h.9v.9h-.9zM267.8 417.9h.9v.9h-.9zM268.6 418.9h.9v.9h-.9zM270.3 423.2h.9v.9h-.9zM268.6 420.8h.9v.9h-.9zM274.9 424.2h.9v.9h-.9zM269.8 429.4h.9v.9h-.9zM265.1 428.6h.9v.9h-.9zM273.3 415.9h.9v.9h-.9zM273.8 419.5h.9v.9h-.9zM266.8 415.7h.9v.9h-.9zM269.1 429.5h.9v.9h-.9zM270.0 417.4h.9v.9h-.9zM266.0 421.4h.9v.9h-.9zM267.8 418.3h.9v.9h-.9zM269.6 416.3h.9v.9h-.9zM266.3 418.9h.9v.9h-.9zM262.1 416.4h.9v.9h-.9zM268.4 425.2h.9v.9h-.9zM274.3 415.2h.9v.9h-.9zM268.5 414.2h.9v.9h-.9zM269.3 424.4h.9v.9h-.9zM271.2 419.9h.9v.9h-.9zM269.6 415.8h.9v.9h-.9zM268.1 426.0h.9v.9h-.9zM269.1 418.4h.9v.9h-.9zM265.4 416.9h.9v.9h-.9zM268.3 420.5h.9v.9h-.9zM266.2 424.0h.9v.9h-.9zM267.5 419.8h.9v.9h-.9zM267.9 418.9h.9v.9h-.9zM266.4 414.0h.9v.9h-.9zM266.6 419.6h.9v.9h-.9zM270.9 417.0h.9v.9h-.9zM266.8 418.6h.9v.9h-.9zM261.6 414.6h.9v.9h-.9zM270.1 418.4h.9v.9h-.9zM269.4 416.1h.9v.9h-.9zM272.6 421.2h.9v.9h-.9zM268.0 428.2h.9v.9h-.9zM266.9 416.3h.9v.9h-.9zM271.2 417.6h.9v.9h-.9zM268.7 416.7h.9v.9h-.9zM267.3 415.0h.9v.9h-.9zM269.4 422.0h.9v.9h-.9zM264.0 426.6h.9v.9h-.9zM267.5 418.3h.9v.9h-.9zM270.4 415.6h.9v.9h-.9zM268.7 414.1h.9v.9h-.9zM271.5 419.3h.9v.9h-.9zM261.8 417.8h.9v.9h-.9zM267.1 414.2h.9v.9h-.9zM271.5 422.0h.9v.9h-.9zM273.8 415.3h.9v.9h-.9zM268.8 420.0h.9v.9h-.9zM265.3 416.7h.9v.9h-.9zM268.1 417.7h.9v.9h-.9zM275.0 416.2h.9v.9h-.9zM264.9 420.8h.9v.9h-.9zM268.9 417.1h.9v.9h-.9zM271.4 414.1h.9v.9h-.9zM269.7 421.6h.9v.9h-.9zM268.9 421.4h.9v.9h-.9zM266.5 415.1h.9v.9h-.9zM261.5 418.8h.9v.9h-.9zM259.3 420.4h.9v.9h-.9zM268.2 417.4h.9v.9h-.9zM272.8 418.9h.9v.9h-.9zM266.6 415.5h.9v.9h-.9zM267.4 417.5h.9v.9h-.9zM266.7 414.9h.9v.9h-.9zM261.3 422.8h.9v.9h-.9zM265.4 418.5h.9v.9h-.9zM265.1 420.4h.9v.9h-.9zM266.4 417.2h.9v.9h-.9zM269.5 422.6h.9v.9h-.9zM274.4 419.7h.9v.9h-.9zM265.8 414.4h.9v.9h-.9zM267.7 415.0h.9v.9h-.9zM262.9 414.2h.9v.9h-.9zM269.9 414.6h.9v.9h-.9zM269.6 421.1h.9v.9h-.9zM262.1 424.6h.9v.9h-.9zM269.8 416.1h.9v.9h-.9zM262.8 415.1h.9v.9h-.9zM271.6 415.1h.9v.9h-.9zM267.7 420.6h.9v.9h-.9zM269.0 416.3h.9v.9h-.9zM268.8 421.7h.9v.9h-.9zM263.8 416.3h.9v.9h-.9zM268.8 420.6h.9v.9h-.9zM263.7 424.9h.9v.9h-.9zM273.4 419.2h.9v.9h-.9zM264.7 415.9h.9v.9h-.9zM268.5 429.5h.9v.9h-.9zM267.6 419.4h.9v.9h-.9zM274.8 419.0h.9v.9h-.9zM269.0 415.8h.9v.9h-.9zM270.1 418.3h.9v.9h-.9zM272.2 415.4h.9v.9h-.9zM271.5 422.5h.9v.9h-.9zM259.6 414.3h.9v.9h-.9zM267.6 419.4h.9v.9h-.9zM268.1 422.8h.9v.9h-.9zM266.9 414.7h.9v.9h-.9zM260.2 414.8h.9v.9h-.9zM271.7 420.3h.9v.9h-.9zM270.9 419.7h.9v.9h-.9zM263.6 414.2h.9v.9h-.9zM269.8 422.3h.9v.9h-.9zM265.8 414.1h.9v.9h-.9zM266.5 414.1h.9v.9h-.9zM267.5 416.5h.9v.9h-.9zM267.5 414.7h.9v.9h-.9zM267.1 414.7h.9v.9h-.9zM268.8 415.1h.9v.9h-.9zM269.4 419.1h.9v.9h-.9zM271.2 415.6h.9v.9h-.9zM271.4 421.6h.9v.9h-.9zM268.7 425.9h.9v.9h-.9zM266.0 414.7h.9v.9h-.9zM266.6 416.5h.9v.9h-.9zM268.4 416.7h.9v.9h-.9zM268.7 418.6h.9v.9h-.9zM270.3 419.7h.9v.9h-.9zM264.4 416.7h.9v.9h-.9zM263.9 417.1h.9v.9h-.9zM265.8 418.8h.9v.9h-.9zM269.6 416.8h.9v.9h-.9zM268.4 415.0h.9v.9h-.9zM274.1 421.2h.9v.9h-.9zM263.4 420.9h.9v.9h-.9zM261.7 419.7h.9v.9h-.9zM270.8 417.4h.9v.9h-.9zM267.9 420.6h.9v.9h-.9zM272.0 416.0h.9v.9h-.9zM268.0 415.1h.9v.9h-.9zM263.0 423.8h.9v.9h-.9zM263.5 419.6h.9v.9h-.9zM274.5 423.2h.9v.9h-.9zM268.1 421.6h.9v.9h-.9zM266.2 428.7h.9v.9h-.9zM270.3 424.1h.9v.9h-.9zM272.8 417.2h.9v.9h-.9zM267.9 417.3h.9v.9h-.9zM266.9 420.3h.9v.9h-.9zM268.5 417.1h.9v.9h-.9zM270.5 419.9h.9v.9h-.9zM274.2 415.0h.9v.9h-.9zM266.3 416.6h.9v.9h-.9zM268.5 419.7h.9v.9h-.9zM264.4 420.0h.9v.9h-.9zM263.9 418.4h.9v.9h-.9zM263.3 419.2h.9v.9h-.9zM267.8 425.0h.9v.9h-.9zM271.4 414.9h.9v.9h-.9zM273.0 422.1h.9v.9h-.9zM272.2 426.6h.9v.9h-.9zM267.5 417.1h.9v.9h-.9zM267.8 417.9h.9v.9h-.9zM266.2 419.3h.9v.9h-.9zM265.9 419.8h.9v.9h-.9zM265.6 423.9h.9v.9h-.9zM272.9 415.8h.9v.9h-.9zM265.1 417.4h.9v.9h-.9zM265.0 424.1h.9v.9h-.9zM263.8 416.9h.9v.9h-.9zM270.6 423.1h.9v.9h-.9zM271.2 418.7h.9v.9h-.9zM266.3 426.8h.9v.9h-.9zM262.6 414.9h.9v.9h-.9zM268.2 417.8h.9v.9h-.9zM270.9 420.6h.9v.9h-.9zM272.7 416.1h.9v.9h-.9zM268.4 417.3h.9v.9h-.9zM270.5 417.0h.9v.9h-.9zM270.5 420.9h.9v.9h-.9zM267.7 422.3h.9v.9h-.9zM273.8 417.3h.9v.9h-.9zM267.2 419.1h.9v.9h-.9zM271.8 417.6h.9v.9h-.9zM268.7 416.8h.9v.9h-.9zM266.6 424.2h.9v.9h-.9zM266.5 423.3h.9v.9h-.9zM268.2 415.4h.9v.9h-.9zM269.1 415.5h.9v.9h-.9zM268.6 419.5h.9v.9h-.9zM267.1 414.0h.9v.9h-.9zM266.9 415.6h.9v.9h-.9zM267.0 419.1h.9v.9h-.9zM272.9 421.7h.9v.9h-.9zM270.6 414.8h.9v.9h-.9zM271.1 418.1h.9v.9h-.9zM271.1 415.9h.9v.9h-.9zM264.6 414.9h.9v.9h-.9zM260.5 425.0h.9v.9h-.9zM263.8 420.7h.9v.9h-.9zM265.5 414.3h.9v.9h-.9zM272.6 426.2h.9v.9h-.9zM272.8 414.8h.9v.9h-.9zM268.6 421.7h.9v.9h-.9zM264.3 419.9h.9v.9h-.9zM270.5 420.2h.9v.9h-.9zM270.5 426.4h.9v.9h-.9zM269.2 420.4h.9v.9h-.9zM269.4 421.9h.9v.9h-.9zM267.2 418.0h.9v.9h-.9zM269.1 423.3h.9v.9h-.9zM271.0 414.1h.9v.9h-.9zM264.0 420.5h.9v.9h-.9zM268.2 425.1h.9v.9h-.9zM269.6 417.2h.9v.9h-.9zM268.1 419.3h.9v.9h-.9zM268.1 420.0h.9v.9h-.9zM269.3 423.1h.9v.9h-.9zM264.9 420.6h.9v.9h-.9zM269.3 418.0h.9v.9h-.9zM271.1 419.9h.9v.9h-.9zM264.3 423.7h.9v.9h-.9zM269.3 421.1h.9v.9h-.9zM268.4 415.1h.9v.9h-.9zM265.4 419.1h.9v.9h-.9zM264.9 416.4h.9v.9h-.9zM269.3 416.7h.9v.9h-.9zM268.0 419.2h.9v.9h-.9zM271.6 417.6h.9v.9h-.9zM270.9 419.2h.9v.9h-.9zM270.2 420.1h.9v.9h-.9zM269.4 420.8h.9v.9h-.9zM264.7 419.9h.9v.9h-.9zM272.8 423.2h.9v.9h-.9zM267.6 415.9h.9v.9h-.9zM264.5 417.9h.9v.9h-.9zM265.2 422.0h.9v.9h-.9zM266.3 425.1h.9v.9h-.9zM273.9 418.9h.9v.9h-.9zM271.6 416.6h.9v.9h-.9zM265.4 415.3h.9v.9h-.9zM270.2 422.0h.9v.9h-.9zM269.9 416.7h.9v.9h-.9zM259.0 424.9h.9v.9h-.9zM262.3 425.3h.9v.9h-.9zM266.4 422.3h.9v.9h-.9z" fill="#000"/>
<rect x="246.8" y="362.3" width="78.19999999999999" height="77.09999999999997" fill="none" stroke="#000" stroke-width="1.2"/>
<text x="160.3" y="371.8" font-size="9.8" text-anchor="start" fill="#111" textLength="13.4" lengthAdjust="spacingAndGlyphs">2%</text>
<text x="235.9" y="371.8" font-size="9.8" text-anchor="end" fill="#111" textLength="17.8" lengthAdjust="spacingAndGlyphs">&lt;1%</text>
<text x="159.6" y="437.9" font-size="9.8" text-anchor="start" fill="#111" textLength="18.4" lengthAdjust="spacingAndGlyphs">96%</text>
<text x="235.6" y="437.9" font-size="9.8" text-anchor="end" fill="#111" textLength="13.4" lengthAdjust="spacingAndGlyphs">2%</text>
<text x="247.6" y="371.7" font-size="9.8" text-anchor="start" fill="#111" textLength="18.4" lengthAdjust="spacingAndGlyphs">84%</text>
<text x="324.6" y="371.7" font-size="9.8" text-anchor="end" fill="#111" textLength="17.8" lengthAdjust="spacingAndGlyphs">&lt;1%</text>
<text x="247.6" y="437.9" font-size="9.8" text-anchor="start" fill="#111" textLength="18.4" lengthAdjust="spacingAndGlyphs">16%</text>
<text x="324.6" y="437.9" font-size="9.8" text-anchor="end" fill="#111" textLength="17.8" lengthAdjust="spacingAndGlyphs">&lt;1%</text>
<text transform="translate(148.9,402.2) rotate(-90)" x="0" y="3.1" font-size="8.8" text-anchor="middle" fill="#333" textLength="42.5" lengthAdjust="spacingAndGlyphs" stroke="#333" stroke-width="0.2">Anti-mouse Ig</text>
<path d="M148.6,364.4 L146.3,369.8 L150.9,369.8 Z" fill="#000"/>
<line x1="148.60" y1="369.00" x2="148.60" y2="371.50" stroke="#000" stroke-width="1.5" />
<line x1="148.60" y1="430.50" x2="148.60" y2="437.50" stroke="#000" stroke-width="1.5" />
<line x1="188.50" y1="448.80" x2="227.70" y2="448.80" stroke="#000" stroke-width="1.2" />
<text x="241.6" y="452.4" font-size="10" text-anchor="middle" fill="#333" stroke="#333" stroke-width="0.25" textLength="12.4" lengthAdjust="spacingAndGlyphs">CD7</text>
<line x1="254.00" y1="448.40" x2="290.00" y2="448.40" stroke="#000" stroke-width="1.2" />
<path d="M294.6,448.4 L289.2,446.2 L289.2,450.6 Z" fill="#000"/>
<text x="340.3" y="330.3" font-size="12.2" font-weight="bold" fill="#000">I</text>
<line x1="383.40" y1="341.50" x2="383.40" y2="439.25" stroke="#000" stroke-width="1.3" />
<line x1="380.40" y1="438.60" x2="383.40" y2="438.60" stroke="#000" stroke-width="1.3" />
<text x="376.79999999999995" y="441.52" font-size="8.1" text-anchor="end" fill="#333" font-weight="normal" >0</text>
<line x1="380.40" y1="415.00" x2="383.40" y2="415.00" stroke="#000" stroke-width="1.3" />
<text x="376.79999999999995" y="417.92" font-size="8.1" text-anchor="end" fill="#333" font-weight="normal" >30</text>
<line x1="380.40" y1="391.40" x2="383.40" y2="391.40" stroke="#000" stroke-width="1.3" />
<text x="376.79999999999995" y="394.32" font-size="8.1" text-anchor="end" fill="#333" font-weight="normal" >60</text>
<line x1="380.40" y1="367.80" x2="383.40" y2="367.80" stroke="#000" stroke-width="1.3" />
<text x="376.79999999999995" y="370.72" font-size="8.1" text-anchor="end" fill="#333" font-weight="normal" >90</text>
<line x1="380.40" y1="344.20" x2="383.40" y2="344.20" stroke="#000" stroke-width="1.3" />
<text x="376.79999999999995" y="347.12" font-size="8.1" text-anchor="end" fill="#333" font-weight="normal" >120</text>
<line x1="382.75" y1="438.60" x2="443.70" y2="438.60" stroke="#000" stroke-width="1.3" />
<line x1="398.10" y1="438.60" x2="398.10" y2="441.60" stroke="#000" stroke-width="1.3" />
<line x1="428.30" y1="438.60" x2="428.30" y2="441.60" stroke="#000" stroke-width="1.3" />
<text x="398.3" y="451.86" font-size="8.5" text-anchor="middle" fill="#333" font-weight="normal" >Mock</text>
<text x="429.2" y="451.86" font-size="8.5" text-anchor="middle" fill="#333" font-weight="normal" >PEBL</text>
<text transform="translate(357.4,390.0) rotate(-90)" x="0" y="0" font-size="9.4" text-anchor="middle" fill="#333" stroke="#333" stroke-width="0.2" textLength="77" lengthAdjust="spacingAndGlyphs">% viable cells recovered</text>
<line x1="396.30" y1="341.20" x2="427.80" y2="341.20" stroke="#000" stroke-width="1.2" />
<circle cx="396.7" cy="341.7" r="0.9" fill="#000"/><circle cx="427.40000000000003" cy="341.7" r="0.9" fill="#000"/>
<circle cx="409.8" cy="337.7" r="1.2" fill="#111"/>
<circle cx="413.6" cy="337.7" r="1.2" fill="#111"/>
<circle cx="397.90" cy="394.55" r="2.4" fill="#fff" stroke="#45548a" stroke-width="1.2"/>
<circle cx="397.90" cy="395.33" r="2.4" fill="#fff" stroke="#45548a" stroke-width="1.2"/>
<circle cx="397.90" cy="400.37" r="2.4" fill="#fff" stroke="#45548a" stroke-width="1.2"/>
<circle cx="397.90" cy="412.40" r="2.4" fill="#fff" stroke="#45548a" stroke-width="1.2"/>
<circle cx="397.90" cy="416.57" r="2.4" fill="#fff" stroke="#45548a" stroke-width="1.2"/>
<circle cx="397.90" cy="420.66" r="2.4" fill="#fff" stroke="#45548a" stroke-width="1.2"/>
<circle cx="428.00" cy="347.35" r="2.4" fill="#fff" stroke="#6a4680" stroke-width="1.2"/>
<circle cx="428.00" cy="384.63" r="2.4" fill="#fff" stroke="#6a4680" stroke-width="1.2"/>
<circle cx="428.00" cy="391.48" r="2.4" fill="#fff" stroke="#6a4680" stroke-width="1.2"/>
<circle cx="428.00" cy="378.42" r="2.4" fill="#fff" stroke="#6a4680" stroke-width="1.2"/>
<circle cx="428.00" cy="380.39" r="2.4" fill="#fff" stroke="#6a4680" stroke-width="1.2"/>
<circle cx="428.00" cy="395.33" r="2.4" fill="#fff" stroke="#6a4680" stroke-width="1.2"/>
<line x1="397.90" y1="394.55" x2="428.00" y2="347.35" stroke="#000" stroke-width="1.3" />
<line x1="397.90" y1="395.33" x2="428.00" y2="384.63" stroke="#000" stroke-width="1.3" />
<line x1="397.90" y1="400.37" x2="428.00" y2="391.48" stroke="#000" stroke-width="1.3" />
<line x1="397.90" y1="412.40" x2="428.00" y2="378.42" stroke="#000" stroke-width="1.3" />
<line x1="397.90" y1="416.57" x2="428.00" y2="380.39" stroke="#000" stroke-width="1.3" />
<line x1="397.90" y1="420.66" x2="428.00" y2="395.33" stroke="#000" stroke-width="1.3" />
<rect x="0" y="0" width="520" height="1.4" fill="#000"/>
<rect x="0" y="0" width="1.3" height="461" fill="#000"/>
<rect x="518.5" y="0" width="1.5" height="461" fill="#000"/>
<rect x="0" y="459.5" width="520" height="1.5" fill="#000"/>
</svg></body></html>
